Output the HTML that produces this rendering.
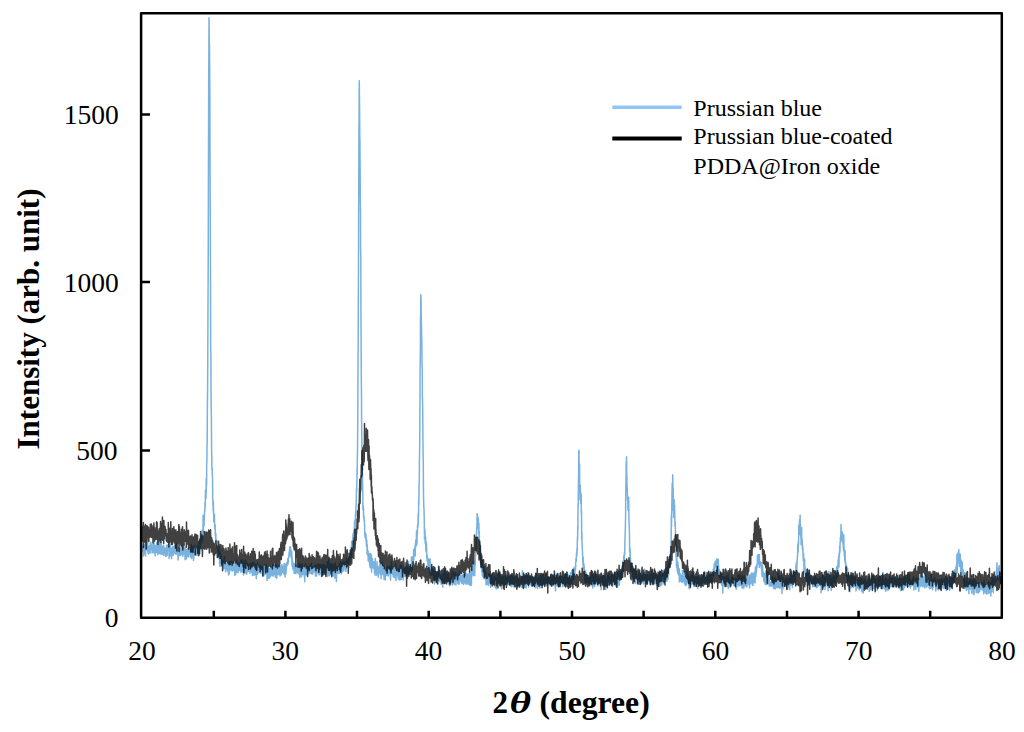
<!DOCTYPE html>
<html><head><meta charset="utf-8">
<style>
html,body{margin:0;padding:0;background:#fff;}
body{width:1024px;height:732px;overflow:hidden;}
svg{display:block;}
text{font-family:"Liberation Serif",serif;fill:#000;}
</style></head>
<body>
<svg width="1024" height="732" viewBox="0 0 1024 732">
<rect x="0" y="0" width="1024" height="732" fill="#fff"/>
<g fill="none" stroke-linejoin="round">
<path d="M142.1 550.8L142.2 546.4 142.4 545.4 142.5 551.2 142.7 546.6 142.8 548.9 143.0 550.8 143.1 546.7 143.2 547.4 143.4 550.4 143.5 555.9 143.7 550.4 143.8 550.9 144.0 548.6 144.1 548.3 144.2 553.4 144.4 546.0 144.5 546.2 144.7 553.4 144.8 545.9 145.0 544.4 145.1 550.1 145.3 551.8 145.4 554.3 145.5 555.9 145.7 541.0 145.8 547.9 146.0 547.5 146.1 549.8 146.3 545.7 146.4 548.7 146.5 549.5 146.7 549.2 146.8 545.8 147.0 549.4 147.1 545.7 147.3 545.8 147.4 547.7 147.5 551.3 147.7 541.9 147.8 548.4 148.0 553.2 148.1 549.1 148.3 546.8 148.4 549.5 148.5 553.9 148.7 548.1 148.8 546.3 149.0 551.2 149.1 547.8 149.3 546.3 149.4 551.4 149.6 545.8 149.7 547.6 149.8 553.1 150.0 549.2 150.1 552.9 150.3 542.7 150.4 543.6 150.6 546.0 150.7 548.2 150.8 542.3 151.0 549.4 151.1 546.8 151.3 546.9 151.4 548.7 151.6 547.8 151.7 544.6 151.8 547.9 152.0 544.7 152.1 553.1 152.3 547.1 152.4 547.8 152.6 546.5 152.7 548.8 152.8 549.4 153.0 548.2 153.1 545.2 153.3 552.4 153.4 548.6 153.6 542.4 153.7 541.2 153.9 544.9 154.0 544.8 154.1 543.1 154.3 545.4 154.4 549.8 154.6 552.9 154.7 549.4 154.9 549.8 155.0 552.5 155.1 556.0 155.3 552.5 155.4 550.7 155.6 548.3 155.7 545.4 155.9 550.2 156.0 552.7 156.1 549.8 156.3 546.9 156.4 550.7 156.6 548.5 156.7 546.8 156.9 542.1 157.0 550.6 157.1 546.6 157.3 552.6 157.4 546.7 157.6 549.1 157.7 546.9 157.9 554.7 158.0 553.3 158.1 548.8 158.3 553.6 158.4 544.7 158.6 551.0 158.7 547.0 158.9 548.4 159.0 547.3 159.2 550.8 159.3 542.9 159.4 547.3 159.6 553.5 159.7 541.3 159.9 548.2 160.0 544.4 160.2 540.0 160.3 550.2 160.4 547.3 160.6 553.2 160.7 542.7 160.9 550.2 161.0 554.3 161.2 542.7 161.3 551.1 161.4 551.3 161.6 549.7 161.7 553.7 161.9 551.3 162.0 546.6 162.2 546.4 162.3 548.6 162.4 554.6 162.6 548.6 162.7 552.1 162.9 548.6 163.0 551.2 163.2 550.9 163.3 553.2 163.5 555.3 163.6 547.4 163.7 545.3 163.9 548.9 164.0 549.1 164.2 550.1 164.3 552.6 164.5 547.9 164.6 549.4 164.7 549.4 164.9 553.1 165.0 548.0 165.2 553.5 165.3 556.0 165.5 548.8 165.6 554.4 165.7 551.5 165.9 549.4 166.0 556.5 166.2 553.9 166.3 548.7 166.5 551.7 166.6 547.6 166.7 545.2 166.9 553.5 167.0 550.0 167.2 555.5 167.3 550.6 167.5 551.0 167.6 549.7 167.8 550.7 167.9 547.5 168.0 549.4 168.2 544.3 168.3 544.1 168.5 545.6 168.6 548.1 168.8 549.9 168.9 549.6 169.0 554.2 169.2 558.6 169.3 542.1 169.5 555.2 169.6 553.5 169.8 548.4 169.9 550.9 170.0 543.8 170.2 549.6 170.3 555.7 170.5 546.4 170.6 548.4 170.8 550.8 170.9 552.8 171.0 550.7 171.2 548.8 171.3 552.7 171.5 548.6 171.6 558.7 171.8 554.8 171.9 551.0 172.0 547.9 172.2 548.8 172.3 548.2 172.5 549.6 172.6 552.2 172.8 546.4 172.9 551.3 173.1 550.8 173.2 547.6 173.3 555.2 173.5 552.5 173.6 551.9 173.8 549.0 173.9 548.4 174.1 551.0 174.2 546.0 174.3 552.2 174.5 547.1 174.6 550.9 174.8 553.2 174.9 550.1 175.1 548.8 175.2 548.5 175.3 551.5 175.5 547.3 175.6 550.9 175.8 554.3 175.9 544.7 176.1 548.4 176.2 552.0 176.3 547.4 176.5 547.6 176.6 547.0 176.8 554.0 176.9 544.0 177.1 550.7 177.2 550.5 177.4 551.2 177.5 548.5 177.6 551.4 177.8 549.4 177.9 548.3 178.1 559.9 178.2 554.6 178.4 547.6 178.5 548.9 178.6 552.7 178.8 556.1 178.9 550.6 179.1 553.7 179.2 552.0 179.4 555.3 179.5 549.6 179.6 548.8 179.8 552.3 179.9 552.4 180.1 551.6 180.2 555.6 180.4 553.8 180.5 551.9 180.6 547.6 180.8 553.9 180.9 554.5 181.1 549.4 181.2 551.3 181.4 547.9 181.5 552.1 181.7 550.9 181.8 545.7 181.9 551.7 182.1 550.6 182.2 550.6 182.4 555.2 182.5 553.4 182.7 554.7 182.8 550.7 182.9 556.3 183.1 549.2 183.2 554.3 183.4 546.8 183.5 552.6 183.7 548.4 183.8 547.0 183.9 554.1 184.1 552.5 184.2 553.6 184.4 552.1 184.5 552.8 184.7 551.8 184.8 551.4 184.9 552.4 185.1 559.7 185.2 548.6 185.4 547.0 185.5 549.0 185.7 549.9 185.8 554.0 185.9 556.0 186.1 556.2 186.2 551.7 186.4 554.9 186.5 558.8 186.7 554.7 186.8 557.0 187.0 549.4 187.1 555.7 187.2 555.5 187.4 548.7 187.5 553.0 187.7 555.0 187.8 549.9 188.0 556.0 188.1 556.3 188.2 554.0 188.4 552.7 188.5 552.4 188.7 554.4 188.8 556.9 189.0 548.5 189.1 553.8 189.2 554.0 189.4 550.2 189.5 548.8 189.7 552.5 189.8 547.5 190.0 554.0 190.1 552.3 190.2 549.5 190.4 553.3 190.5 550.4 190.7 550.8 190.8 557.3 191.0 550.6 191.1 544.5 191.3 554.3 191.4 549.7 191.5 550.2 191.7 558.6 191.8 553.0 192.0 556.1 192.1 548.5 192.3 549.7 192.4 550.4 192.5 555.7 192.7 550.9 192.8 546.6 193.0 555.8 193.1 551.4 193.3 553.4 193.4 555.8 193.5 560.6 193.7 552.9 193.8 558.5 194.0 548.2 194.1 553.5 194.3 554.0 194.4 545.2 194.5 549.4 194.7 550.3 194.8 554.5 195.0 551.0 195.1 551.1 195.3 550.2 195.4 554.1 195.6 552.2 195.7 552.0 195.8 551.4 196.0 554.5 196.1 549.5 196.3 551.8 196.4 551.9 196.6 553.0 196.7 555.1 196.8 552.6 197.0 546.5 197.1 554.7 197.3 555.3 197.4 555.4 197.6 553.7 197.7 544.9 197.8 549.8 198.0 552.9 198.1 552.8 198.3 549.2 198.4 549.8 198.6 545.1 198.7 550.2 198.8 540.9 199.0 547.3 199.1 551.3 199.3 543.0 199.4 551.7 199.6 553.9 199.7 548.2 199.8 543.9 200.0 543.5 200.1 540.3 200.3 547.1 200.4 539.7 200.6 544.0 200.7 538.6 200.9 544.2 201.0 536.2 201.1 540.4 201.3 537.4 201.4 543.5 201.6 537.2 201.7 537.4 201.9 541.8 202.0 532.0 202.1 530.6 202.3 534.4 202.4 529.6 202.6 539.7 202.7 532.4 202.9 531.8 203.0 528.3 203.1 515.3 203.3 532.8 203.4 525.7 203.6 516.2 203.7 518.9 203.9 522.1 204.0 526.2 204.1 520.8 204.3 519.4 204.4 517.6 204.6 510.3 204.7 509.5 204.9 510.7 205.0 502.3 205.2 506.6 205.3 507.3 205.4 490.2 205.6 497.9 205.7 494.8 205.9 493.5 206.0 498.6 206.2 478.8 206.3 492.0 206.4 480.7 206.6 485.2 206.7 463.3 206.9 460.1 207.0 448.5 207.2 441.6 207.3 420.0 207.4 404.8 207.6 389.6 207.7 372.2 207.9 330.0 208.0 304.6 208.2 264.2 208.3 229.6 208.4 188.8 208.6 118.8 208.7 78.8 208.9 49.2 209.0 17.7 209.2 35.4 209.3 42.3 209.5 45.6 209.6 63.3 209.7 71.5 209.9 103.6 210.0 152.7 210.2 201.1 210.3 223.5 210.5 267.9 210.6 314.6 210.7 346.9 210.9 353.9 211.0 387.0 211.2 410.1 211.3 411.1 211.5 432.7 211.6 448.4 211.7 453.9 211.9 468.1 212.0 469.8 212.2 468.4 212.3 476.2 212.5 476.1 212.6 484.5 212.7 498.1 212.9 499.9 213.0 504.0 213.2 510.7 213.3 501.3 213.5 507.0 213.6 512.3 213.8 521.9 213.9 517.4 214.0 517.4 214.2 521.3 214.3 517.5 214.5 514.4 214.6 527.2 214.8 524.7 214.9 530.1 215.0 524.3 215.2 527.0 215.3 535.6 215.5 534.5 215.6 538.9 215.8 533.2 215.9 537.5 216.0 541.3 216.2 543.2 216.3 540.3 216.5 542.7 216.6 542.2 216.8 542.9 216.9 544.2 217.0 547.1 217.2 540.8 217.3 546.8 217.5 543.7 217.6 548.6 217.8 548.2 217.9 550.6 218.0 549.6 218.2 550.7 218.3 546.6 218.5 557.9 218.6 547.9 218.8 546.5 218.9 555.6 219.1 557.1 219.2 555.0 219.3 554.6 219.5 552.1 219.6 563.8 219.8 551.0 219.9 566.4 220.1 552.4 220.2 554.9 220.3 558.1 220.5 557.8 220.6 561.6 220.8 557.1 220.9 559.3 221.1 555.0 221.2 565.4 221.3 560.2 221.5 558.8 221.6 561.9 221.8 565.3 221.9 563.6 222.1 560.0 222.2 563.3 222.3 564.1 222.5 564.6 222.6 562.2 222.8 565.9 222.9 559.7 223.1 564.3 223.2 561.1 223.4 564.3 223.5 562.2 223.6 566.8 223.8 563.1 223.9 568.8 224.1 561.5 224.2 568.5 224.4 562.0 224.5 556.5 224.6 561.7 224.8 568.3 224.9 566.1 225.1 567.2 225.2 564.2 225.4 566.8 225.5 562.3 225.6 571.8 225.8 571.4 225.9 567.6 226.1 564.1 226.2 563.9 226.4 568.4 226.5 567.5 226.6 563.3 226.8 569.0 226.9 569.5 227.1 568.5 227.2 568.0 227.4 567.6 227.5 566.8 227.7 565.8 227.8 564.8 227.9 571.2 228.1 561.7 228.2 567.5 228.4 570.1 228.5 575.0 228.7 566.0 228.8 572.0 228.9 571.7 229.1 570.6 229.2 573.7 229.4 561.9 229.5 570.9 229.7 567.3 229.8 569.2 229.9 567.3 230.1 564.9 230.2 561.4 230.4 569.2 230.5 567.0 230.7 563.3 230.8 567.4 230.9 564.1 231.1 564.9 231.2 568.5 231.4 570.5 231.5 561.3 231.7 567.6 231.8 569.9 231.9 563.6 232.1 566.9 232.2 569.0 232.4 571.1 232.5 564.1 232.7 562.4 232.8 565.9 233.0 566.2 233.1 567.9 233.2 568.1 233.4 561.4 233.5 570.4 233.7 562.4 233.8 569.2 234.0 569.7 234.1 569.5 234.2 569.1 234.4 569.3 234.5 565.4 234.7 565.3 234.8 575.3 235.0 573.5 235.1 572.7 235.2 570.9 235.4 562.8 235.5 574.5 235.7 567.5 235.8 568.1 236.0 570.8 236.1 566.0 236.2 572.7 236.4 560.1 236.5 572.4 236.7 570.0 236.8 565.4 237.0 571.1 237.1 572.2 237.3 571.0 237.4 571.5 237.5 567.4 237.7 571.9 237.8 571.9 238.0 572.6 238.1 570.5 238.3 562.7 238.4 570.1 238.5 563.9 238.7 565.7 238.8 567.8 239.0 568.8 239.1 567.2 239.3 569.3 239.4 569.9 239.5 568.8 239.7 568.4 239.8 569.4 240.0 570.5 240.1 565.0 240.3 563.1 240.4 571.7 240.5 568.5 240.7 560.3 240.8 571.9 241.0 571.9 241.1 561.9 241.3 564.1 241.4 566.3 241.6 563.9 241.7 565.9 241.8 567.9 242.0 571.4 242.1 559.7 242.3 568.4 242.4 571.8 242.6 559.9 242.7 569.2 242.8 567.9 243.0 566.2 243.1 570.7 243.3 572.7 243.4 571.9 243.6 575.1 243.7 565.8 243.8 561.2 244.0 566.4 244.1 568.8 244.3 572.2 244.4 570.1 244.6 566.2 244.7 572.9 244.8 569.8 245.0 569.1 245.1 567.6 245.3 569.7 245.4 570.3 245.6 568.4 245.7 560.2 245.8 565.3 246.0 569.8 246.1 573.7 246.3 572.3 246.4 572.1 246.6 574.3 246.7 570.7 246.9 572.9 247.0 571.9 247.1 569.3 247.3 565.4 247.4 562.9 247.6 570.0 247.7 564.3 247.9 568.1 248.0 571.0 248.1 566.1 248.3 571.6 248.4 568.7 248.6 565.5 248.7 570.5 248.9 571.0 249.0 566.9 249.1 570.2 249.3 564.7 249.4 569.0 249.6 569.6 249.7 565.1 249.9 569.0 250.0 573.6 250.1 566.5 250.3 564.8 250.4 563.8 250.6 566.1 250.7 565.0 250.9 563.1 251.0 569.1 251.2 569.9 251.3 565.5 251.4 569.1 251.6 572.1 251.7 570.1 251.9 569.6 252.0 571.3 252.2 566.8 252.3 572.1 252.4 575.4 252.6 566.8 252.7 562.7 252.9 566.6 253.0 565.7 253.2 569.9 253.3 573.3 253.4 571.1 253.6 575.1 253.7 570.8 253.9 569.6 254.0 562.7 254.2 570.7 254.3 567.2 254.4 567.6 254.6 568.5 254.7 574.9 254.9 572.4 255.0 569.5 255.2 564.6 255.3 568.0 255.5 568.6 255.6 572.5 255.7 571.4 255.9 571.3 256.0 566.4 256.2 572.8 256.3 578.7 256.5 564.8 256.6 566.1 256.7 569.8 256.9 572.9 257.0 570.5 257.2 570.0 257.3 574.6 257.5 566.0 257.6 562.7 257.7 564.5 257.9 572.3 258.0 572.8 258.2 568.3 258.3 564.7 258.5 566.7 258.6 570.9 258.7 572.9 258.9 567.5 259.0 566.8 259.2 566.5 259.3 567.5 259.5 571.9 259.6 570.2 259.7 570.8 259.9 570.0 260.0 570.3 260.2 565.2 260.3 566.0 260.5 570.8 260.6 571.0 260.8 573.3 260.9 569.4 261.0 566.8 261.2 569.1 261.3 568.9 261.5 571.6 261.6 569.2 261.8 571.6 261.9 571.7 262.0 571.7 262.2 571.9 262.3 566.6 262.5 573.9 262.6 575.7 262.8 573.0 262.9 575.7 263.0 571.7 263.2 568.5 263.3 572.2 263.5 570.3 263.6 570.0 263.8 575.9 263.9 567.5 264.0 574.4 264.2 568.7 264.3 564.8 264.5 573.1 264.6 571.0 264.8 571.5 264.9 571.6 265.1 574.5 265.2 572.1 265.3 570.0 265.5 570.6 265.6 572.5 265.8 569.2 265.9 572.3 266.1 564.2 266.2 570.7 266.3 571.0 266.5 573.5 266.6 567.5 266.8 570.4 266.9 572.6 267.1 580.6 267.2 571.8 267.3 573.2 267.5 569.4 267.6 578.4 267.8 570.5 267.9 570.4 268.1 571.7 268.2 566.9 268.3 567.9 268.5 570.0 268.6 568.5 268.8 574.4 268.9 569.5 269.1 578.6 269.2 572.1 269.4 568.7 269.5 571.7 269.6 573.5 269.8 571.2 269.9 572.6 270.1 570.4 270.2 568.6 270.4 570.8 270.5 576.9 270.6 569.8 270.8 570.9 270.9 566.1 271.1 569.0 271.2 572.2 271.4 570.0 271.5 574.9 271.6 574.3 271.8 569.6 271.9 570.8 272.1 573.3 272.2 572.3 272.4 570.1 272.5 565.1 272.6 575.7 272.8 571.2 272.9 571.7 273.1 568.8 273.2 576.1 273.4 570.8 273.5 571.8 273.6 564.5 273.8 569.6 273.9 571.0 274.1 572.4 274.2 573.4 274.4 570.5 274.5 574.5 274.7 570.7 274.8 570.6 274.9 571.1 275.1 565.6 275.2 563.8 275.4 577.2 275.5 565.4 275.7 569.1 275.8 573.0 275.9 568.9 276.1 574.8 276.2 564.6 276.4 571.5 276.5 573.1 276.7 578.3 276.8 575.9 276.9 568.7 277.1 573.9 277.2 572.0 277.4 567.1 277.5 569.4 277.7 574.5 277.8 570.1 277.9 567.9 278.1 569.0 278.2 566.8 278.4 565.8 278.5 572.2 278.7 572.5 278.8 574.4 279.0 565.8 279.1 567.2 279.2 572.3 279.4 571.4 279.5 570.3 279.7 566.9 279.8 569.8 280.0 566.1 280.1 575.9 280.2 573.1 280.4 567.5 280.5 574.8 280.7 567.3 280.8 572.6 281.0 571.2 281.1 569.3 281.2 575.1 281.4 565.1 281.5 569.5 281.7 569.4 281.8 564.6 282.0 565.4 282.1 570.8 282.2 571.2 282.4 567.0 282.5 572.1 282.7 571.8 282.8 572.8 283.0 569.4 283.1 569.8 283.3 572.1 283.4 568.2 283.5 567.2 283.7 565.9 283.8 571.6 284.0 574.1 284.1 563.6 284.3 568.8 284.4 572.1 284.5 574.6 284.7 570.5 284.8 566.8 285.0 571.8 285.1 577.1 285.3 570.6 285.4 571.6 285.5 574.9 285.7 563.9 285.8 571.5 286.0 573.6 286.1 571.7 286.3 568.7 286.4 566.6 286.5 565.7 286.7 562.8 286.8 565.1 287.0 562.3 287.1 565.6 287.3 564.7 287.4 562.8 287.5 562.8 287.7 563.8 287.8 558.5 288.0 564.3 288.1 561.9 288.3 562.5 288.4 558.3 288.6 557.8 288.7 558.0 288.8 556.9 289.0 554.0 289.1 553.2 289.3 551.5 289.4 551.2 289.6 549.0 289.7 548.1 289.8 546.9 290.0 555.8 290.1 547.7 290.3 549.9 290.4 546.8 290.6 551.5 290.7 556.2 290.8 549.3 291.0 553.4 291.1 553.3 291.3 557.7 291.4 555.1 291.6 556.0 291.7 556.5 291.8 551.2 292.0 562.8 292.1 566.0 292.3 558.0 292.4 564.8 292.6 562.5 292.7 568.2 292.9 562.0 293.0 566.0 293.1 569.5 293.3 567.4 293.4 566.7 293.6 566.2 293.7 564.7 293.9 567.5 294.0 564.2 294.1 573.2 294.3 569.8 294.4 567.7 294.6 563.4 294.7 572.1 294.9 573.2 295.0 570.4 295.1 572.0 295.3 572.1 295.4 569.3 295.6 568.6 295.7 570.0 295.9 573.7 296.0 568.0 296.1 564.8 296.3 570.3 296.4 570.4 296.6 569.8 296.7 570.7 296.9 566.4 297.0 567.5 297.2 569.0 297.3 570.1 297.4 572.0 297.6 572.7 297.7 571.1 297.9 570.0 298.0 567.4 298.2 569.0 298.3 565.6 298.4 568.3 298.6 571.9 298.7 572.4 298.9 567.4 299.0 574.3 299.2 563.2 299.3 572.3 299.4 570.7 299.6 570.2 299.7 572.0 299.9 569.4 300.0 577.8 300.2 569.3 300.3 569.7 300.4 571.7 300.6 564.6 300.7 570.3 300.9 566.3 301.0 575.0 301.2 569.2 301.3 570.3 301.4 565.2 301.6 576.5 301.7 565.3 301.9 566.1 302.0 568.4 302.2 563.6 302.3 566.5 302.5 569.4 302.6 574.0 302.7 574.2 302.9 567.0 303.0 568.8 303.2 572.7 303.3 574.3 303.5 568.0 303.6 569.8 303.7 570.6 303.9 571.0 304.0 569.8 304.2 576.2 304.3 569.9 304.5 574.4 304.6 572.3 304.7 581.8 304.9 575.3 305.0 564.6 305.2 572.7 305.3 564.1 305.5 574.9 305.6 569.7 305.7 563.9 305.9 567.4 306.0 569.5 306.2 575.1 306.3 570.8 306.5 572.0 306.6 568.4 306.8 568.9 306.9 565.7 307.0 569.1 307.2 569.5 307.3 570.1 307.5 567.6 307.6 569.5 307.8 568.7 307.9 570.9 308.0 568.0 308.2 568.1 308.3 567.2 308.5 567.8 308.6 569.0 308.8 566.7 308.9 573.9 309.0 573.2 309.2 571.0 309.3 572.3 309.5 565.9 309.6 567.8 309.8 568.3 309.9 570.6 310.0 572.4 310.2 572.5 310.3 565.1 310.5 569.6 310.6 573.3 310.8 568.9 310.9 571.2 311.1 564.4 311.2 569.8 311.3 568.9 311.5 563.3 311.6 572.2 311.8 574.1 311.9 572.3 312.1 568.6 312.2 569.2 312.3 567.5 312.5 571.6 312.6 571.1 312.8 574.2 312.9 569.6 313.1 572.6 313.2 568.9 313.3 567.3 313.5 569.5 313.6 566.8 313.8 566.8 313.9 571.9 314.1 571.8 314.2 567.0 314.3 566.6 314.5 568.9 314.6 567.1 314.8 571.8 314.9 568.4 315.1 565.3 315.2 566.8 315.3 570.8 315.5 576.1 315.6 571.1 315.8 565.1 315.9 566.6 316.1 570.0 316.2 568.9 316.4 569.9 316.5 575.9 316.6 566.1 316.8 566.3 316.9 569.3 317.1 569.6 317.2 570.2 317.4 572.1 317.5 569.4 317.6 572.9 317.8 570.1 317.9 570.8 318.1 564.0 318.2 566.8 318.4 568.3 318.5 571.6 318.6 567.5 318.8 566.5 318.9 567.2 319.1 575.1 319.2 564.8 319.4 570.3 319.5 569.8 319.6 574.2 319.8 571.8 319.9 568.6 320.1 572.4 320.2 573.8 320.4 568.5 320.5 564.3 320.7 565.9 320.8 569.9 320.9 566.4 321.1 570.1 321.2 573.3 321.4 570.4 321.5 576.7 321.7 569.3 321.8 565.8 321.9 570.3 322.1 572.9 322.2 565.3 322.4 571.2 322.5 575.0 322.7 570.4 322.8 575.6 322.9 565.0 323.1 571.6 323.2 564.4 323.4 564.2 323.5 565.0 323.7 573.1 323.8 570.7 323.9 574.2 324.1 567.0 324.2 564.3 324.4 572.5 324.5 567.5 324.7 564.8 324.8 572.2 325.0 573.1 325.1 567.2 325.2 570.2 325.4 571.5 325.5 566.7 325.7 567.1 325.8 570.6 326.0 575.0 326.1 566.6 326.2 572.4 326.4 571.6 326.5 570.4 326.7 569.1 326.8 567.1 327.0 572.0 327.1 569.4 327.2 561.7 327.4 570.9 327.5 567.2 327.7 569.3 327.8 576.4 328.0 570.9 328.1 563.0 328.2 568.4 328.4 566.0 328.5 573.0 328.7 558.9 328.8 571.6 329.0 569.9 329.1 568.6 329.2 571.1 329.4 575.7 329.5 563.6 329.7 568.0 329.8 569.7 330.0 569.8 330.1 568.9 330.3 571.3 330.4 570.2 330.5 568.4 330.7 563.6 330.8 572.0 331.0 574.7 331.1 573.7 331.3 571.2 331.4 573.8 331.5 564.9 331.7 572.5 331.8 571.0 332.0 569.7 332.1 573.7 332.3 569.3 332.4 568.6 332.5 566.5 332.7 563.8 332.8 568.3 333.0 575.7 333.1 576.0 333.3 567.8 333.4 570.4 333.5 574.9 333.7 566.4 333.8 568.3 334.0 565.1 334.1 575.1 334.3 567.6 334.4 568.5 334.6 569.6 334.7 566.8 334.8 578.3 335.0 573.6 335.1 576.8 335.3 562.8 335.4 572.3 335.6 569.1 335.7 565.9 335.8 569.9 336.0 575.1 336.1 573.6 336.3 567.9 336.4 581.4 336.6 573.5 336.7 566.9 336.8 566.8 337.0 567.5 337.1 569.4 337.3 567.8 337.4 567.4 337.6 572.9 337.7 567.4 337.8 570.1 338.0 567.5 338.1 568.7 338.3 573.6 338.4 569.7 338.6 572.2 338.7 569.3 338.9 573.4 339.0 569.4 339.1 573.4 339.3 565.0 339.4 573.2 339.6 570.9 339.7 566.2 339.9 567.0 340.0 562.4 340.1 568.3 340.3 569.8 340.4 567.2 340.6 572.6 340.7 561.5 340.9 568.1 341.0 564.5 341.1 567.0 341.3 571.6 341.4 568.6 341.6 573.7 341.7 567.3 341.9 566.2 342.0 567.4 342.1 563.2 342.3 565.2 342.4 567.9 342.6 571.3 342.7 564.5 342.9 564.8 343.0 562.3 343.1 562.8 343.3 567.4 343.4 567.6 343.6 568.5 343.7 566.3 343.9 570.9 344.0 561.0 344.2 566.9 344.3 569.1 344.4 565.7 344.6 568.2 344.7 565.8 344.9 565.2 345.0 567.0 345.2 564.0 345.3 566.1 345.4 568.2 345.6 562.1 345.7 568.3 345.9 569.9 346.0 571.4 346.2 564.3 346.3 569.3 346.4 558.6 346.6 560.1 346.7 565.0 346.9 560.6 347.0 561.0 347.2 560.5 347.3 562.8 347.4 561.3 347.6 560.0 347.7 563.1 347.9 561.0 348.0 562.7 348.2 563.5 348.3 564.1 348.5 561.1 348.6 560.0 348.7 559.7 348.9 556.9 349.0 562.2 349.2 559.9 349.3 563.6 349.5 560.5 349.6 557.1 349.7 561.7 349.9 557.0 350.0 557.3 350.2 558.9 350.3 557.5 350.5 553.2 350.6 558.2 350.7 556.5 350.9 554.3 351.0 553.0 351.2 554.1 351.3 546.6 351.5 556.9 351.6 541.3 351.7 546.4 351.9 545.7 352.0 550.3 352.2 548.1 352.3 548.5 352.5 541.2 352.6 550.2 352.8 548.0 352.9 534.7 353.0 543.1 353.2 533.1 353.3 537.7 353.5 541.3 353.6 537.8 353.8 530.8 353.9 532.5 354.0 538.6 354.2 533.2 354.3 534.2 354.5 521.8 354.6 530.2 354.8 527.1 354.9 520.0 355.0 529.2 355.2 520.5 355.3 522.8 355.5 513.9 355.6 516.0 355.8 514.2 355.9 508.3 356.0 506.4 356.2 504.3 356.3 498.7 356.5 488.6 356.6 492.6 356.8 485.1 356.9 481.3 357.1 468.3 357.2 473.7 357.3 460.4 357.5 451.6 357.6 440.6 357.8 417.4 357.9 387.2 358.1 354.3 358.2 343.3 358.3 302.3 358.5 269.3 358.6 233.3 358.8 177.6 358.9 131.6 359.1 115.6 359.2 88.8 359.3 80.8 359.5 102.3 359.6 111.3 359.8 138.0 359.9 139.9 360.1 166.5 360.2 180.7 360.3 199.3 360.5 213.2 360.6 248.5 360.8 256.7 360.9 302.2 361.1 336.1 361.2 354.2 361.3 379.4 361.5 395.0 361.6 420.7 361.8 437.6 361.9 449.3 362.1 461.6 362.2 472.0 362.4 478.1 362.5 473.5 362.6 483.2 362.8 493.6 362.9 509.6 363.1 507.7 363.2 505.6 363.4 507.8 363.5 509.5 363.6 517.0 363.8 515.2 363.9 519.1 364.1 516.9 364.2 521.0 364.4 520.4 364.5 523.1 364.6 526.8 364.8 535.2 364.9 533.1 365.1 537.6 365.2 532.5 365.4 537.0 365.5 534.6 365.6 537.6 365.8 538.9 365.9 534.0 366.1 542.0 366.2 538.0 366.4 545.9 366.5 542.4 366.7 539.7 366.8 542.1 366.9 544.2 367.1 554.2 367.2 544.5 367.4 548.7 367.5 551.6 367.7 551.0 367.8 552.2 367.9 555.7 368.1 551.1 368.2 560.9 368.4 560.1 368.5 556.4 368.7 561.2 368.8 557.2 368.9 555.8 369.1 553.5 369.2 555.9 369.4 560.9 369.5 560.4 369.7 565.4 369.8 565.7 369.9 563.7 370.1 561.4 370.2 567.6 370.4 561.5 370.5 553.6 370.7 561.4 370.8 564.3 371.0 564.9 371.1 565.3 371.2 566.2 371.4 554.9 371.5 571.9 371.7 566.2 371.8 564.8 372.0 558.2 372.1 567.8 372.2 561.7 372.4 558.6 372.5 567.6 372.7 567.6 372.8 565.5 373.0 563.0 373.1 567.7 373.2 566.6 373.4 567.7 373.5 568.1 373.7 561.8 373.8 568.5 374.0 562.9 374.1 568.8 374.2 566.1 374.4 565.7 374.5 573.0 374.7 568.4 374.8 568.4 375.0 570.5 375.1 575.2 375.2 558.6 375.4 569.9 375.5 568.5 375.7 572.2 375.8 568.6 376.0 568.4 376.1 570.7 376.3 568.7 376.4 565.9 376.5 569.0 376.7 575.2 376.8 571.1 377.0 561.5 377.1 568.8 377.3 566.1 377.4 572.5 377.5 565.6 377.7 569.2 377.8 571.2 378.0 572.4 378.1 567.6 378.3 570.6 378.4 577.3 378.5 567.6 378.7 570.0 378.8 567.0 379.0 569.4 379.1 571.7 379.3 570.3 379.4 572.3 379.5 565.9 379.7 570.7 379.8 569.2 380.0 560.8 380.1 574.0 380.3 570.8 380.4 568.5 380.6 574.0 380.7 572.3 380.8 562.7 381.0 572.2 381.1 578.7 381.3 571.7 381.4 573.5 381.6 565.2 381.7 565.6 381.8 566.1 382.0 574.5 382.1 574.0 382.3 562.5 382.4 573.9 382.6 564.0 382.7 566.3 382.8 570.7 383.0 568.7 383.1 570.9 383.3 571.8 383.4 575.0 383.6 569.5 383.7 568.9 383.8 568.8 384.0 579.3 384.1 575.2 384.3 575.4 384.4 573.3 384.6 572.2 384.7 576.2 384.9 571.2 385.0 566.4 385.1 566.1 385.3 580.0 385.4 568.0 385.6 569.2 385.7 571.0 385.9 575.2 386.0 567.8 386.1 570.9 386.3 572.9 386.4 567.3 386.6 571.9 386.7 575.4 386.9 572.6 387.0 572.1 387.1 573.5 387.3 571.6 387.4 570.3 387.6 570.1 387.7 574.7 387.9 566.3 388.0 567.8 388.1 574.6 388.3 576.0 388.4 572.3 388.6 569.1 388.7 566.5 388.9 574.0 389.0 572.6 389.1 573.2 389.3 573.4 389.4 568.5 389.6 569.4 389.7 571.7 389.9 571.4 390.0 566.5 390.2 567.8 390.3 571.4 390.4 576.8 390.6 580.1 390.7 572.9 390.9 571.0 391.0 573.1 391.2 572.4 391.3 569.2 391.4 561.2 391.6 572.8 391.7 570.1 391.9 572.0 392.0 568.9 392.2 571.1 392.3 572.8 392.4 567.8 392.6 569.9 392.7 574.5 392.9 575.0 393.0 566.4 393.2 575.2 393.3 576.9 393.4 574.0 393.6 574.1 393.7 573.1 393.9 574.0 394.0 571.0 394.2 577.0 394.3 572.6 394.5 567.8 394.6 574.5 394.7 575.8 394.9 574.1 395.0 569.4 395.2 574.9 395.3 563.0 395.5 578.5 395.6 574.7 395.7 566.7 395.9 565.7 396.0 580.8 396.2 573.6 396.3 570.3 396.5 573.9 396.6 572.1 396.7 572.1 396.9 573.9 397.0 573.8 397.2 569.2 397.3 573.9 397.5 573.6 397.6 569.5 397.7 576.1 397.9 574.7 398.0 569.4 398.2 579.0 398.3 574.8 398.5 577.6 398.6 570.4 398.8 571.3 398.9 573.4 399.0 571.0 399.2 572.2 399.3 568.1 399.5 579.9 399.6 574.7 399.8 577.4 399.9 578.9 400.0 572.8 400.2 579.8 400.3 565.0 400.5 571.6 400.6 571.0 400.8 572.7 400.9 568.9 401.0 575.9 401.2 579.6 401.3 573.6 401.5 574.9 401.6 565.4 401.8 570.3 401.9 574.2 402.0 570.5 402.2 573.8 402.3 571.4 402.5 574.0 402.6 568.0 402.8 574.5 402.9 577.6 403.0 575.1 403.2 580.0 403.3 572.4 403.5 575.7 403.6 568.2 403.8 576.0 403.9 574.4 404.1 571.8 404.2 576.5 404.3 568.6 404.5 571.7 404.6 573.6 404.8 569.0 404.9 569.1 405.1 575.8 405.2 571.1 405.3 568.7 405.5 570.6 405.6 570.2 405.8 569.5 405.9 573.3 406.1 568.4 406.2 566.8 406.3 572.1 406.5 571.5 406.6 576.0 406.8 567.1 406.9 569.6 407.1 575.0 407.2 572.6 407.3 569.3 407.5 568.3 407.6 573.5 407.8 570.8 407.9 567.9 408.1 569.2 408.2 569.2 408.4 573.8 408.5 561.4 408.6 568.1 408.8 574.3 408.9 563.9 409.1 568.7 409.2 572.5 409.4 564.6 409.5 567.1 409.6 565.8 409.8 569.3 409.9 566.1 410.1 564.4 410.2 568.3 410.4 568.4 410.5 571.5 410.6 565.7 410.8 566.2 410.9 564.4 411.1 570.5 411.2 570.2 411.4 562.4 411.5 557.1 411.6 571.8 411.8 557.2 411.9 557.1 412.1 561.1 412.2 569.9 412.4 566.4 412.5 560.6 412.7 563.7 412.8 559.7 412.9 564.1 413.1 557.4 413.2 564.7 413.4 560.0 413.5 554.7 413.7 549.3 413.8 560.1 413.9 556.8 414.1 549.9 414.2 549.3 414.4 550.1 414.5 549.9 414.7 549.7 414.8 549.6 414.9 548.8 415.1 545.6 415.2 556.0 415.4 545.1 415.5 542.7 415.7 547.1 415.8 540.0 415.9 545.0 416.1 542.9 416.2 546.0 416.4 536.1 416.5 530.9 416.7 543.9 416.8 536.7 416.9 544.5 417.1 538.6 417.2 531.8 417.4 534.2 417.5 525.3 417.7 524.5 417.8 527.4 418.0 525.7 418.1 514.1 418.2 523.6 418.4 518.9 418.5 517.7 418.7 499.5 418.8 504.9 419.0 491.3 419.1 484.0 419.2 483.6 419.4 466.4 419.5 456.8 419.7 444.3 419.8 429.5 420.0 395.8 420.1 375.4 420.2 365.2 420.4 347.0 420.5 318.3 420.7 314.5 420.8 294.8 421.0 297.8 421.1 302.3 421.2 312.2 421.4 325.0 421.5 325.6 421.7 338.9 421.8 338.8 422.0 360.2 422.1 367.3 422.3 368.2 422.4 399.2 422.5 396.9 422.7 409.8 422.8 423.6 423.0 443.6 423.1 455.5 423.3 462.8 423.4 480.8 423.5 493.8 423.7 504.5 423.8 506.8 424.0 508.6 424.1 511.9 424.3 523.4 424.4 531.0 424.5 539.1 424.7 529.9 424.8 529.0 425.0 532.0 425.1 540.3 425.3 543.6 425.4 539.1 425.5 538.8 425.7 537.0 425.8 550.0 426.0 541.4 426.1 551.7 426.3 549.6 426.4 543.1 426.6 547.6 426.7 557.4 426.8 554.3 427.0 554.2 427.1 561.0 427.3 556.7 427.4 558.1 427.6 558.9 427.7 559.5 427.8 564.2 428.0 558.5 428.1 565.5 428.3 567.8 428.4 560.5 428.6 564.9 428.7 559.2 428.8 564.5 429.0 569.3 429.1 568.7 429.3 564.2 429.4 568.3 429.6 568.5 429.7 567.5 429.8 568.1 430.0 575.1 430.1 558.7 430.3 566.5 430.4 572.2 430.6 568.9 430.7 570.9 430.8 571.1 431.0 569.5 431.1 570.7 431.3 568.2 431.4 571.2 431.6 574.1 431.7 575.3 431.9 573.8 432.0 571.3 432.1 571.1 432.3 566.7 432.4 572.2 432.6 569.7 432.7 570.8 432.9 572.2 433.0 573.8 433.1 574.3 433.3 574.0 433.4 570.3 433.6 572.7 433.7 576.7 433.9 574.2 434.0 576.1 434.1 575.0 434.3 580.1 434.4 580.8 434.6 584.0 434.7 574.2 434.9 578.3 435.0 571.3 435.1 578.2 435.3 577.5 435.4 574.8 435.6 581.0 435.7 576.8 435.9 571.2 436.0 581.4 436.2 576.9 436.3 579.3 436.4 574.5 436.6 574.2 436.7 572.8 436.9 573.3 437.0 579.3 437.2 578.8 437.3 571.6 437.4 577.1 437.6 577.2 437.7 574.6 437.9 578.1 438.0 574.6 438.2 580.4 438.3 576.3 438.4 577.8 438.6 565.8 438.7 575.6 438.9 577.2 439.0 575.1 439.2 576.5 439.3 574.1 439.4 580.0 439.6 573.8 439.7 576.2 439.9 581.9 440.0 581.1 440.2 577.2 440.3 573.1 440.5 571.0 440.6 578.7 440.7 578.1 440.9 576.4 441.0 576.4 441.2 584.4 441.3 580.4 441.5 577.6 441.6 576.9 441.7 576.5 441.9 578.7 442.0 576.8 442.2 578.0 442.3 576.3 442.5 580.2 442.6 578.6 442.7 574.1 442.9 587.3 443.0 578.8 443.2 576.4 443.3 574.0 443.5 578.3 443.6 576.0 443.7 583.6 443.9 579.8 444.0 576.1 444.2 572.3 444.3 580.8 444.5 572.7 444.6 579.8 444.7 578.6 444.9 569.2 445.0 577.4 445.2 583.6 445.3 575.3 445.5 570.9 445.6 572.7 445.8 578.0 445.9 579.2 446.0 581.0 446.2 579.2 446.3 575.2 446.5 576.9 446.6 577.6 446.8 577.8 446.9 574.2 447.0 580.5 447.2 582.0 447.3 578.0 447.5 578.9 447.6 574.3 447.8 579.1 447.9 575.8 448.0 575.6 448.2 581.1 448.3 579.0 448.5 577.0 448.6 573.1 448.8 578.6 448.9 584.0 449.0 579.7 449.2 579.4 449.3 582.7 449.5 585.7 449.6 580.6 449.8 582.2 449.9 579.5 450.1 580.5 450.2 580.4 450.3 582.6 450.5 577.4 450.6 580.0 450.8 580.0 450.9 578.7 451.1 577.0 451.2 581.7 451.3 577.8 451.5 573.9 451.6 581.4 451.8 574.3 451.9 581.7 452.1 570.8 452.2 579.1 452.3 585.1 452.5 578.5 452.6 583.0 452.8 577.9 452.9 576.7 453.1 578.3 453.2 582.4 453.3 583.5 453.5 583.9 453.6 582.2 453.8 579.2 453.9 572.6 454.1 576.7 454.2 584.2 454.4 573.9 454.5 580.8 454.6 580.6 454.8 573.6 454.9 580.3 455.1 577.9 455.2 579.8 455.4 578.8 455.5 578.5 455.6 576.1 455.8 572.5 455.9 585.0 456.1 576.3 456.2 578.3 456.4 577.9 456.5 578.2 456.6 576.7 456.8 581.0 456.9 579.1 457.1 577.5 457.2 577.2 457.4 580.9 457.5 576.1 457.6 581.0 457.8 583.6 457.9 582.8 458.1 581.1 458.2 573.7 458.4 581.7 458.5 580.2 458.6 583.9 458.8 577.5 458.9 577.8 459.1 584.2 459.2 576.7 459.4 583.2 459.5 580.5 459.7 571.2 459.8 577.9 459.9 577.8 460.1 574.9 460.2 573.0 460.4 579.5 460.5 575.8 460.7 577.0 460.8 576.1 460.9 578.4 461.1 580.9 461.2 581.9 461.4 580.9 461.5 578.0 461.7 578.6 461.8 581.1 461.9 583.4 462.1 578.9 462.2 574.8 462.4 580.1 462.5 581.3 462.7 577.6 462.8 583.1 462.9 577.5 463.1 579.1 463.2 580.3 463.4 584.5 463.5 575.1 463.7 580.8 463.8 581.6 464.0 578.6 464.1 582.4 464.2 576.8 464.4 575.0 464.5 574.7 464.7 576.6 464.8 575.2 465.0 580.5 465.1 578.8 465.2 573.9 465.4 584.1 465.5 579.6 465.7 573.1 465.8 572.4 466.0 578.8 466.1 583.2 466.2 577.5 466.4 581.8 466.5 584.0 466.7 580.9 466.8 577.3 467.0 573.9 467.1 576.0 467.2 582.8 467.4 578.3 467.5 574.7 467.7 576.7 467.8 577.3 468.0 581.8 468.1 575.9 468.3 584.3 468.4 578.5 468.5 578.9 468.7 573.7 468.8 578.9 469.0 578.3 469.1 579.8 469.3 574.8 469.4 577.9 469.5 571.6 469.7 573.4 469.8 584.9 470.0 575.0 470.1 573.8 470.3 579.5 470.4 575.6 470.5 585.4 470.7 576.2 470.8 578.3 471.0 574.7 471.1 579.5 471.3 575.4 471.4 584.9 471.5 572.3 471.7 576.3 471.8 577.1 472.0 570.2 472.1 572.1 472.3 570.9 472.4 567.4 472.5 574.4 472.7 562.3 472.8 567.8 473.0 568.0 473.1 572.9 473.3 571.0 473.4 575.0 473.6 575.2 473.7 570.8 473.8 566.0 474.0 571.8 474.1 565.6 474.3 566.5 474.4 567.1 474.6 571.9 474.7 575.7 474.8 568.9 475.0 560.8 475.1 565.1 475.3 565.0 475.4 554.2 475.6 556.4 475.7 550.5 475.8 548.2 476.0 548.6 476.1 545.8 476.3 538.2 476.4 538.5 476.6 528.7 476.7 530.4 476.8 528.5 477.0 522.0 477.1 513.5 477.3 515.3 477.4 520.1 477.6 522.5 477.7 522.3 477.9 523.2 478.0 528.1 478.1 517.5 478.3 527.5 478.4 518.6 478.6 533.8 478.7 531.5 478.9 523.2 479.0 534.0 479.1 537.9 479.3 531.4 479.4 539.8 479.6 545.1 479.7 552.5 479.9 543.9 480.0 556.2 480.1 547.2 480.3 550.4 480.4 561.9 480.6 561.2 480.7 556.7 480.9 567.7 481.0 564.9 481.1 564.9 481.3 564.2 481.4 556.2 481.6 567.3 481.7 571.7 481.9 568.6 482.0 572.2 482.2 569.7 482.3 575.8 482.4 560.3 482.6 573.4 482.7 568.5 482.9 573.1 483.0 575.1 483.2 577.3 483.3 576.3 483.4 578.0 483.6 570.3 483.7 574.7 483.9 566.6 484.0 575.9 484.2 569.0 484.3 578.9 484.4 576.0 484.6 574.5 484.7 573.4 484.9 576.5 485.0 573.9 485.2 571.1 485.3 577.7 485.4 573.4 485.6 578.3 485.7 573.4 485.9 572.6 486.0 584.8 486.2 579.2 486.3 581.5 486.4 576.4 486.6 577.3 486.7 577.5 486.9 584.5 487.0 580.1 487.2 578.2 487.3 577.8 487.5 578.3 487.6 581.8 487.7 578.4 487.9 578.5 488.0 583.1 488.2 581.9 488.3 581.3 488.5 585.4 488.6 578.4 488.7 574.9 488.9 573.3 489.0 578.7 489.2 579.8 489.3 582.3 489.5 574.2 489.6 574.5 489.7 578.4 489.9 578.2 490.0 574.4 490.2 578.6 490.3 581.6 490.5 578.5 490.6 587.2 490.7 581.8 490.9 576.6 491.0 578.6 491.2 574.6 491.3 586.7 491.5 578.5 491.6 578.4 491.8 582.0 491.9 578.4 492.0 577.2 492.2 579.3 492.3 583.0 492.5 583.0 492.6 574.9 492.8 574.1 492.9 581.1 493.0 578.6 493.2 578.1 493.3 583.3 493.5 581.2 493.6 578.0 493.8 581.8 493.9 577.2 494.0 578.0 494.2 586.1 494.3 579.0 494.5 581.7 494.6 579.0 494.8 578.8 494.9 576.1 495.0 576.1 495.2 584.2 495.3 587.4 495.5 582.3 495.6 582.0 495.8 578.2 495.9 579.9 496.1 585.2 496.2 588.9 496.3 582.5 496.5 581.6 496.6 584.0 496.8 580.7 496.9 577.7 497.1 577.3 497.2 579.4 497.3 578.9 497.5 572.3 497.6 574.2 497.8 583.0 497.9 583.6 498.1 583.1 498.2 579.6 498.3 578.1 498.5 580.2 498.6 581.5 498.8 578.7 498.9 584.1 499.1 578.1 499.2 572.5 499.3 582.7 499.5 583.5 499.6 579.8 499.8 584.0 499.9 584.5 500.1 571.8 500.2 581.9 500.4 576.4 500.5 582.8 500.6 581.4 500.8 583.4 500.9 579.6 501.1 578.5 501.2 581.5 501.4 588.8 501.5 582.1 501.6 577.1 501.8 580.5 501.9 579.8 502.1 584.9 502.2 581.1 502.4 579.6 502.5 581.3 502.6 578.3 502.8 582.3 502.9 577.0 503.1 579.1 503.2 581.4 503.4 576.1 503.5 576.2 503.6 578.1 503.8 585.7 503.9 583.6 504.1 581.0 504.2 584.2 504.4 583.7 504.5 578.8 504.6 577.1 504.8 584.9 504.9 578.6 505.1 583.0 505.2 575.6 505.4 580.6 505.5 576.7 505.7 583.1 505.8 583.5 505.9 582.2 506.1 583.6 506.2 579.1 506.4 582.3 506.5 582.9 506.7 578.0 506.8 583.0 506.9 581.9 507.1 582.5 507.2 580.1 507.4 580.8 507.5 582.6 507.7 581.4 507.8 582.9 507.9 576.4 508.1 584.2 508.2 578.3 508.4 584.5 508.5 576.1 508.7 578.9 508.8 581.8 508.9 582.3 509.1 579.4 509.2 577.9 509.4 583.1 509.5 584.5 509.7 578.0 509.8 576.9 510.0 579.0 510.1 580.6 510.2 575.1 510.4 577.6 510.5 583.2 510.7 578.3 510.8 578.2 511.0 586.1 511.1 584.7 511.2 586.7 511.4 581.0 511.5 580.6 511.7 579.7 511.8 576.1 512.0 574.0 512.1 580.8 512.2 578.5 512.4 583.2 512.5 584.4 512.7 576.0 512.8 576.5 513.0 581.9 513.1 585.9 513.2 586.4 513.4 578.9 513.5 581.4 513.7 586.0 513.8 578.7 514.0 577.9 514.1 585.8 514.3 578.8 514.4 577.2 514.5 586.6 514.7 579.8 514.8 579.9 515.0 583.3 515.1 586.4 515.3 584.0 515.4 582.2 515.5 582.8 515.7 582.8 515.8 582.4 516.0 575.6 516.1 582.4 516.3 576.8 516.4 578.9 516.5 581.8 516.7 581.0 516.8 582.6 517.0 581.3 517.1 583.0 517.3 587.5 517.4 577.7 517.5 585.1 517.7 587.6 517.8 580.0 518.0 580.2 518.1 581.0 518.3 583.0 518.4 579.0 518.5 580.2 518.7 581.3 518.8 581.6 519.0 586.2 519.1 579.8 519.3 584.2 519.4 584.1 519.6 582.1 519.7 581.9 519.8 578.7 520.0 579.1 520.1 582.7 520.3 582.3 520.4 580.6 520.6 585.4 520.7 582.0 520.8 581.7 521.0 581.0 521.1 585.1 521.3 583.4 521.4 582.6 521.6 577.3 521.7 587.2 521.8 576.8 522.0 582.8 522.1 577.5 522.3 576.3 522.4 570.7 522.6 581.8 522.7 582.3 522.8 580.0 523.0 579.6 523.1 576.6 523.3 581.0 523.4 580.2 523.6 576.1 523.7 579.5 523.9 580.0 524.0 577.3 524.1 584.8 524.3 576.7 524.4 587.6 524.6 584.9 524.7 579.5 524.9 586.5 525.0 584.9 525.1 585.3 525.3 581.7 525.4 577.8 525.6 574.0 525.7 582.1 525.9 580.7 526.0 579.1 526.1 588.0 526.3 582.8 526.4 576.1 526.6 580.7 526.7 582.9 526.9 577.0 527.0 581.9 527.1 580.0 527.3 576.2 527.4 582.5 527.6 583.4 527.7 572.5 527.9 582.7 528.0 579.2 528.2 580.0 528.3 575.6 528.4 577.9 528.6 587.1 528.7 583.5 528.9 580.6 529.0 581.5 529.2 578.4 529.3 580.8 529.4 578.3 529.6 582.0 529.7 577.4 529.9 581.8 530.0 583.8 530.2 580.1 530.3 581.8 530.4 582.1 530.6 579.4 530.7 576.5 530.9 584.8 531.0 581.5 531.2 580.2 531.3 585.4 531.4 578.5 531.6 579.5 531.7 578.9 531.9 577.8 532.0 580.8 532.2 579.1 532.3 585.9 532.4 579.0 532.6 585.4 532.7 578.3 532.9 580.2 533.0 581.4 533.2 578.3 533.3 583.5 533.5 579.3 533.6 579.1 533.7 583.5 533.9 578.8 534.0 583.3 534.2 584.8 534.3 583.9 534.5 585.9 534.6 579.9 534.7 585.4 534.9 579.5 535.0 575.8 535.2 580.7 535.3 587.7 535.5 578.0 535.6 587.1 535.7 576.5 535.9 584.3 536.0 582.9 536.2 579.8 536.3 573.8 536.5 583.5 536.6 583.4 536.7 582.9 536.9 584.5 537.0 578.6 537.2 587.9 537.3 584.3 537.5 578.7 537.6 588.5 537.8 581.3 537.9 582.8 538.0 584.1 538.2 578.4 538.3 578.3 538.5 580.7 538.6 577.5 538.8 580.6 538.9 585.8 539.0 577.5 539.2 581.5 539.3 579.4 539.5 584.0 539.6 577.4 539.8 577.6 539.9 580.6 540.0 587.9 540.2 578.0 540.3 575.4 540.5 577.8 540.6 583.4 540.8 584.1 540.9 580.9 541.0 581.9 541.2 576.4 541.3 582.4 541.5 580.5 541.6 579.0 541.8 584.4 541.9 584.5 542.1 579.5 542.2 581.8 542.3 574.6 542.5 577.5 542.6 585.3 542.8 577.3 542.9 577.9 543.1 584.7 543.2 573.3 543.3 578.7 543.5 583.4 543.6 579.5 543.8 578.1 543.9 577.5 544.1 581.6 544.2 577.8 544.3 582.0 544.5 580.4 544.6 581.0 544.8 584.7 544.9 579.4 545.1 577.8 545.2 581.0 545.3 581.9 545.5 580.4 545.6 575.4 545.8 583.2 545.9 575.2 546.1 574.4 546.2 584.1 546.3 586.0 546.5 580.1 546.6 578.3 546.8 585.6 546.9 576.7 547.1 581.0 547.2 579.2 547.4 583.1 547.5 582.1 547.6 578.5 547.8 584.8 547.9 583.6 548.1 581.1 548.2 580.1 548.4 580.9 548.5 577.0 548.6 580.4 548.8 580.3 548.9 583.0 549.1 580.5 549.2 579.8 549.4 582.0 549.5 584.3 549.6 583.0 549.8 580.7 549.9 579.7 550.1 585.7 550.2 581.2 550.4 577.2 550.5 581.9 550.6 575.3 550.8 579.4 550.9 583.3 551.1 580.6 551.2 580.1 551.4 583.6 551.5 585.0 551.7 578.0 551.8 577.4 551.9 578.8 552.1 577.4 552.2 582.7 552.4 583.6 552.5 580.8 552.7 577.6 552.8 575.9 552.9 580.6 553.1 578.5 553.2 582.6 553.4 576.9 553.5 579.2 553.7 579.7 553.8 584.5 553.9 583.6 554.1 582.7 554.2 581.7 554.4 583.3 554.5 575.1 554.7 584.0 554.8 580.2 554.9 586.0 555.1 584.1 555.2 585.1 555.4 578.8 555.5 590.7 555.7 583.1 555.8 582.1 556.0 579.3 556.1 582.3 556.2 574.2 556.4 585.6 556.5 582.8 556.7 581.0 556.8 585.7 557.0 582.9 557.1 582.7 557.2 579.5 557.4 582.3 557.5 577.3 557.7 577.5 557.8 581.7 558.0 579.2 558.1 576.7 558.2 580.6 558.4 575.1 558.5 586.4 558.7 578.2 558.8 578.2 559.0 586.3 559.1 576.2 559.2 573.7 559.4 581.1 559.5 580.2 559.7 584.5 559.8 580.9 560.0 575.7 560.1 581.4 560.2 580.2 560.4 585.2 560.5 582.0 560.7 577.9 560.8 578.8 561.0 581.1 561.1 579.6 561.3 581.7 561.4 581.9 561.5 577.1 561.7 581.8 561.8 583.7 562.0 577.0 562.1 576.2 562.3 583.5 562.4 582.8 562.5 584.1 562.7 586.8 562.8 580.6 563.0 577.5 563.1 581.7 563.3 578.7 563.4 582.2 563.5 583.4 563.7 581.3 563.8 582.8 564.0 580.9 564.1 581.8 564.3 577.0 564.4 586.5 564.5 578.6 564.7 579.4 564.8 578.4 565.0 579.9 565.1 579.3 565.3 574.1 565.4 585.9 565.6 582.0 565.7 579.7 565.8 580.6 566.0 584.1 566.1 583.4 566.3 581.6 566.4 583.6 566.6 571.9 566.7 583.4 566.8 579.7 567.0 577.8 567.1 576.9 567.3 580.6 567.4 574.4 567.6 581.3 567.7 577.6 567.8 582.6 568.0 574.2 568.1 581.4 568.3 578.5 568.4 576.0 568.6 584.1 568.7 583.6 568.8 576.6 569.0 578.7 569.1 584.6 569.3 580.0 569.4 577.4 569.6 576.3 569.7 576.8 569.9 581.3 570.0 582.4 570.1 577.9 570.3 575.6 570.4 576.3 570.6 572.7 570.7 580.4 570.9 578.6 571.0 582.3 571.1 586.2 571.3 583.0 571.4 576.8 571.6 576.9 571.7 573.4 571.9 570.6 572.0 584.2 572.1 578.3 572.3 571.9 572.4 579.5 572.6 569.4 572.7 575.8 572.9 576.7 573.0 573.7 573.1 573.9 573.3 578.2 573.4 573.2 573.6 578.9 573.7 567.9 573.9 572.5 574.0 579.8 574.1 569.3 574.3 568.8 574.4 572.1 574.6 569.7 574.7 571.7 574.9 574.0 575.0 571.6 575.2 569.5 575.3 566.3 575.4 567.8 575.6 569.7 575.7 561.5 575.9 562.3 576.0 558.2 576.2 561.5 576.3 560.9 576.4 556.4 576.6 552.3 576.7 551.9 576.9 556.1 577.0 548.3 577.2 551.9 577.3 542.0 577.4 537.3 577.6 540.2 577.7 526.7 577.9 530.2 578.0 504.0 578.2 507.3 578.3 493.8 578.4 483.5 578.6 476.6 578.7 451.0 578.9 472.0 579.0 450.2 579.2 471.9 579.3 465.1 579.5 468.0 579.6 464.1 579.7 493.1 579.9 492.2 580.0 499.9 580.2 485.5 580.3 485.4 580.5 493.8 580.6 498.8 580.7 500.1 580.9 503.6 581.0 493.4 581.2 495.4 581.3 513.9 581.5 510.6 581.6 522.6 581.7 540.1 581.9 532.7 582.0 541.7 582.2 545.5 582.3 547.9 582.5 552.8 582.6 556.0 582.7 556.3 582.9 564.7 583.0 563.9 583.2 557.2 583.3 568.9 583.5 564.7 583.6 564.6 583.8 563.2 583.9 570.4 584.0 568.1 584.2 566.0 584.3 566.6 584.5 575.0 584.6 570.0 584.8 570.4 584.9 582.0 585.0 574.3 585.2 576.0 585.3 574.5 585.5 574.4 585.6 571.3 585.8 577.9 585.9 576.7 586.0 573.0 586.2 575.9 586.3 582.9 586.5 577.9 586.6 577.3 586.8 575.1 586.9 575.5 587.0 579.6 587.2 580.9 587.3 578.8 587.5 581.4 587.6 575.5 587.8 577.1 587.9 579.9 588.0 582.8 588.2 577.2 588.3 582.3 588.5 575.4 588.6 583.0 588.8 583.7 588.9 578.3 589.1 580.7 589.2 582.1 589.3 577.3 589.5 578.3 589.6 578.3 589.8 581.7 589.9 583.0 590.1 576.8 590.2 577.5 590.3 582.3 590.5 578.0 590.6 579.5 590.8 583.0 590.9 580.5 591.1 583.9 591.2 580.7 591.3 580.0 591.5 578.0 591.6 573.0 591.8 579.2 591.9 574.4 592.1 583.3 592.2 583.2 592.3 582.2 592.5 584.5 592.6 587.9 592.8 574.9 592.9 580.3 593.1 583.6 593.2 580.1 593.4 580.5 593.5 584.6 593.6 582.7 593.8 576.3 593.9 585.9 594.1 578.2 594.2 581.7 594.4 582.9 594.5 575.3 594.6 586.7 594.8 583.3 594.9 582.3 595.1 583.7 595.2 580.3 595.4 583.4 595.5 583.2 595.6 573.7 595.8 577.0 595.9 584.2 596.1 577.5 596.2 582.9 596.4 580.5 596.5 583.5 596.6 575.1 596.8 581.5 596.9 581.1 597.1 582.0 597.2 581.9 597.4 581.3 597.5 582.3 597.7 582.7 597.8 579.2 597.9 585.9 598.1 581.1 598.2 579.0 598.4 583.3 598.5 576.2 598.7 584.6 598.8 579.9 598.9 581.2 599.1 581.1 599.2 582.6 599.4 578.8 599.5 579.4 599.7 582.1 599.8 578.8 599.9 580.7 600.1 580.4 600.2 579.6 600.4 578.5 600.5 578.0 600.7 579.3 600.8 576.7 600.9 576.9 601.1 589.7 601.2 580.8 601.4 583.8 601.5 581.7 601.7 583.2 601.8 581.2 601.9 584.1 602.1 581.5 602.2 581.7 602.4 576.8 602.5 584.0 602.7 580.1 602.8 580.7 603.0 582.1 603.1 581.6 603.2 580.7 603.4 584.9 603.5 577.9 603.7 574.1 603.8 579.7 604.0 573.4 604.1 580.2 604.2 584.9 604.4 585.8 604.5 577.2 604.7 582.0 604.8 576.8 605.0 581.8 605.1 585.2 605.2 578.7 605.4 585.8 605.5 581.6 605.7 589.4 605.8 578.8 606.0 577.9 606.1 585.1 606.2 583.8 606.4 582.8 606.5 578.3 606.7 581.3 606.8 579.1 607.0 585.9 607.1 582.9 607.3 578.7 607.4 578.1 607.5 576.0 607.7 578.9 607.8 580.8 608.0 582.2 608.1 584.4 608.3 579.2 608.4 585.0 608.5 574.1 608.7 580.5 608.8 582.9 609.0 579.1 609.1 581.6 609.3 583.5 609.4 578.9 609.5 581.4 609.7 584.4 609.8 576.8 610.0 584.4 610.1 580.3 610.3 575.9 610.4 581.9 610.5 582.9 610.7 580.1 610.8 581.8 611.0 582.3 611.1 580.9 611.3 581.1 611.4 583.4 611.6 583.2 611.7 580.6 611.8 574.5 612.0 576.3 612.1 579.3 612.3 584.3 612.4 582.2 612.6 586.4 612.7 582.0 612.8 581.8 613.0 579.3 613.1 584.5 613.3 575.9 613.4 581.5 613.6 579.8 613.7 578.5 613.8 583.4 614.0 582.5 614.1 581.5 614.3 579.1 614.4 575.3 614.6 575.6 614.7 571.6 614.8 575.5 615.0 581.0 615.1 584.6 615.3 576.1 615.4 584.0 615.6 586.1 615.7 583.4 615.8 585.4 616.0 579.6 616.1 578.0 616.3 580.5 616.4 582.8 616.6 581.1 616.7 580.1 616.9 582.1 617.0 576.4 617.1 582.0 617.3 572.5 617.4 584.1 617.6 583.9 617.7 587.0 617.9 575.9 618.0 577.0 618.1 575.3 618.3 573.7 618.4 570.7 618.6 581.2 618.7 577.6 618.9 577.8 619.0 572.0 619.1 578.5 619.3 584.9 619.4 578.3 619.6 580.5 619.7 573.3 619.9 581.0 620.0 576.9 620.1 577.2 620.3 577.9 620.4 575.5 620.6 578.5 620.7 575.4 620.9 574.0 621.0 571.3 621.2 570.7 621.3 577.6 621.4 578.0 621.6 573.3 621.7 572.5 621.9 570.6 622.0 572.8 622.2 576.8 622.3 572.0 622.4 568.3 622.6 573.6 622.7 571.8 622.9 561.2 623.0 565.4 623.2 571.2 623.3 566.8 623.4 564.0 623.6 564.7 623.7 557.0 623.9 555.5 624.0 558.4 624.2 557.7 624.3 562.2 624.4 552.5 624.6 551.8 624.7 554.5 624.9 541.0 625.0 538.2 625.2 534.5 625.3 529.5 625.5 521.7 625.6 516.3 625.7 495.8 625.9 484.4 626.0 481.5 626.2 461.8 626.3 476.1 626.5 456.8 626.6 459.3 626.7 471.9 626.9 477.1 627.0 486.4 627.2 489.9 627.3 488.4 627.5 500.0 627.6 500.2 627.7 495.8 627.9 503.8 628.0 510.2 628.2 497.9 628.3 498.1 628.5 498.3 628.6 509.3 628.7 497.4 628.9 517.1 629.0 521.2 629.2 526.2 629.3 527.8 629.5 536.5 629.6 551.4 629.7 547.3 629.9 547.9 630.0 556.3 630.2 549.7 630.3 561.9 630.5 558.6 630.6 571.0 630.8 571.1 630.9 565.7 631.0 566.2 631.2 564.0 631.3 568.8 631.5 570.2 631.6 563.0 631.8 563.2 631.9 571.7 632.0 568.1 632.2 571.4 632.3 571.8 632.5 572.5 632.6 571.5 632.8 575.1 632.9 578.4 633.0 579.5 633.2 572.7 633.3 574.7 633.5 574.9 633.6 569.5 633.8 569.6 633.9 574.9 634.0 577.2 634.2 578.5 634.3 573.6 634.5 578.4 634.6 575.8 634.8 574.9 634.9 580.0 635.1 570.8 635.2 568.8 635.3 583.6 635.5 576.9 635.6 579.8 635.8 576.8 635.9 574.9 636.1 573.4 636.2 571.2 636.3 578.2 636.5 574.0 636.6 577.2 636.8 578.6 636.9 577.5 637.1 578.1 637.2 582.9 637.3 578.9 637.5 578.7 637.6 577.4 637.8 582.9 637.9 582.4 638.1 576.1 638.2 579.4 638.3 577.7 638.5 576.7 638.6 575.2 638.8 584.3 638.9 580.1 639.1 571.1 639.2 581.9 639.4 584.3 639.5 578.8 639.6 578.2 639.8 579.0 639.9 581.6 640.1 576.6 640.2 579.8 640.4 573.4 640.5 582.5 640.6 574.7 640.8 577.3 640.9 579.9 641.1 581.9 641.2 576.1 641.4 576.3 641.5 583.6 641.6 576.4 641.8 575.8 641.9 576.9 642.1 580.9 642.2 580.9 642.4 582.0 642.5 580.0 642.6 577.2 642.8 580.1 642.9 581.2 643.1 574.8 643.2 576.6 643.4 578.5 643.5 584.1 643.7 577.6 643.8 578.9 643.9 578.8 644.1 579.9 644.2 580.8 644.4 575.2 644.5 569.1 644.7 581.3 644.8 571.6 644.9 579.7 645.1 580.1 645.2 581.1 645.4 575.2 645.5 579.8 645.7 580.9 645.8 581.0 645.9 582.9 646.1 575.3 646.2 576.9 646.4 577.8 646.5 578.5 646.7 582.1 646.8 581.5 646.9 579.0 647.1 584.5 647.2 580.7 647.4 574.8 647.5 583.0 647.7 574.3 647.8 574.4 647.9 577.2 648.1 577.1 648.2 578.3 648.4 578.7 648.5 576.0 648.7 576.2 648.8 580.9 649.0 579.6 649.1 577.9 649.2 575.9 649.4 578.7 649.5 575.3 649.7 574.3 649.8 582.1 650.0 581.0 650.1 577.5 650.2 584.1 650.4 578.4 650.5 580.9 650.7 580.4 650.8 579.2 651.0 579.2 651.1 583.9 651.2 581.9 651.4 572.6 651.5 580.8 651.7 571.4 651.8 575.4 652.0 580.3 652.1 575.2 652.2 583.0 652.4 577.6 652.5 580.9 652.7 579.9 652.8 581.6 653.0 583.3 653.1 574.0 653.3 578.7 653.4 579.6 653.5 582.4 653.7 580.7 653.8 578.0 654.0 574.3 654.1 573.5 654.3 575.8 654.4 579.5 654.5 579.4 654.7 583.7 654.8 579.9 655.0 581.5 655.1 574.2 655.3 579.7 655.4 577.2 655.5 576.9 655.7 583.0 655.8 578.8 656.0 578.6 656.1 578.8 656.3 574.3 656.4 573.4 656.5 585.2 656.7 579.0 656.8 578.8 657.0 579.5 657.1 577.3 657.3 577.8 657.4 575.9 657.6 579.9 657.7 578.2 657.8 582.2 658.0 584.0 658.1 575.1 658.3 581.0 658.4 577.3 658.6 586.0 658.7 579.4 658.8 582.0 659.0 577.0 659.1 582.9 659.3 576.1 659.4 574.4 659.6 570.4 659.7 578.4 659.8 577.2 660.0 579.1 660.1 575.4 660.3 578.4 660.4 578.3 660.6 574.7 660.7 584.9 660.8 585.9 661.0 579.3 661.1 580.2 661.3 580.6 661.4 580.8 661.6 575.6 661.7 579.3 661.8 584.4 662.0 577.7 662.1 577.4 662.3 575.1 662.4 576.7 662.6 570.7 662.7 578.0 662.9 581.7 663.0 579.1 663.1 578.6 663.3 578.2 663.4 578.1 663.6 574.3 663.7 571.4 663.9 584.1 664.0 579.4 664.1 570.1 664.3 583.1 664.4 576.0 664.6 580.7 664.7 576.9 664.9 575.0 665.0 580.0 665.1 575.8 665.3 568.3 665.4 578.7 665.6 576.3 665.7 576.2 665.9 575.2 666.0 577.7 666.1 581.3 666.3 579.3 666.4 576.7 666.6 575.7 666.7 572.5 666.9 581.2 667.0 567.7 667.2 570.8 667.3 573.4 667.4 574.2 667.6 574.3 667.7 571.4 667.9 579.4 668.0 576.6 668.2 564.5 668.3 567.4 668.4 565.3 668.6 575.1 668.7 567.4 668.9 562.4 669.0 566.5 669.2 561.7 669.3 566.1 669.4 567.7 669.6 559.3 669.7 563.6 669.9 562.7 670.0 557.0 670.2 560.4 670.3 553.8 670.4 557.3 670.6 551.4 670.7 547.1 670.9 552.3 671.0 546.4 671.2 535.5 671.3 515.4 671.5 526.4 671.6 515.0 671.7 512.1 671.9 501.5 672.0 491.4 672.2 483.6 672.3 489.4 672.5 487.6 672.6 486.9 672.7 474.8 672.9 484.9 673.0 494.4 673.2 487.8 673.3 510.7 673.5 502.6 673.6 517.5 673.7 510.8 673.9 517.0 674.0 505.0 674.2 499.8 674.3 508.7 674.5 504.7 674.6 505.4 674.7 512.0 674.9 519.4 675.0 526.4 675.2 522.1 675.3 524.4 675.5 536.2 675.6 535.9 675.7 539.4 675.9 546.5 676.0 556.6 676.2 555.6 676.3 547.7 676.5 566.9 676.6 554.8 676.8 562.5 676.9 560.0 677.0 568.2 677.2 567.1 677.3 571.1 677.5 568.2 677.6 567.6 677.8 573.5 677.9 562.3 678.0 565.3 678.2 565.3 678.3 570.6 678.5 570.0 678.6 569.1 678.8 575.3 678.9 575.0 679.0 571.7 679.2 568.7 679.3 581.9 679.5 575.7 679.6 572.7 679.8 575.7 679.9 576.6 680.0 573.3 680.2 578.5 680.3 576.5 680.5 574.5 680.6 580.4 680.8 575.1 680.9 581.3 681.1 577.4 681.2 576.2 681.3 581.3 681.5 576.0 681.6 579.3 681.8 582.2 681.9 576.3 682.1 575.6 682.2 580.5 682.3 581.3 682.5 570.4 682.6 579.8 682.8 582.1 682.9 576.3 683.1 581.7 683.2 577.2 683.3 576.2 683.5 577.4 683.6 581.1 683.8 577.3 683.9 576.7 684.1 578.8 684.2 581.5 684.3 571.7 684.5 582.5 684.6 583.7 684.8 575.2 684.9 578.6 685.1 580.4 685.2 579.3 685.4 585.4 685.5 579.4 685.6 577.1 685.8 577.6 685.9 580.2 686.1 576.5 686.2 577.0 686.4 577.3 686.5 584.9 686.6 581.4 686.8 575.2 686.9 581.0 687.1 570.2 687.2 579.3 687.4 581.5 687.5 580.6 687.6 581.3 687.8 580.2 687.9 577.2 688.1 578.8 688.2 578.7 688.4 574.6 688.5 579.8 688.6 576.3 688.8 581.9 688.9 587.4 689.1 587.0 689.2 588.8 689.4 578.5 689.5 578.4 689.6 582.1 689.8 576.8 689.9 582.1 690.1 578.0 690.2 581.1 690.4 578.6 690.5 585.4 690.7 584.0 690.8 582.8 690.9 575.9 691.1 584.2 691.2 578.7 691.4 575.5 691.5 581.2 691.7 583.7 691.8 575.1 691.9 582.8 692.1 579.4 692.2 579.6 692.4 581.9 692.5 579.1 692.7 578.0 692.8 584.0 692.9 571.9 693.1 583.7 693.2 575.9 693.4 584.4 693.5 576.3 693.7 585.0 693.8 574.5 693.9 586.5 694.1 580.9 694.2 579.7 694.4 579.4 694.5 583.9 694.7 579.9 694.8 582.5 695.0 581.0 695.1 576.8 695.2 586.2 695.4 579.9 695.5 581.5 695.7 581.4 695.8 580.6 696.0 586.3 696.1 581.8 696.2 579.6 696.4 580.8 696.5 579.5 696.7 576.8 696.8 584.3 697.0 577.3 697.1 584.7 697.2 580.9 697.4 583.4 697.5 580.5 697.7 579.6 697.8 588.4 698.0 579.3 698.1 577.4 698.2 582.1 698.4 585.3 698.5 576.3 698.7 578.8 698.8 583.5 699.0 583.8 699.1 582.5 699.3 579.2 699.4 581.4 699.5 578.3 699.7 582.2 699.8 580.7 700.0 581.6 700.1 579.9 700.3 583.0 700.4 580.8 700.5 578.1 700.7 585.4 700.8 581.4 701.0 579.7 701.1 580.0 701.3 585.6 701.4 580.9 701.5 581.6 701.7 577.9 701.8 579.4 702.0 578.6 702.1 577.7 702.3 577.0 702.4 579.4 702.5 576.2 702.7 582.6 702.8 583.0 703.0 577.4 703.1 581.8 703.3 578.0 703.4 581.4 703.5 581.8 703.7 574.7 703.8 572.0 704.0 581.8 704.1 581.8 704.3 580.1 704.4 578.3 704.6 577.7 704.7 571.5 704.8 584.8 705.0 572.5 705.1 580.7 705.3 579.2 705.4 581.0 705.6 575.8 705.7 577.1 705.8 581.3 706.0 576.1 706.1 580.1 706.3 575.4 706.4 580.3 706.6 581.3 706.7 579.8 706.8 581.5 707.0 575.8 707.1 577.8 707.3 578.4 707.4 584.3 707.6 577.6 707.7 579.5 707.8 583.4 708.0 580.0 708.1 582.3 708.3 575.7 708.4 582.5 708.6 579.2 708.7 580.8 708.9 581.4 709.0 572.6 709.1 582.7 709.3 577.5 709.4 582.7 709.6 577.8 709.7 579.4 709.9 573.3 710.0 574.6 710.1 582.0 710.3 575.5 710.4 579.1 710.6 578.0 710.7 574.2 710.9 577.2 711.0 577.3 711.1 579.8 711.3 576.2 711.4 575.4 711.6 582.1 711.7 582.1 711.9 577.3 712.0 573.3 712.1 578.0 712.3 574.6 712.4 581.0 712.6 575.7 712.7 573.2 712.9 574.0 713.0 571.3 713.2 574.0 713.3 569.1 713.4 573.9 713.6 575.6 713.7 573.7 713.9 567.8 714.0 572.0 714.2 568.2 714.3 563.4 714.4 567.6 714.6 570.4 714.7 567.0 714.9 564.0 715.0 561.9 715.2 563.4 715.3 564.7 715.4 563.0 715.6 566.5 715.7 564.8 715.9 565.4 716.0 560.2 716.2 563.3 716.3 561.9 716.4 563.7 716.6 563.7 716.7 572.7 716.9 558.8 717.0 565.2 717.2 562.2 717.3 566.1 717.4 565.9 717.6 571.3 717.7 565.2 717.9 563.6 718.0 567.9 718.2 568.3 718.3 559.6 718.5 575.5 718.6 565.6 718.7 575.5 718.9 575.0 719.0 576.1 719.2 572.5 719.3 569.4 719.5 570.3 719.6 578.1 719.7 572.5 719.9 576.1 720.0 573.8 720.2 573.6 720.3 579.3 720.5 573.1 720.6 576.0 720.7 576.1 720.9 577.8 721.0 577.2 721.2 574.4 721.3 576.7 721.5 577.2 721.6 585.2 721.7 581.3 721.9 578.5 722.0 579.6 722.2 578.2 722.3 584.9 722.5 578.8 722.6 576.3 722.8 593.1 722.9 577.1 723.0 577.9 723.2 576.7 723.3 581.4 723.5 577.8 723.6 577.6 723.8 583.5 723.9 585.1 724.0 581.5 724.2 577.0 724.3 582.2 724.5 578.6 724.6 581.7 724.8 581.7 724.9 576.9 725.0 583.8 725.2 580.9 725.3 580.8 725.5 577.5 725.6 584.2 725.8 578.8 725.9 581.5 726.0 577.9 726.2 577.1 726.3 577.2 726.5 575.9 726.6 580.0 726.8 585.7 726.9 584.9 727.1 578.6 727.2 578.8 727.3 586.5 727.5 584.1 727.6 581.6 727.8 580.3 727.9 580.3 728.1 573.9 728.2 579.5 728.3 588.5 728.5 586.9 728.6 580.8 728.8 584.3 728.9 583.7 729.1 579.9 729.2 578.8 729.3 579.9 729.5 582.4 729.6 586.2 729.8 582.7 729.9 581.9 730.1 581.0 730.2 586.0 730.3 587.3 730.5 582.7 730.6 581.2 730.8 583.0 730.9 583.9 731.1 585.8 731.2 585.2 731.3 579.4 731.5 581.6 731.6 580.7 731.8 584.1 731.9 578.4 732.1 576.2 732.2 582.2 732.4 580.4 732.5 580.6 732.6 581.6 732.8 579.1 732.9 582.3 733.1 578.3 733.2 578.2 733.4 583.7 733.5 581.0 733.6 585.6 733.8 582.9 733.9 579.7 734.1 580.2 734.2 578.7 734.4 582.0 734.5 583.7 734.6 582.0 734.8 582.7 734.9 578.9 735.1 586.0 735.2 583.9 735.4 585.2 735.5 578.3 735.6 581.3 735.8 579.6 735.9 587.0 736.1 581.4 736.2 589.3 736.4 583.4 736.5 580.1 736.7 586.0 736.8 587.6 736.9 581.4 737.1 580.1 737.2 581.8 737.4 578.2 737.5 578.6 737.7 575.0 737.8 580.1 737.9 577.8 738.1 582.5 738.2 582.9 738.4 585.3 738.5 582.8 738.7 581.2 738.8 586.1 738.9 579.7 739.1 575.1 739.2 577.5 739.4 580.5 739.5 583.7 739.7 585.2 739.8 578.7 739.9 585.4 740.1 583.1 740.2 584.0 740.4 578.7 740.5 581.1 740.7 575.0 740.8 582.2 741.0 580.7 741.1 584.1 741.2 585.5 741.4 579.0 741.5 584.8 741.7 585.3 741.8 581.0 742.0 587.9 742.1 579.4 742.2 577.3 742.4 581.9 742.5 587.4 742.7 583.6 742.8 576.3 743.0 580.2 743.1 585.8 743.2 579.5 743.4 581.4 743.5 578.5 743.7 588.2 743.8 587.3 744.0 577.7 744.1 576.0 744.2 583.7 744.4 583.2 744.5 581.9 744.7 582.2 744.8 580.9 745.0 584.8 745.1 584.7 745.2 586.0 745.4 584.7 745.5 580.1 745.7 580.5 745.8 581.0 746.0 582.2 746.1 579.6 746.3 579.1 746.4 581.0 746.5 580.3 746.7 581.3 746.8 586.9 747.0 586.0 747.1 580.0 747.3 581.9 747.4 580.6 747.5 578.8 747.7 583.3 747.8 575.1 748.0 582.0 748.1 580.3 748.3 577.2 748.4 582.7 748.5 584.3 748.7 581.9 748.8 582.4 749.0 578.0 749.1 582.3 749.3 585.7 749.4 577.1 749.5 588.0 749.7 574.9 749.8 583.6 750.0 578.6 750.1 581.3 750.3 580.5 750.4 580.5 750.6 583.7 750.7 579.4 750.8 580.9 751.0 584.1 751.1 579.7 751.3 572.9 751.4 578.2 751.6 578.0 751.7 576.8 751.8 581.8 752.0 579.9 752.1 576.9 752.3 577.5 752.4 574.4 752.6 577.3 752.7 585.4 752.8 573.1 753.0 585.2 753.1 578.4 753.3 577.7 753.4 576.3 753.6 573.8 753.7 579.9 753.8 576.4 754.0 575.0 754.1 576.8 754.3 582.1 754.4 574.7 754.6 575.5 754.7 580.4 754.9 571.6 755.0 577.8 755.1 583.1 755.3 573.8 755.4 567.3 755.6 576.2 755.7 570.9 755.9 576.3 756.0 572.6 756.1 571.0 756.3 565.8 756.4 572.8 756.6 569.2 756.7 568.3 756.9 567.4 757.0 566.5 757.1 564.6 757.3 562.5 757.4 555.2 757.6 558.7 757.7 558.8 757.9 564.1 758.0 563.4 758.1 554.4 758.3 556.0 758.4 555.3 758.6 559.1 758.7 559.0 758.9 560.5 759.0 555.4 759.1 557.0 759.3 567.5 759.4 554.4 759.6 565.7 759.7 563.3 759.9 564.4 760.0 561.5 760.2 561.5 760.3 565.1 760.4 561.9 760.6 562.8 760.7 562.5 760.9 565.9 761.0 564.5 761.2 564.4 761.3 568.6 761.4 567.8 761.6 562.7 761.7 568.3 761.9 574.5 762.0 571.5 762.2 576.4 762.3 565.1 762.4 573.4 762.6 565.5 762.7 575.5 762.9 571.4 763.0 573.7 763.2 576.4 763.3 572.3 763.4 573.2 763.6 574.7 763.7 579.1 763.9 581.5 764.0 574.5 764.2 574.2 764.3 577.9 764.5 573.8 764.6 573.5 764.7 580.2 764.9 576.9 765.0 584.1 765.2 575.9 765.3 584.2 765.5 583.5 765.6 578.4 765.7 580.4 765.9 570.8 766.0 580.8 766.2 580.2 766.3 577.4 766.5 584.8 766.6 572.4 766.7 582.8 766.9 580.7 767.0 581.3 767.2 575.7 767.3 582.9 767.5 579.1 767.6 581.5 767.7 584.0 767.9 578.2 768.0 571.8 768.2 582.3 768.3 582.0 768.5 580.5 768.6 579.3 768.8 578.4 768.9 581.9 769.0 583.5 769.2 580.2 769.3 586.0 769.5 581.0 769.6 584.0 769.8 581.4 769.9 582.0 770.0 585.3 770.2 584.3 770.3 586.1 770.5 586.0 770.6 582.5 770.8 584.8 770.9 584.1 771.0 584.0 771.2 585.2 771.3 582.9 771.5 583.1 771.6 584.3 771.8 579.6 771.9 585.4 772.0 585.9 772.2 576.0 772.3 585.1 772.5 580.4 772.6 580.1 772.8 584.8 772.9 579.8 773.0 583.4 773.2 580.6 773.3 578.7 773.5 588.5 773.6 580.2 773.8 578.8 773.9 581.5 774.1 588.6 774.2 577.5 774.3 586.4 774.5 580.4 774.6 583.5 774.8 582.6 774.9 586.1 775.1 580.3 775.2 588.9 775.3 581.5 775.5 578.3 775.6 583.5 775.8 585.5 775.9 585.1 776.1 586.0 776.2 582.2 776.3 587.6 776.5 585.7 776.6 579.9 776.8 581.6 776.9 580.6 777.1 582.0 777.2 583.7 777.3 581.5 777.5 582.4 777.6 585.4 777.8 585.8 777.9 587.7 778.1 572.8 778.2 580.9 778.4 580.7 778.5 581.3 778.6 580.1 778.8 580.0 778.9 585.4 779.1 587.2 779.2 579.5 779.4 585.4 779.5 575.9 779.6 584.8 779.8 588.5 779.9 586.1 780.1 580.3 780.2 580.2 780.4 582.0 780.5 587.2 780.6 584.2 780.8 583.7 780.9 584.7 781.1 579.5 781.2 575.9 781.4 581.0 781.5 581.3 781.6 583.9 781.8 583.1 781.9 593.4 782.1 581.4 782.2 581.0 782.4 587.5 782.5 583.0 782.7 589.3 782.8 589.2 782.9 585.7 783.1 585.4 783.2 577.8 783.4 587.3 783.5 583.6 783.7 585.0 783.8 586.2 783.9 583.4 784.1 579.8 784.2 581.2 784.4 579.6 784.5 586.0 784.7 582.8 784.8 583.1 784.9 581.3 785.1 582.4 785.2 579.0 785.4 583.1 785.5 579.1 785.7 583.6 785.8 581.8 785.9 584.1 786.1 586.2 786.2 584.1 786.4 583.1 786.5 585.4 786.7 580.7 786.8 582.4 787.0 583.9 787.1 577.8 787.2 580.2 787.4 589.3 787.5 583.1 787.7 583.0 787.8 584.2 788.0 581.7 788.1 580.8 788.2 581.2 788.4 585.6 788.5 587.5 788.7 580.2 788.8 581.6 789.0 583.4 789.1 578.1 789.2 582.0 789.4 585.3 789.5 585.5 789.7 589.8 789.8 580.5 790.0 581.5 790.1 584.4 790.2 582.4 790.4 585.2 790.5 581.3 790.7 575.3 790.8 578.2 791.0 575.2 791.1 581.3 791.2 585.0 791.4 582.4 791.5 578.7 791.7 573.4 791.8 580.0 792.0 577.6 792.1 577.5 792.3 579.6 792.4 587.5 792.5 577.7 792.7 576.4 792.8 573.7 793.0 581.8 793.1 575.0 793.3 571.5 793.4 576.1 793.5 578.6 793.7 572.9 793.8 576.8 794.0 570.7 794.1 580.8 794.3 571.7 794.4 575.4 794.5 571.8 794.7 572.9 794.8 575.6 795.0 571.8 795.1 573.1 795.3 577.4 795.4 582.0 795.5 574.9 795.7 571.2 795.8 571.2 796.0 564.6 796.1 564.2 796.3 563.1 796.4 568.1 796.6 564.7 796.7 562.5 796.8 572.3 797.0 560.9 797.1 562.9 797.3 559.6 797.4 555.9 797.6 555.9 797.7 544.7 797.8 549.8 798.0 551.8 798.1 552.6 798.3 541.2 798.4 546.8 798.6 541.6 798.7 533.3 798.8 524.9 799.0 532.8 799.1 526.3 799.3 534.6 799.4 529.7 799.6 519.3 799.7 524.6 799.8 529.3 800.0 534.7 800.1 515.2 800.3 532.2 800.4 523.8 800.6 530.4 800.7 528.1 800.9 538.5 801.0 536.5 801.1 544.7 801.3 543.1 801.4 533.9 801.6 527.5 801.7 538.3 801.9 537.9 802.0 542.3 802.1 539.5 802.3 541.4 802.4 549.6 802.6 548.8 802.7 546.1 802.9 552.9 803.0 548.8 803.1 554.6 803.3 560.4 803.4 555.7 803.6 553.6 803.7 561.5 803.9 560.6 804.0 570.9 804.1 564.3 804.3 563.4 804.4 562.2 804.6 559.1 804.7 565.6 804.9 570.0 805.0 567.0 805.1 573.2 805.3 575.4 805.4 575.2 805.6 570.7 805.7 570.8 805.9 577.3 806.0 572.3 806.2 572.8 806.3 573.5 806.4 580.7 806.6 569.4 806.7 580.6 806.9 580.0 807.0 582.8 807.2 579.0 807.3 585.7 807.4 580.6 807.6 575.0 807.7 573.2 807.9 578.6 808.0 580.3 808.2 579.9 808.3 582.6 808.4 583.2 808.6 570.8 808.7 579.4 808.9 579.6 809.0 581.8 809.2 577.1 809.3 584.0 809.4 580.3 809.6 584.8 809.7 578.2 809.9 580.0 810.0 576.0 810.2 577.4 810.3 579.7 810.5 578.9 810.6 582.0 810.7 582.5 810.9 581.0 811.0 581.2 811.2 577.4 811.3 579.8 811.5 580.5 811.6 578.9 811.7 584.0 811.9 583.4 812.0 578.7 812.2 580.0 812.3 581.4 812.5 581.9 812.6 586.7 812.7 581.0 812.9 579.7 813.0 582.9 813.2 583.9 813.3 585.9 813.5 578.5 813.6 581.0 813.7 582.6 813.9 582.5 814.0 576.7 814.2 583.3 814.3 586.8 814.5 584.0 814.6 581.5 814.8 578.6 814.9 578.7 815.0 581.9 815.2 579.5 815.3 579.6 815.5 576.6 815.6 583.6 815.8 584.9 815.9 581.9 816.0 584.2 816.2 582.6 816.3 587.6 816.5 581.9 816.6 582.1 816.8 578.2 816.9 582.0 817.0 580.9 817.2 580.6 817.3 587.3 817.5 584.8 817.6 585.7 817.8 583.3 817.9 579.3 818.0 582.5 818.2 585.8 818.3 579.6 818.5 581.8 818.6 582.3 818.8 585.8 818.9 582.5 819.0 584.9 819.2 584.6 819.3 581.6 819.5 583.2 819.6 578.3 819.8 580.9 819.9 584.4 820.1 583.9 820.2 583.8 820.3 582.8 820.5 585.4 820.6 584.8 820.8 582.9 820.9 577.4 821.1 592.8 821.2 590.4 821.3 580.0 821.5 587.8 821.6 582.0 821.8 586.8 821.9 580.0 822.1 582.7 822.2 581.3 822.3 585.3 822.5 585.8 822.6 583.2 822.8 575.2 822.9 583.1 823.1 579.3 823.2 588.0 823.3 581.1 823.5 575.7 823.6 582.3 823.8 578.3 823.9 584.3 824.1 578.6 824.2 584.1 824.4 577.2 824.5 586.6 824.6 582.5 824.8 585.1 824.9 581.9 825.1 589.5 825.2 581.9 825.4 584.8 825.5 582.2 825.6 586.6 825.8 577.7 825.9 577.2 826.1 584.2 826.2 579.9 826.4 579.1 826.5 583.9 826.6 582.3 826.8 573.9 826.9 582.6 827.1 580.4 827.2 578.6 827.4 584.7 827.5 584.1 827.6 586.8 827.8 580.3 827.9 578.9 828.1 590.7 828.2 584.9 828.4 584.4 828.5 578.9 828.7 580.4 828.8 584.5 828.9 571.6 829.1 577.3 829.2 582.7 829.4 575.2 829.5 584.0 829.7 580.7 829.8 575.6 829.9 581.3 830.1 581.4 830.2 580.9 830.4 583.2 830.5 575.7 830.7 579.2 830.8 582.7 830.9 581.8 831.1 581.6 831.2 590.5 831.4 579.3 831.5 578.6 831.7 582.8 831.8 579.8 831.9 583.6 832.1 579.7 832.2 586.4 832.4 577.9 832.5 579.2 832.7 583.1 832.8 580.2 832.9 583.0 833.1 582.5 833.2 582.8 833.4 575.2 833.5 582.6 833.7 579.6 833.8 580.4 834.0 576.1 834.1 580.8 834.2 581.8 834.4 580.0 834.5 580.4 834.7 579.0 834.8 577.5 835.0 579.8 835.1 577.1 835.2 577.1 835.4 579.0 835.5 580.6 835.7 583.1 835.8 580.6 836.0 576.5 836.1 572.9 836.2 576.7 836.4 571.3 836.5 570.8 836.7 566.9 836.8 578.3 837.0 577.3 837.1 568.3 837.2 572.2 837.4 572.4 837.5 576.3 837.7 575.0 837.8 564.9 838.0 568.7 838.1 559.9 838.3 564.6 838.4 564.0 838.5 561.2 838.7 556.0 838.8 557.8 839.0 567.0 839.1 552.9 839.3 553.9 839.4 556.3 839.5 553.8 839.7 546.0 839.8 552.7 840.0 550.6 840.1 542.6 840.3 541.1 840.4 537.3 840.5 539.1 840.7 536.4 840.8 539.8 841.0 524.4 841.1 537.7 841.3 532.1 841.4 540.5 841.5 539.6 841.7 533.3 841.8 534.8 842.0 533.3 842.1 531.5 842.3 536.6 842.4 542.5 842.6 538.2 842.7 533.7 842.8 540.9 843.0 536.5 843.1 542.8 843.3 546.7 843.4 548.8 843.6 550.7 843.7 542.2 843.8 535.0 844.0 548.2 844.1 548.6 844.3 554.5 844.4 555.6 844.6 552.7 844.7 555.8 844.8 560.8 845.0 555.5 845.1 550.5 845.3 562.7 845.4 563.2 845.6 561.7 845.7 570.3 845.8 565.6 846.0 564.2 846.1 569.1 846.3 576.0 846.4 565.7 846.6 574.0 846.7 566.6 846.8 574.9 847.0 571.0 847.1 571.8 847.3 576.5 847.4 583.8 847.6 568.4 847.7 574.5 847.9 572.7 848.0 580.4 848.1 576.7 848.3 573.6 848.4 580.2 848.6 579.7 848.7 577.2 848.9 580.8 849.0 579.3 849.1 581.7 849.3 574.7 849.4 581.0 849.6 582.2 849.7 576.0 849.9 591.7 850.0 584.9 850.1 580.5 850.3 577.8 850.4 579.1 850.6 580.0 850.7 581.8 850.9 575.7 851.0 576.5 851.1 585.1 851.3 576.0 851.4 587.7 851.6 580.4 851.7 576.0 851.9 578.0 852.0 586.9 852.2 582.0 852.3 577.7 852.4 585.7 852.6 583.2 852.7 579.3 852.9 577.7 853.0 576.4 853.2 581.8 853.3 583.5 853.4 587.0 853.6 587.2 853.7 585.4 853.9 577.1 854.0 580.1 854.2 584.0 854.3 581.3 854.4 582.7 854.6 580.8 854.7 582.4 854.9 585.8 855.0 584.2 855.2 577.6 855.3 581.0 855.4 578.6 855.6 577.0 855.7 585.9 855.9 582.6 856.0 590.9 856.2 585.0 856.3 584.5 856.5 581.1 856.6 580.4 856.7 585.5 856.9 581.2 857.0 588.2 857.2 586.3 857.3 586.3 857.5 583.7 857.6 580.0 857.7 587.2 857.9 581.2 858.0 583.2 858.2 585.9 858.3 582.0 858.5 581.8 858.6 578.8 858.7 586.9 858.9 589.1 859.0 580.5 859.2 587.3 859.3 589.9 859.5 589.4 859.6 587.0 859.7 581.3 859.9 578.7 860.0 581.3 860.2 585.3 860.3 588.4 860.5 588.1 860.6 583.3 860.7 585.2 860.9 582.4 861.0 577.7 861.2 581.6 861.3 587.4 861.5 586.5 861.6 584.2 861.8 584.0 861.9 591.7 862.0 585.5 862.2 582.9 862.3 579.2 862.5 581.8 862.6 585.2 862.8 582.1 862.9 585.5 863.0 582.2 863.2 593.0 863.3 582.5 863.5 587.0 863.6 581.4 863.8 584.9 863.9 586.9 864.0 584.6 864.2 578.2 864.3 588.8 864.5 586.2 864.6 580.7 864.8 582.2 864.9 585.9 865.0 581.0 865.2 585.8 865.3 579.4 865.5 584.0 865.6 586.3 865.8 582.1 865.9 584.0 866.1 584.8 866.2 588.4 866.3 587.6 866.5 584.3 866.6 584.5 866.8 582.3 866.9 582.2 867.1 581.9 867.2 581.6 867.3 586.3 867.5 582.5 867.6 580.5 867.8 580.5 867.9 582.9 868.1 584.8 868.2 581.3 868.3 579.8 868.5 583.9 868.6 586.5 868.8 579.8 868.9 581.8 869.1 576.8 869.2 591.4 869.3 579.7 869.5 579.1 869.6 584.0 869.8 582.0 869.9 585.8 870.1 580.3 870.2 583.5 870.4 583.9 870.5 585.0 870.6 589.4 870.8 583.1 870.9 580.4 871.1 584.7 871.2 580.8 871.4 586.3 871.5 584.1 871.6 583.6 871.8 578.0 871.9 578.1 872.1 581.2 872.2 583.0 872.4 576.2 872.5 581.5 872.6 583.9 872.8 581.1 872.9 586.3 873.1 584.0 873.2 588.4 873.4 580.8 873.5 584.7 873.6 574.0 873.8 580.4 873.9 586.3 874.1 581.8 874.2 581.4 874.4 579.1 874.5 588.8 874.6 587.4 874.8 583.0 874.9 584.3 875.1 583.1 875.2 578.5 875.4 584.2 875.5 581.3 875.7 580.5 875.8 586.8 875.9 583.2 876.1 579.7 876.2 584.9 876.4 583.0 876.5 584.2 876.7 582.7 876.8 584.2 876.9 584.1 877.1 580.1 877.2 590.2 877.4 584.0 877.5 574.8 877.7 586.5 877.8 578.2 877.9 584.4 878.1 588.3 878.2 582.1 878.4 582.7 878.5 587.0 878.7 585.2 878.8 584.9 878.9 582.5 879.1 583.3 879.2 576.7 879.4 581.7 879.5 582.6 879.7 585.2 879.8 584.7 880.0 578.7 880.1 580.5 880.2 575.6 880.4 582.4 880.5 588.0 880.7 583.5 880.8 580.3 881.0 583.3 881.1 582.3 881.2 578.7 881.4 579.8 881.5 582.1 881.7 585.5 881.8 580.8 882.0 580.5 882.1 578.1 882.2 582.6 882.4 579.1 882.5 588.7 882.7 583.0 882.8 572.4 883.0 587.3 883.1 583.6 883.2 582.5 883.4 583.2 883.5 580.6 883.7 579.6 883.8 580.1 884.0 582.1 884.1 583.9 884.3 589.1 884.4 583.9 884.5 585.4 884.7 585.9 884.8 580.0 885.0 579.4 885.1 579.8 885.3 587.8 885.4 578.1 885.5 584.6 885.7 579.9 885.8 591.3 886.0 578.2 886.1 578.6 886.3 581.0 886.4 579.0 886.5 585.2 886.7 585.8 886.8 586.0 887.0 589.7 887.1 579.7 887.3 583.3 887.4 581.5 887.5 580.4 887.7 584.0 887.8 590.1 888.0 579.8 888.1 590.2 888.3 583.9 888.4 581.3 888.5 579.0 888.7 585.8 888.8 583.4 889.0 582.4 889.1 580.9 889.3 582.4 889.4 581.7 889.6 583.3 889.7 576.7 889.8 583.7 890.0 586.2 890.1 585.6 890.3 578.4 890.4 583.2 890.6 583.8 890.7 586.7 890.8 585.8 891.0 586.3 891.1 582.4 891.3 585.2 891.4 582.5 891.6 581.9 891.7 577.7 891.8 584.0 892.0 582.2 892.1 577.6 892.3 587.3 892.4 581.6 892.6 584.2 892.7 584.0 892.8 582.2 893.0 583.5 893.1 585.9 893.3 580.2 893.4 578.4 893.6 586.3 893.7 584.6 893.9 580.4 894.0 586.4 894.1 578.9 894.3 583.2 894.4 584.0 894.6 583.0 894.7 584.4 894.9 581.3 895.0 577.5 895.1 580.9 895.3 584.8 895.4 583.1 895.6 582.8 895.7 581.8 895.9 586.6 896.0 581.2 896.1 583.8 896.3 583.9 896.4 579.8 896.6 585.6 896.7 584.4 896.9 584.9 897.0 578.4 897.1 586.8 897.3 581.6 897.4 582.8 897.6 584.2 897.7 585.8 897.9 581.0 898.0 583.9 898.2 582.9 898.3 582.7 898.4 582.7 898.6 579.6 898.7 582.6 898.9 586.7 899.0 579.5 899.2 577.4 899.3 587.4 899.4 578.2 899.6 581.6 899.7 580.6 899.9 583.5 900.0 581.5 900.2 584.2 900.3 581.1 900.4 579.0 900.6 590.6 900.7 583.0 900.9 584.3 901.0 578.5 901.2 580.3 901.3 581.1 901.4 585.9 901.6 580.0 901.7 584.3 901.9 581.7 902.0 580.5 902.2 585.1 902.3 583.7 902.4 579.3 902.6 584.9 902.7 578.5 902.9 584.4 903.0 582.4 903.2 590.1 903.3 584.4 903.5 589.8 903.6 584.7 903.7 581.5 903.9 585.1 904.0 577.9 904.2 578.7 904.3 582.4 904.5 587.8 904.6 585.8 904.7 578.2 904.9 575.9 905.0 583.6 905.2 577.5 905.3 578.9 905.5 580.5 905.6 579.3 905.7 579.8 905.9 581.8 906.0 585.7 906.2 580.4 906.3 582.7 906.5 584.0 906.6 584.2 906.7 582.2 906.9 580.0 907.0 582.3 907.2 577.7 907.3 582.2 907.5 586.6 907.6 584.4 907.8 572.6 907.9 584.3 908.0 584.3 908.2 581.4 908.3 584.8 908.5 584.7 908.6 582.0 908.8 581.6 908.9 578.6 909.0 585.9 909.2 575.1 909.3 583.7 909.5 581.2 909.6 582.7 909.8 581.1 909.9 582.2 910.0 579.5 910.2 579.4 910.3 587.9 910.5 581.3 910.6 586.9 910.8 585.0 910.9 583.1 911.0 583.4 911.2 582.3 911.3 585.6 911.5 582.1 911.6 581.2 911.8 584.6 911.9 582.4 912.1 584.1 912.2 580.3 912.3 582.2 912.5 585.5 912.6 585.5 912.8 578.8 912.9 582.0 913.1 578.9 913.2 584.9 913.3 579.3 913.5 576.5 913.6 578.5 913.8 578.4 913.9 590.1 914.1 580.4 914.2 584.7 914.3 579.9 914.5 583.6 914.6 586.3 914.8 585.3 914.9 586.7 915.1 585.4 915.2 581.6 915.3 583.9 915.5 582.8 915.6 580.7 915.8 589.3 915.9 579.1 916.1 578.1 916.2 580.6 916.3 585.9 916.5 581.0 916.6 583.1 916.8 579.9 916.9 586.2 917.1 583.4 917.2 582.6 917.4 586.9 917.5 579.6 917.6 587.1 917.8 585.1 917.9 578.4 918.1 581.7 918.2 583.9 918.4 578.8 918.5 579.6 918.6 586.9 918.8 591.2 918.9 587.6 919.1 584.3 919.2 582.7 919.4 579.1 919.5 584.9 919.6 580.7 919.8 582.5 919.9 582.8 920.1 585.1 920.2 584.2 920.4 575.2 920.5 580.4 920.6 585.5 920.8 586.5 920.9 584.9 921.1 585.6 921.2 578.8 921.4 582.2 921.5 582.7 921.7 585.4 921.8 582.7 921.9 580.7 922.1 585.5 922.2 582.5 922.4 584.3 922.5 577.0 922.7 582.7 922.8 584.1 922.9 587.0 923.1 582.6 923.2 577.1 923.4 578.1 923.5 585.9 923.7 585.6 923.8 581.6 923.9 579.5 924.1 585.8 924.2 580.6 924.4 582.1 924.5 577.4 924.7 573.7 924.8 582.9 924.9 588.1 925.1 581.2 925.2 578.1 925.4 586.5 925.5 578.9 925.7 575.2 925.8 580.4 926.0 583.1 926.1 579.4 926.2 582.1 926.4 582.1 926.5 582.2 926.7 587.0 926.8 582.7 927.0 583.9 927.1 586.4 927.2 581.0 927.4 584.9 927.5 580.1 927.7 582.2 927.8 581.8 928.0 585.3 928.1 585.0 928.2 579.8 928.4 578.8 928.5 578.3 928.7 578.9 928.8 579.9 929.0 581.8 929.1 579.2 929.2 588.0 929.4 586.0 929.5 588.8 929.7 583.6 929.8 584.3 930.0 581.4 930.1 585.9 930.3 583.9 930.4 581.8 930.5 583.4 930.7 588.3 930.8 587.5 931.0 582.3 931.1 575.9 931.3 572.8 931.4 582.0 931.5 582.0 931.7 582.1 931.8 583.5 932.0 584.0 932.1 579.7 932.3 580.4 932.4 587.6 932.5 589.7 932.7 583.0 932.8 583.0 933.0 585.4 933.1 583.8 933.3 582.9 933.4 582.6 933.5 587.5 933.7 580.4 933.8 584.5 934.0 579.0 934.1 584.6 934.3 583.8 934.4 582.5 934.5 584.0 934.7 577.2 934.8 580.3 935.0 581.4 935.1 583.2 935.3 582.8 935.4 580.6 935.6 583.1 935.7 584.1 935.8 591.1 936.0 583.6 936.1 584.1 936.3 584.0 936.4 582.0 936.6 581.7 936.7 585.6 936.8 582.2 937.0 581.5 937.1 583.1 937.3 588.3 937.4 579.4 937.6 581.9 937.7 584.1 937.8 585.1 938.0 588.7 938.1 589.8 938.3 581.3 938.4 585.8 938.6 589.6 938.7 587.1 938.8 580.6 939.0 581.5 939.1 583.7 939.3 586.2 939.4 580.1 939.6 586.2 939.7 581.4 939.9 585.5 940.0 585.9 940.1 585.0 940.3 586.8 940.4 583.5 940.6 584.2 940.7 587.8 940.9 581.7 941.0 581.5 941.1 579.0 941.3 589.1 941.4 581.1 941.6 586.6 941.7 583.8 941.9 585.0 942.0 582.3 942.1 583.1 942.3 586.7 942.4 583.9 942.6 580.2 942.7 583.0 942.9 579.0 943.0 585.2 943.1 586.3 943.3 584.2 943.4 588.4 943.6 588.5 943.7 582.9 943.9 586.9 944.0 582.5 944.2 583.9 944.3 582.6 944.4 583.7 944.6 579.5 944.7 582.8 944.9 579.2 945.0 588.5 945.2 581.7 945.3 583.2 945.4 578.3 945.6 581.1 945.7 585.1 945.9 576.6 946.0 584.4 946.2 581.8 946.3 590.4 946.4 585.7 946.6 586.4 946.7 584.5 946.9 586.9 947.0 579.7 947.2 589.1 947.3 586.1 947.4 578.2 947.6 584.7 947.7 583.6 947.9 588.4 948.0 582.6 948.2 583.6 948.3 584.9 948.4 582.8 948.6 589.1 948.7 584.9 948.9 581.2 949.0 584.0 949.2 582.6 949.3 588.8 949.5 579.6 949.6 577.1 949.7 590.2 949.9 583.1 950.0 587.0 950.2 583.1 950.3 581.4 950.5 584.8 950.6 583.2 950.7 580.7 950.9 576.3 951.0 583.7 951.2 587.2 951.3 586.4 951.5 577.7 951.6 587.0 951.7 577.4 951.9 580.3 952.0 582.2 952.2 582.0 952.3 578.8 952.5 580.4 952.6 581.8 952.7 581.6 952.9 583.4 953.0 584.0 953.2 581.0 953.3 577.8 953.5 582.7 953.6 579.7 953.8 576.6 953.9 570.5 954.0 579.4 954.2 580.7 954.3 581.7 954.5 573.8 954.6 576.6 954.8 569.8 954.9 576.3 955.0 575.9 955.2 571.0 955.3 575.5 955.5 576.5 955.6 575.9 955.8 567.4 955.9 570.2 956.0 573.3 956.2 567.3 956.3 565.4 956.5 564.8 956.6 568.5 956.8 562.7 956.9 554.5 957.0 564.4 957.2 573.0 957.3 561.7 957.5 565.0 957.6 559.7 957.8 556.8 957.9 552.9 958.1 559.6 958.2 557.3 958.3 561.5 958.5 558.4 958.6 561.1 958.8 549.4 958.9 560.6 959.1 562.4 959.2 561.6 959.3 566.6 959.5 560.9 959.6 564.6 959.8 553.7 959.9 565.9 960.1 566.2 960.2 559.5 960.3 554.3 960.5 559.8 960.6 564.1 960.8 571.5 960.9 560.1 961.1 567.4 961.2 568.6 961.3 568.9 961.5 564.5 961.6 570.7 961.8 563.1 961.9 561.6 962.1 569.8 962.2 567.5 962.3 562.8 962.5 577.7 962.6 576.3 962.8 576.3 962.9 571.1 963.1 572.7 963.2 570.0 963.4 576.6 963.5 576.2 963.6 577.6 963.8 583.7 963.9 576.9 964.1 578.6 964.2 574.2 964.4 585.7 964.5 584.9 964.6 572.5 964.8 573.2 964.9 587.4 965.1 588.6 965.2 584.5 965.4 587.3 965.5 577.9 965.6 583.0 965.8 585.9 965.9 582.5 966.1 579.9 966.2 582.9 966.4 580.6 966.5 590.4 966.6 582.6 966.8 581.6 966.9 577.6 967.1 589.4 967.2 583.8 967.4 586.5 967.5 584.2 967.7 585.7 967.8 584.9 967.9 582.8 968.1 586.6 968.2 582.3 968.4 586.1 968.5 586.5 968.7 588.1 968.8 582.3 968.9 593.5 969.1 586.2 969.2 581.5 969.4 579.9 969.5 585.9 969.7 585.4 969.8 587.9 969.9 580.4 970.1 585.6 970.2 587.3 970.4 589.2 970.5 579.9 970.7 583.8 970.8 583.3 970.9 585.6 971.1 585.0 971.2 586.4 971.4 583.0 971.5 587.6 971.7 580.9 971.8 586.0 972.0 593.5 972.1 582.8 972.2 592.4 972.4 590.8 972.5 584.8 972.7 588.1 972.8 588.5 973.0 583.1 973.1 579.3 973.2 585.6 973.4 582.0 973.5 588.5 973.7 580.8 973.8 593.8 974.0 594.8 974.1 584.1 974.2 579.8 974.4 587.9 974.5 585.0 974.7 586.4 974.8 581.4 975.0 581.8 975.1 588.6 975.2 582.3 975.4 580.0 975.5 588.6 975.7 588.9 975.8 585.8 976.0 583.3 976.1 592.6 976.2 585.7 976.4 589.3 976.5 582.4 976.7 582.3 976.8 587.8 977.0 592.4 977.1 583.6 977.3 585.2 977.4 585.8 977.5 592.0 977.7 587.1 977.8 588.6 978.0 590.4 978.1 589.8 978.3 593.0 978.4 582.9 978.5 588.4 978.7 588.7 978.8 583.2 979.0 587.9 979.1 588.3 979.3 586.2 979.4 585.2 979.5 591.8 979.7 588.5 979.8 587.3 980.0 588.5 980.1 585.9 980.3 588.4 980.4 589.3 980.5 584.7 980.7 587.4 980.8 587.4 981.0 588.3 981.1 586.3 981.3 587.7 981.4 586.1 981.6 584.7 981.7 585.9 981.8 582.3 982.0 589.8 982.1 589.0 982.3 584.7 982.4 584.5 982.6 584.8 982.7 583.7 982.8 583.9 983.0 589.6 983.1 586.7 983.3 590.9 983.4 589.5 983.6 589.3 983.7 583.3 983.8 593.9 984.0 587.2 984.1 579.9 984.3 587.0 984.4 586.6 984.6 589.8 984.7 584.3 984.8 588.3 985.0 586.5 985.1 592.0 985.3 586.8 985.4 589.5 985.6 591.3 985.7 585.0 985.9 588.9 986.0 587.9 986.1 593.4 986.3 589.9 986.4 585.3 986.6 594.2 986.7 585.9 986.9 587.6 987.0 588.2 987.1 589.8 987.3 585.4 987.4 586.9 987.6 586.4 987.7 588.4 987.9 584.9 988.0 586.2 988.1 582.7 988.3 593.6 988.4 589.4 988.6 591.9 988.7 585.0 988.9 581.3 989.0 581.7 989.1 582.9 989.3 589.1 989.4 585.9 989.6 585.3 989.7 582.7 989.9 593.0 990.0 582.2 990.1 586.1 990.3 585.8 990.4 586.2 990.6 586.1 990.7 587.9 990.9 596.0 991.0 590.4 991.2 587.4 991.3 582.3 991.4 591.5 991.6 591.6 991.7 583.6 991.9 587.6 992.0 576.8 992.2 581.4 992.3 589.1 992.4 578.4 992.6 587.0 992.7 588.5 992.9 578.6 993.0 583.3 993.2 589.2 993.3 592.4 993.4 583.2 993.6 588.4 993.7 579.0 993.9 579.2 994.0 583.2 994.2 584.0 994.3 581.4 994.4 584.8 994.6 583.2 994.7 584.8 994.9 582.2 995.0 578.8 995.2 578.7 995.3 577.3 995.5 577.8 995.6 581.4 995.7 580.6 995.9 581.6 996.0 579.4 996.2 578.9 996.3 571.1 996.5 572.8 996.6 572.0 996.7 570.5 996.9 562.7 997.0 576.4 997.2 568.5 997.3 569.8 997.5 569.9 997.6 580.1 997.7 575.2 997.9 580.0 998.0 573.5 998.2 577.2 998.3 577.5 998.5 573.6 998.6 575.1 998.7 567.3 998.9 570.3 999.0 575.5 999.2 565.4 999.3 576.6 999.5 576.5 999.6 573.2 999.8 579.6 999.9 578.7 1000.0 581.7 1000.2 578.1 1000.3 580.2 1000.5 579.3 1000.6 572.7 1000.8 578.6 1000.9 578.5 1001.0 579.9 1001.2 580.0 1001.3 583.6 1001.5 580.5 1001.6 578.2 1001.8 583.7 1001.9 573.7" stroke="#79B2DF" stroke-width="1.5"/>
<path d="M142.1 525.7L142.2 541.3 142.4 528.9 142.5 532.5 142.7 533.5 142.8 529.7 143.0 526.0 143.1 537.7 143.2 536.0 143.4 522.6 143.5 547.6 143.7 539.6 143.8 529.5 144.0 539.2 144.1 531.2 144.2 533.5 144.4 538.5 144.5 526.6 144.7 537.2 144.8 542.0 145.0 541.6 145.1 532.1 145.3 539.1 145.4 524.4 145.5 532.9 145.7 536.5 145.8 526.0 146.0 533.3 146.1 543.9 146.3 549.1 146.4 538.3 146.5 538.6 146.7 528.2 146.8 526.7 147.0 525.5 147.1 536.9 147.3 538.1 147.4 529.9 147.5 526.6 147.7 535.2 147.8 535.6 148.0 533.0 148.1 541.1 148.3 533.2 148.4 533.3 148.5 527.2 148.7 534.5 148.8 541.5 149.0 534.0 149.1 534.1 149.3 536.2 149.4 535.3 149.6 536.7 149.7 536.8 149.8 537.2 150.0 529.0 150.1 535.4 150.3 524.3 150.4 535.2 150.6 526.2 150.7 533.2 150.8 536.4 151.0 531.2 151.1 534.2 151.3 524.0 151.4 528.6 151.6 537.6 151.7 526.8 151.8 537.3 152.0 525.4 152.1 528.2 152.3 527.1 152.4 533.6 152.6 536.6 152.7 527.3 152.8 532.4 153.0 543.0 153.1 531.6 153.3 528.7 153.4 535.7 153.6 532.2 153.7 529.4 153.9 523.0 154.0 538.2 154.1 530.1 154.3 533.4 154.4 527.2 154.6 541.0 154.7 537.8 154.9 539.1 155.0 532.8 155.1 536.1 155.3 538.6 155.4 539.4 155.6 535.2 155.7 533.0 155.9 531.3 156.0 529.0 156.1 527.7 156.3 535.4 156.4 531.9 156.6 521.7 156.7 532.4 156.9 539.5 157.0 531.7 157.1 522.5 157.3 532.6 157.4 537.9 157.6 534.5 157.7 530.8 157.9 544.1 158.0 544.4 158.1 532.7 158.3 538.0 158.4 535.5 158.6 537.8 158.7 541.7 158.9 538.0 159.0 533.7 159.2 529.4 159.3 528.5 159.4 533.0 159.6 540.0 159.7 534.9 159.9 533.5 160.0 534.7 160.2 533.4 160.3 536.4 160.4 526.6 160.6 521.6 160.7 530.6 160.9 526.4 161.0 542.6 161.2 532.2 161.3 531.6 161.4 524.1 161.6 534.7 161.7 529.4 161.9 539.6 162.0 538.0 162.2 528.5 162.3 535.5 162.4 517.1 162.6 529.1 162.7 540.3 162.9 537.7 163.0 534.1 163.2 532.8 163.3 524.7 163.5 525.0 163.6 534.3 163.7 543.4 163.9 520.4 164.0 536.8 164.2 536.7 164.3 538.8 164.5 528.2 164.6 530.2 164.7 533.6 164.9 527.4 165.0 526.2 165.2 528.3 165.3 533.1 165.5 535.7 165.6 533.4 165.7 534.1 165.9 529.7 166.0 529.5 166.2 540.3 166.3 533.5 166.5 533.4 166.6 539.3 166.7 541.1 166.9 541.4 167.0 536.4 167.2 533.7 167.3 535.8 167.5 535.2 167.6 542.3 167.8 535.9 167.9 538.0 168.0 534.1 168.2 542.3 168.3 522.5 168.5 536.6 168.6 538.8 168.8 527.8 168.9 547.0 169.0 533.7 169.2 533.7 169.3 528.4 169.5 539.8 169.6 536.1 169.8 531.4 169.9 536.1 170.0 538.8 170.2 541.9 170.3 536.2 170.5 529.4 170.6 531.8 170.8 521.8 170.9 530.9 171.0 539.4 171.2 537.9 171.3 534.6 171.5 533.3 171.6 544.5 171.8 537.0 171.9 540.7 172.0 537.7 172.2 531.6 172.3 544.5 172.5 528.4 172.6 528.7 172.8 533.2 172.9 531.5 173.1 532.5 173.2 532.3 173.3 541.5 173.5 536.2 173.6 537.9 173.8 526.8 173.9 531.1 174.1 542.3 174.2 529.2 174.3 542.9 174.5 530.2 174.6 537.9 174.8 531.4 174.9 537.4 175.1 531.2 175.2 534.9 175.3 546.0 175.5 534.3 175.6 548.2 175.8 533.9 175.9 529.8 176.1 537.0 176.2 534.3 176.3 546.8 176.5 541.7 176.6 543.5 176.8 540.4 176.9 551.0 177.1 541.4 177.2 540.0 177.4 532.2 177.5 531.8 177.6 538.1 177.8 542.8 177.9 543.5 178.1 531.8 178.2 540.3 178.4 538.4 178.5 530.9 178.6 540.3 178.8 524.5 178.9 538.9 179.1 551.6 179.2 531.7 179.4 537.7 179.5 526.8 179.6 533.3 179.8 542.0 179.9 531.8 180.1 537.6 180.2 535.8 180.4 535.7 180.5 539.0 180.6 540.7 180.8 545.0 180.9 542.7 181.1 534.8 181.2 546.1 181.4 545.2 181.5 529.3 181.7 542.0 181.8 542.9 181.9 543.8 182.1 541.4 182.2 531.0 182.4 536.9 182.5 526.7 182.7 537.6 182.8 550.0 182.9 542.4 183.1 543.4 183.2 535.8 183.4 533.0 183.5 532.7 183.7 539.5 183.8 534.3 183.9 535.3 184.1 545.4 184.2 529.7 184.4 531.6 184.5 536.2 184.7 538.5 184.8 538.4 184.9 531.3 185.1 540.3 185.2 538.5 185.4 541.3 185.5 533.2 185.7 540.7 185.8 540.6 185.9 535.7 186.1 538.3 186.2 536.4 186.4 547.2 186.5 522.1 186.7 531.5 186.8 530.1 187.0 537.6 187.1 535.9 187.2 537.5 187.4 543.9 187.5 530.7 187.7 535.2 187.8 538.7 188.0 533.3 188.1 542.1 188.2 542.0 188.4 536.2 188.5 530.3 188.7 549.3 188.8 543.0 189.0 542.8 189.1 540.9 189.2 540.5 189.4 545.2 189.5 540.6 189.7 537.2 189.8 544.7 190.0 541.2 190.1 536.6 190.2 535.9 190.4 547.5 190.5 544.6 190.7 552.1 190.8 538.2 191.0 537.1 191.1 543.5 191.3 549.0 191.4 544.7 191.5 543.9 191.7 552.0 191.8 537.5 192.0 534.7 192.1 537.6 192.3 540.0 192.4 543.9 192.5 547.5 192.7 544.2 192.8 550.4 193.0 537.5 193.1 552.6 193.3 537.7 193.4 548.7 193.5 537.1 193.7 544.2 193.8 542.6 194.0 545.3 194.1 546.6 194.3 541.4 194.4 542.2 194.5 544.0 194.7 535.5 194.8 538.7 195.0 533.9 195.1 542.9 195.3 555.1 195.4 547.0 195.6 538.3 195.7 539.2 195.8 548.5 196.0 540.6 196.1 534.4 196.3 537.6 196.4 537.5 196.6 537.8 196.7 547.1 196.8 543.8 197.0 535.3 197.1 540.6 197.3 537.3 197.4 537.0 197.6 535.4 197.7 553.3 197.8 542.1 198.0 546.9 198.1 548.6 198.3 541.7 198.4 546.8 198.6 546.8 198.7 545.1 198.8 555.8 199.0 545.5 199.1 542.7 199.3 547.5 199.4 553.7 199.6 549.4 199.7 541.4 199.8 539.3 200.0 538.9 200.1 540.4 200.3 546.1 200.4 548.6 200.6 531.5 200.7 543.8 200.9 537.8 201.0 547.6 201.1 548.8 201.3 539.5 201.4 541.3 201.6 538.4 201.7 545.7 201.9 534.7 202.0 537.3 202.1 539.6 202.3 550.0 202.4 556.4 202.6 543.2 202.7 536.2 202.9 543.3 203.0 538.0 203.1 545.2 203.3 536.4 203.4 540.3 203.6 542.2 203.7 545.0 203.9 541.5 204.0 548.8 204.1 542.4 204.3 531.4 204.4 546.5 204.6 539.6 204.7 537.3 204.9 549.3 205.0 535.2 205.2 540.9 205.3 536.4 205.4 547.8 205.6 538.0 205.7 541.2 205.9 531.9 206.0 547.7 206.2 533.5 206.3 544.5 206.4 545.5 206.6 546.1 206.7 549.3 206.9 532.3 207.0 541.1 207.2 539.6 207.3 541.1 207.4 544.9 207.6 539.3 207.7 534.1 207.9 538.2 208.0 547.5 208.2 532.2 208.3 539.3 208.4 533.4 208.6 545.3 208.7 529.9 208.9 537.4 209.0 538.8 209.2 540.3 209.3 553.1 209.5 548.8 209.6 534.5 209.7 552.5 209.9 534.1 210.0 530.5 210.2 532.9 210.3 542.6 210.5 544.7 210.6 529.8 210.7 544.7 210.9 541.1 211.0 546.7 211.2 541.0 211.3 548.3 211.5 546.8 211.6 537.5 211.7 552.1 211.9 545.7 212.0 548.8 212.2 551.9 212.3 540.1 212.5 545.2 212.6 541.5 212.7 541.1 212.9 547.8 213.0 548.5 213.2 554.0 213.3 554.6 213.5 547.3 213.6 543.2 213.8 564.9 213.9 559.5 214.0 547.7 214.2 543.6 214.3 546.5 214.5 550.4 214.6 555.0 214.8 554.4 214.9 551.7 215.0 548.3 215.2 550.7 215.3 548.3 215.5 550.5 215.6 549.7 215.8 553.2 215.9 540.7 216.0 548.9 216.2 549.3 216.3 545.1 216.5 550.2 216.6 545.7 216.8 547.9 216.9 549.9 217.0 550.2 217.2 548.7 217.3 557.5 217.5 552.9 217.6 553.6 217.8 553.3 217.9 548.7 218.0 547.7 218.2 556.7 218.3 550.6 218.5 543.4 218.6 541.3 218.8 553.8 218.9 549.0 219.1 552.5 219.2 550.1 219.3 550.9 219.5 552.2 219.6 546.8 219.8 553.1 219.9 558.4 220.1 556.9 220.2 544.6 220.3 546.7 220.5 546.8 220.6 552.4 220.8 558.1 220.9 555.5 221.1 545.0 221.2 554.2 221.3 558.1 221.5 551.8 221.6 563.8 221.8 550.9 221.9 560.2 222.1 566.3 222.2 548.0 222.3 552.9 222.5 557.4 222.6 570.8 222.8 545.6 222.9 557.5 223.1 556.1 223.2 552.6 223.4 550.5 223.5 552.1 223.6 553.2 223.8 548.4 223.9 562.8 224.1 549.3 224.2 552.7 224.4 551.6 224.5 552.9 224.6 555.5 224.8 551.2 224.9 553.9 225.1 563.8 225.2 560.4 225.4 553.7 225.5 559.7 225.6 551.3 225.8 556.4 225.9 548.1 226.1 549.5 226.2 550.9 226.4 561.5 226.5 556.5 226.6 558.1 226.8 556.2 226.9 557.3 227.1 557.6 227.2 559.3 227.4 556.3 227.5 551.0 227.7 551.6 227.8 561.7 227.9 562.7 228.1 558.5 228.2 547.4 228.4 563.6 228.5 557.4 228.7 555.4 228.8 555.9 228.9 554.0 229.1 564.7 229.2 564.3 229.4 550.6 229.5 555.0 229.7 557.5 229.8 562.4 229.9 543.9 230.1 560.7 230.2 564.4 230.4 554.4 230.5 555.9 230.7 562.4 230.8 558.0 230.9 549.5 231.1 550.3 231.2 551.0 231.4 549.1 231.5 556.2 231.7 553.7 231.8 556.5 231.9 559.8 232.1 565.3 232.2 557.5 232.4 547.1 232.5 563.4 232.7 555.9 232.8 562.3 233.0 554.3 233.1 558.0 233.2 555.9 233.4 556.5 233.5 563.0 233.7 553.4 233.8 557.5 234.0 557.8 234.1 554.8 234.2 545.8 234.4 558.5 234.5 542.7 234.7 549.3 234.8 554.6 235.0 559.0 235.1 561.2 235.2 561.0 235.4 559.9 235.5 555.2 235.7 563.1 235.8 555.7 236.0 562.7 236.1 546.1 236.2 552.4 236.4 554.4 236.5 557.2 236.7 545.4 236.8 561.3 237.0 562.3 237.1 561.3 237.3 554.9 237.4 564.7 237.5 554.8 237.7 562.0 237.8 557.3 238.0 557.5 238.1 556.9 238.3 557.6 238.4 563.2 238.5 564.8 238.7 564.8 238.8 562.3 239.0 561.1 239.1 560.1 239.3 566.6 239.4 555.8 239.5 554.9 239.7 558.3 239.8 549.9 240.0 556.9 240.1 557.8 240.3 553.1 240.4 555.4 240.5 561.7 240.7 557.1 240.8 558.7 241.0 563.4 241.1 555.4 241.3 552.8 241.4 558.3 241.6 560.6 241.7 549.6 241.8 561.8 242.0 557.1 242.1 556.6 242.3 554.5 242.4 557.8 242.6 563.5 242.7 561.4 242.8 562.8 243.0 557.1 243.1 566.7 243.3 565.2 243.4 558.9 243.6 546.2 243.7 559.3 243.8 572.5 244.0 558.8 244.1 554.2 244.3 567.5 244.4 556.2 244.6 561.7 244.7 563.0 244.8 552.2 245.0 560.0 245.1 565.2 245.3 557.9 245.4 562.7 245.6 559.4 245.7 564.5 245.8 568.6 246.0 554.3 246.1 558.3 246.3 561.6 246.4 556.7 246.6 555.8 246.7 558.1 246.9 558.5 247.0 556.7 247.1 561.5 247.3 563.9 247.4 563.6 247.6 563.3 247.7 565.8 247.9 553.5 248.0 559.6 248.1 561.1 248.3 562.7 248.4 552.4 248.6 569.3 248.7 556.0 248.9 561.6 249.0 563.9 249.1 565.6 249.3 557.1 249.4 557.9 249.6 562.3 249.7 563.3 249.9 564.9 250.0 560.3 250.1 557.2 250.3 554.1 250.4 569.0 250.6 554.0 250.7 564.0 250.9 562.0 251.0 564.3 251.2 565.2 251.3 567.1 251.4 560.4 251.6 562.6 251.7 551.3 251.9 560.9 252.0 556.4 252.2 560.0 252.3 566.7 252.4 561.3 252.6 566.0 252.7 559.8 252.9 562.7 253.0 558.8 253.2 548.6 253.3 557.4 253.4 559.6 253.6 561.6 253.7 560.9 253.9 560.3 254.0 565.4 254.2 563.9 254.3 559.0 254.4 565.1 254.6 551.4 254.7 559.6 254.9 560.2 255.0 567.2 255.2 558.4 255.3 553.9 255.5 561.9 255.6 569.1 255.7 560.0 255.9 560.6 256.0 560.1 256.2 561.3 256.3 567.3 256.5 570.5 256.6 563.4 256.7 560.6 256.9 570.0 257.0 561.6 257.2 561.5 257.3 559.4 257.5 559.7 257.6 562.3 257.7 559.8 257.9 563.2 258.0 561.7 258.2 563.9 258.3 559.4 258.5 560.3 258.6 562.4 258.7 561.6 258.9 561.8 259.0 566.9 259.2 556.2 259.3 552.0 259.5 564.8 259.6 560.2 259.7 567.8 259.9 560.9 260.0 555.8 260.2 571.8 260.3 563.3 260.5 559.2 260.6 557.8 260.8 564.1 260.9 558.2 261.0 563.3 261.2 567.0 261.3 554.8 261.5 559.7 261.6 563.7 261.8 569.4 261.9 565.9 262.0 559.3 262.2 568.4 262.3 559.7 262.5 560.7 262.6 563.3 262.8 556.2 262.9 576.1 263.0 567.2 263.2 562.5 263.3 558.8 263.5 556.0 263.6 563.3 263.8 564.8 263.9 559.6 264.0 560.6 264.2 564.2 264.3 561.2 264.5 552.7 264.6 564.7 264.8 562.7 264.9 565.0 265.1 557.9 265.2 551.4 265.3 555.6 265.5 562.9 265.6 571.4 265.8 572.7 265.9 562.9 266.1 554.5 266.2 559.9 266.3 563.6 266.5 563.5 266.6 561.9 266.8 567.8 266.9 557.1 267.1 551.1 267.2 557.2 267.3 555.8 267.5 572.1 267.6 560.5 267.8 554.5 267.9 564.3 268.1 566.1 268.2 561.6 268.3 562.2 268.5 566.2 268.6 563.7 268.8 557.9 268.9 564.1 269.1 565.7 269.2 562.9 269.4 565.4 269.5 564.0 269.6 560.1 269.8 560.5 269.9 564.1 270.1 558.5 270.2 566.6 270.4 566.9 270.5 551.3 270.6 560.7 270.8 557.4 270.9 558.0 271.1 561.7 271.2 560.2 271.4 563.7 271.5 562.5 271.6 562.7 271.8 557.1 271.9 559.2 272.1 567.8 272.2 548.9 272.4 569.0 272.5 558.1 272.6 566.4 272.8 548.2 272.9 558.7 273.1 564.7 273.2 561.3 273.4 565.5 273.5 556.3 273.6 557.8 273.8 557.3 273.9 562.9 274.1 562.6 274.2 559.8 274.4 559.0 274.5 558.9 274.7 560.6 274.8 555.6 274.9 559.9 275.1 559.4 275.2 557.4 275.4 557.2 275.5 567.1 275.7 556.9 275.8 561.8 275.9 566.3 276.1 563.2 276.2 559.7 276.4 564.4 276.5 552.5 276.7 553.4 276.8 557.3 276.9 558.1 277.1 558.6 277.2 568.1 277.4 567.1 277.5 558.5 277.7 559.9 277.8 554.1 277.9 559.9 278.1 551.6 278.2 565.0 278.4 555.4 278.5 560.5 278.7 551.2 278.8 564.3 279.0 560.3 279.1 566.8 279.2 557.2 279.4 548.6 279.5 552.6 279.7 550.0 279.8 563.9 280.0 552.6 280.1 551.7 280.2 558.2 280.4 556.3 280.5 557.2 280.7 551.8 280.8 543.9 281.0 546.8 281.1 542.2 281.2 559.6 281.4 557.4 281.5 550.4 281.7 555.2 281.8 555.0 282.0 554.4 282.1 553.5 282.2 554.9 282.4 550.2 282.5 537.6 282.7 534.2 282.8 555.1 283.0 551.0 283.1 533.9 283.3 547.7 283.4 541.5 283.5 542.7 283.7 531.0 283.8 548.7 284.0 543.5 284.1 547.8 284.3 548.7 284.4 549.2 284.5 550.6 284.7 542.5 284.8 541.4 285.0 535.9 285.1 541.9 285.3 536.8 285.4 530.8 285.5 543.7 285.7 540.3 285.8 520.0 286.0 524.0 286.1 532.9 286.3 525.7 286.4 540.1 286.5 533.3 286.7 535.0 286.8 536.6 287.0 538.4 287.1 528.2 287.3 533.1 287.4 530.3 287.5 533.1 287.7 531.2 287.8 536.0 288.0 530.2 288.1 523.6 288.3 526.9 288.4 518.9 288.6 527.5 288.7 534.6 288.8 521.4 289.0 514.8 289.1 524.3 289.3 521.6 289.4 524.7 289.6 521.1 289.7 525.3 289.8 518.7 290.0 534.7 290.1 523.9 290.3 528.7 290.4 530.5 290.6 525.2 290.7 529.3 290.8 525.4 291.0 524.7 291.1 526.5 291.3 531.3 291.4 521.2 291.6 524.0 291.7 525.2 291.8 527.2 292.0 538.1 292.1 531.6 292.3 530.6 292.4 533.9 292.6 539.9 292.7 530.0 292.9 541.0 293.0 522.2 293.1 531.3 293.3 545.6 293.4 546.7 293.6 539.6 293.7 536.7 293.9 544.5 294.0 538.2 294.1 549.8 294.3 548.4 294.4 546.7 294.6 538.4 294.7 549.0 294.9 542.9 295.0 543.6 295.1 543.2 295.3 545.4 295.4 549.3 295.6 551.7 295.7 552.3 295.9 566.4 296.0 547.0 296.1 555.4 296.3 546.3 296.4 549.3 296.6 544.6 296.7 557.5 296.9 553.0 297.0 552.7 297.2 551.9 297.3 557.6 297.4 550.7 297.6 555.7 297.7 566.9 297.9 553.6 298.0 551.5 298.2 549.8 298.3 559.4 298.4 555.9 298.6 552.1 298.7 551.9 298.9 556.5 299.0 551.6 299.2 567.4 299.3 556.1 299.4 556.4 299.6 557.1 299.7 548.7 299.9 550.7 300.0 556.3 300.2 558.2 300.3 552.3 300.4 567.0 300.6 561.0 300.7 565.3 300.9 564.8 301.0 558.1 301.2 571.2 301.3 560.0 301.4 550.3 301.6 548.2 301.7 559.8 301.9 564.1 302.0 560.3 302.2 568.5 302.3 558.7 302.5 563.0 302.6 563.9 302.7 555.4 302.9 561.9 303.0 562.3 303.2 565.9 303.3 566.5 303.5 565.5 303.6 557.1 303.7 564.4 303.9 566.0 304.0 561.1 304.2 564.6 304.3 564.7 304.5 566.8 304.6 561.5 304.7 563.4 304.9 562.1 305.0 561.5 305.2 558.3 305.3 559.7 305.5 555.9 305.6 560.4 305.7 564.7 305.9 564.4 306.0 565.0 306.2 560.9 306.3 568.2 306.5 559.3 306.6 565.2 306.8 563.6 306.9 558.0 307.0 558.3 307.2 565.2 307.3 561.9 307.5 563.0 307.6 576.4 307.8 564.5 307.9 562.4 308.0 565.3 308.2 559.0 308.3 561.0 308.5 564.0 308.6 558.0 308.8 561.8 308.9 561.1 309.0 562.5 309.2 553.6 309.3 570.4 309.5 561.6 309.6 564.7 309.8 557.1 309.9 555.9 310.0 562.2 310.2 560.6 310.3 565.2 310.5 557.8 310.6 557.5 310.8 563.8 310.9 565.5 311.1 566.6 311.2 562.1 311.3 563.5 311.5 558.5 311.6 568.5 311.8 567.7 311.9 567.5 312.1 554.7 312.2 566.5 312.3 558.8 312.5 564.7 312.6 564.4 312.8 568.1 312.9 561.4 313.1 560.7 313.2 557.6 313.3 556.8 313.5 565.1 313.6 558.1 313.8 565.6 313.9 560.6 314.1 559.7 314.2 567.0 314.3 566.5 314.5 557.7 314.6 561.6 314.8 562.4 314.9 565.6 315.1 559.0 315.2 560.5 315.3 561.9 315.5 565.7 315.6 566.7 315.8 559.9 315.9 570.8 316.1 564.5 316.2 558.7 316.4 555.1 316.5 560.1 316.6 551.2 316.8 563.4 316.9 565.1 317.1 568.5 317.2 564.9 317.4 554.4 317.5 561.2 317.6 565.8 317.8 552.3 317.9 558.6 318.1 565.5 318.2 562.8 318.4 553.0 318.5 560.2 318.6 562.7 318.8 572.4 318.9 560.5 319.1 558.3 319.2 563.7 319.4 564.2 319.5 565.3 319.6 569.4 319.8 562.3 319.9 556.1 320.1 562.8 320.2 562.7 320.4 567.2 320.5 566.6 320.7 559.2 320.8 566.3 320.9 567.4 321.1 561.8 321.2 567.1 321.4 563.4 321.5 563.5 321.7 562.0 321.8 566.5 321.9 576.2 322.1 563.7 322.2 557.2 322.4 561.6 322.5 559.9 322.7 564.2 322.8 562.0 322.9 574.7 323.1 566.2 323.2 571.5 323.4 559.4 323.5 561.7 323.7 572.4 323.8 554.8 323.9 563.4 324.1 555.4 324.2 570.0 324.4 556.0 324.5 561.3 324.7 561.8 324.8 554.7 325.0 574.4 325.1 561.9 325.2 570.5 325.4 559.4 325.5 555.8 325.7 563.7 325.8 563.6 326.0 576.5 326.1 557.7 326.2 555.3 326.4 559.3 326.5 564.1 326.7 565.3 326.8 559.1 327.0 561.0 327.1 565.2 327.2 567.8 327.4 559.8 327.5 563.2 327.7 549.5 327.8 558.0 328.0 564.6 328.1 562.5 328.2 561.7 328.4 570.2 328.5 561.2 328.7 557.4 328.8 563.6 329.0 563.6 329.1 557.2 329.2 567.3 329.4 570.6 329.5 559.8 329.7 558.4 329.8 562.2 330.0 568.5 330.1 559.9 330.3 559.1 330.4 559.8 330.5 563.7 330.7 563.6 330.8 561.7 331.0 568.2 331.1 573.2 331.3 559.8 331.4 567.5 331.5 563.8 331.7 576.7 331.8 558.3 332.0 560.9 332.1 563.0 332.3 555.7 332.4 561.5 332.5 565.9 332.7 555.6 332.8 563.1 333.0 570.9 333.1 559.6 333.3 558.2 333.4 550.4 333.5 561.9 333.7 554.7 333.8 565.1 334.0 570.2 334.1 565.0 334.3 558.6 334.4 565.5 334.6 560.1 334.7 557.0 334.8 560.0 335.0 563.5 335.1 560.6 335.3 564.8 335.4 572.5 335.6 565.2 335.7 565.9 335.8 559.1 336.0 568.6 336.1 563.9 336.3 567.0 336.4 558.5 336.6 563.3 336.7 551.0 336.8 560.5 337.0 558.1 337.1 557.4 337.3 570.4 337.4 554.8 337.6 561.4 337.7 561.4 337.8 564.6 338.0 566.8 338.1 554.4 338.3 559.4 338.4 558.6 338.6 565.3 338.7 566.4 338.9 560.0 339.0 559.3 339.1 557.1 339.3 563.6 339.4 569.8 339.6 563.6 339.7 558.5 339.9 557.8 340.0 558.4 340.1 553.9 340.3 570.0 340.4 562.0 340.6 560.1 340.7 572.3 340.9 562.7 341.0 568.7 341.1 562.9 341.3 566.8 341.4 561.9 341.6 559.7 341.7 563.4 341.9 564.9 342.0 566.6 342.1 562.4 342.3 560.2 342.4 559.6 342.6 562.8 342.7 559.0 342.9 559.7 343.0 563.8 343.1 564.0 343.3 563.6 343.4 557.6 343.6 554.2 343.7 562.4 343.9 561.6 344.0 559.2 344.2 561.9 344.3 565.0 344.4 559.9 344.6 562.7 344.7 556.1 344.9 559.7 345.0 556.7 345.2 553.7 345.3 562.7 345.4 546.9 345.6 560.2 345.7 564.2 345.9 562.3 346.0 552.9 346.2 561.4 346.3 551.4 346.4 555.9 346.6 567.0 346.7 560.8 346.9 565.6 347.0 554.6 347.2 549.7 347.3 556.1 347.4 565.9 347.6 564.0 347.7 564.7 347.9 558.7 348.0 558.8 348.2 558.2 348.3 573.2 348.5 559.4 348.6 567.5 348.7 557.9 348.9 565.4 349.0 553.2 349.2 555.9 349.3 560.0 349.5 555.2 349.6 555.9 349.7 556.9 349.9 554.9 350.0 565.1 350.2 562.8 350.3 550.1 350.5 565.3 350.6 556.4 350.7 556.2 350.9 555.3 351.0 560.2 351.2 559.2 351.3 552.7 351.5 555.3 351.6 548.1 351.7 563.8 351.9 549.8 352.0 549.2 352.2 549.7 352.3 553.7 352.5 556.5 352.6 550.4 352.8 551.9 352.9 549.5 353.0 557.6 353.2 551.5 353.3 540.9 353.5 557.1 353.6 550.5 353.8 558.4 353.9 544.3 354.0 544.3 354.2 545.3 354.3 538.0 354.5 542.9 354.6 551.0 354.8 547.3 354.9 529.3 355.0 549.0 355.2 543.0 355.3 544.7 355.5 539.4 355.6 539.3 355.8 537.6 355.9 536.6 356.0 529.3 356.2 540.3 356.3 534.4 356.5 534.3 356.6 532.9 356.8 527.8 356.9 528.1 357.1 519.0 357.2 527.5 357.3 526.3 357.5 521.7 357.6 511.1 357.8 528.8 357.9 517.9 358.1 517.4 358.2 514.0 358.3 510.6 358.5 510.2 358.6 504.0 358.8 505.8 358.9 521.8 359.1 514.3 359.2 518.2 359.3 498.7 359.5 488.2 359.6 490.0 359.8 479.2 359.9 503.5 360.1 502.7 360.2 493.0 360.3 493.1 360.5 491.2 360.6 485.8 360.8 490.2 360.9 475.4 361.1 477.8 361.2 478.1 361.3 464.5 361.5 467.8 361.6 476.9 361.8 474.4 361.9 450.8 362.1 475.3 362.2 469.1 362.4 470.7 362.5 462.3 362.6 465.8 362.8 449.1 362.9 456.1 363.1 447.6 363.2 450.5 363.4 462.8 363.5 465.1 363.6 450.6 363.8 445.3 363.9 454.2 364.1 450.3 364.2 461.4 364.4 449.5 364.5 423.5 364.6 442.8 364.8 438.7 364.9 433.9 365.1 441.2 365.2 439.9 365.4 435.9 365.5 451.3 365.6 441.4 365.8 441.4 365.9 439.2 366.1 448.2 366.2 428.3 366.4 448.3 366.5 436.2 366.7 451.2 366.8 451.1 366.9 443.7 367.1 436.2 367.2 443.2 367.4 444.5 367.5 430.1 367.7 440.6 367.8 438.5 367.9 456.9 368.1 460.7 368.2 441.8 368.4 444.8 368.5 439.6 368.7 454.0 368.8 459.9 368.9 469.4 369.1 446.0 369.2 465.5 369.4 458.5 369.5 455.6 369.7 460.3 369.8 458.8 369.9 470.0 370.1 468.3 370.2 479.3 370.4 467.9 370.5 459.6 370.7 468.2 370.8 480.1 371.0 468.4 371.1 475.7 371.2 487.1 371.4 475.0 371.5 493.0 371.7 491.2 371.8 486.4 372.0 492.1 372.1 490.8 372.2 493.3 372.4 495.6 372.5 499.8 372.7 500.8 372.8 498.2 373.0 498.3 373.1 520.5 373.2 501.0 373.4 509.0 373.5 519.4 373.7 519.6 373.8 510.1 374.0 529.1 374.1 529.0 374.2 517.3 374.4 513.1 374.5 526.1 374.7 522.5 374.8 523.2 375.0 521.4 375.1 524.0 375.2 529.8 375.4 535.4 375.5 519.1 375.7 518.5 375.8 539.2 376.0 529.8 376.1 539.7 376.3 537.4 376.4 544.9 376.5 543.9 376.7 538.2 376.8 539.7 377.0 543.3 377.1 546.5 377.3 539.8 377.4 535.7 377.5 545.3 377.7 545.3 377.8 545.4 378.0 541.6 378.1 550.8 378.3 539.1 378.4 546.3 378.5 556.2 378.7 544.2 378.8 552.7 379.0 553.4 379.1 553.8 379.3 543.4 379.4 557.7 379.5 553.7 379.7 555.9 379.8 555.3 380.0 554.5 380.1 560.7 380.3 562.1 380.4 545.9 380.6 551.7 380.7 555.1 380.8 545.4 381.0 563.8 381.1 552.9 381.3 559.8 381.4 558.3 381.6 556.4 381.7 552.8 381.8 556.2 382.0 558.6 382.1 562.2 382.3 557.6 382.4 556.8 382.6 557.7 382.7 565.4 382.8 560.7 383.0 556.1 383.1 553.4 383.3 557.7 383.4 555.4 383.6 557.9 383.7 566.6 383.8 563.5 384.0 561.4 384.1 562.4 384.3 568.8 384.4 555.2 384.6 562.9 384.7 559.8 384.9 561.6 385.0 561.3 385.1 559.6 385.3 563.7 385.4 550.9 385.6 562.7 385.7 564.6 385.9 556.9 386.0 556.9 386.1 570.7 386.3 557.4 386.4 559.9 386.6 558.1 386.7 558.9 386.9 558.7 387.0 551.9 387.1 573.3 387.3 558.6 387.4 563.9 387.6 561.8 387.7 568.6 387.9 565.5 388.0 567.6 388.1 567.8 388.3 566.3 388.4 562.6 388.6 566.7 388.7 555.0 388.9 566.7 389.0 565.9 389.1 564.0 389.3 556.4 389.4 569.0 389.6 559.6 389.7 565.7 389.9 554.1 390.0 562.0 390.2 559.8 390.3 559.2 390.4 559.8 390.6 571.3 390.7 562.8 390.9 564.6 391.0 573.0 391.2 556.4 391.3 570.3 391.4 561.4 391.6 560.3 391.7 561.4 391.9 554.9 392.0 556.3 392.2 558.2 392.3 561.0 392.4 567.0 392.6 568.8 392.7 562.1 392.9 565.6 393.0 566.0 393.2 562.9 393.3 565.1 393.4 561.4 393.6 566.8 393.7 563.2 393.9 564.5 394.0 565.6 394.2 565.2 394.3 561.3 394.5 558.4 394.6 564.4 394.7 562.2 394.9 562.4 395.0 564.4 395.2 561.7 395.3 567.1 395.5 566.9 395.6 561.0 395.7 566.9 395.9 560.9 396.0 568.7 396.2 568.3 396.3 565.4 396.5 569.6 396.6 570.3 396.7 567.7 396.9 557.4 397.0 566.4 397.2 566.8 397.3 569.6 397.5 561.5 397.6 569.3 397.7 567.7 397.9 568.0 398.0 560.6 398.2 562.4 398.3 571.5 398.5 570.2 398.6 566.1 398.8 571.5 398.9 567.8 399.0 564.8 399.2 559.6 399.3 571.4 399.5 566.2 399.6 568.0 399.8 558.9 399.9 564.6 400.0 568.4 400.2 566.0 400.3 563.9 400.5 562.3 400.6 568.3 400.8 565.7 400.9 565.9 401.0 566.2 401.2 564.7 401.3 566.1 401.5 564.9 401.6 567.9 401.8 561.7 401.9 563.0 402.0 568.0 402.2 567.2 402.3 568.7 402.5 577.0 402.6 571.5 402.8 573.2 402.9 570.1 403.0 567.8 403.2 564.8 403.3 560.2 403.5 562.2 403.6 558.2 403.8 563.7 403.9 561.7 404.1 564.5 404.2 568.7 404.3 567.0 404.5 572.8 404.6 572.9 404.8 573.5 404.9 572.8 405.1 570.3 405.2 566.9 405.3 571.2 405.5 568.2 405.6 568.5 405.8 571.2 405.9 564.7 406.1 562.4 406.2 571.0 406.3 577.4 406.5 574.6 406.6 586.2 406.8 563.7 406.9 567.1 407.1 559.9 407.2 566.2 407.3 578.3 407.5 577.1 407.6 565.7 407.8 568.7 407.9 566.6 408.1 564.3 408.2 569.2 408.4 568.8 408.5 570.7 408.6 571.5 408.8 573.4 408.9 576.3 409.1 570.1 409.2 569.5 409.4 570.5 409.5 572.4 409.6 570.0 409.8 566.3 409.9 568.4 410.1 573.8 410.2 566.2 410.4 574.2 410.5 564.7 410.6 573.4 410.8 573.3 410.9 569.9 411.1 570.7 411.2 569.9 411.4 578.1 411.5 569.0 411.6 567.8 411.8 572.6 411.9 575.8 412.1 572.5 412.2 570.4 412.4 575.5 412.5 567.8 412.7 567.8 412.8 565.8 412.9 576.4 413.1 561.7 413.2 565.7 413.4 572.3 413.5 573.0 413.7 578.7 413.8 573.1 413.9 569.2 414.1 577.2 414.2 575.9 414.4 576.3 414.5 575.9 414.7 573.5 414.8 565.1 414.9 566.8 415.1 579.8 415.2 571.5 415.4 563.5 415.5 571.6 415.7 575.5 415.8 573.0 415.9 571.4 416.1 561.4 416.2 571.6 416.4 570.8 416.5 578.5 416.7 571.3 416.8 571.1 416.9 569.4 417.1 570.8 417.2 572.4 417.4 569.1 417.5 567.5 417.7 565.9 417.8 571.7 418.0 569.7 418.1 569.8 418.2 564.6 418.4 567.7 418.5 563.0 418.7 575.2 418.8 576.1 419.0 572.8 419.1 570.6 419.2 573.0 419.4 564.6 419.5 565.3 419.7 576.1 419.8 566.5 420.0 570.8 420.1 568.1 420.2 560.5 420.4 568.1 420.5 574.5 420.7 576.6 420.8 560.1 421.0 564.3 421.1 568.5 421.2 575.3 421.4 576.3 421.5 577.9 421.7 578.4 421.8 569.3 422.0 567.0 422.1 575.2 422.3 570.2 422.4 571.5 422.5 569.9 422.7 569.8 422.8 575.4 423.0 567.3 423.1 564.2 423.3 568.7 423.4 572.2 423.5 570.5 423.7 571.3 423.8 563.5 424.0 568.3 424.1 576.7 424.3 571.4 424.4 569.3 424.5 577.1 424.7 570.0 424.8 575.6 425.0 573.4 425.1 574.3 425.3 577.0 425.4 582.2 425.5 578.2 425.7 569.3 425.8 568.3 426.0 571.6 426.1 572.3 426.3 576.1 426.4 573.3 426.6 574.1 426.7 566.2 426.8 573.2 427.0 575.7 427.1 580.7 427.3 576.9 427.4 574.0 427.6 568.7 427.7 573.7 427.8 573.8 428.0 573.3 428.1 574.6 428.3 576.1 428.4 575.9 428.6 583.4 428.7 570.0 428.8 567.6 429.0 575.8 429.1 569.1 429.3 573.4 429.4 574.0 429.6 571.0 429.7 577.7 429.8 577.1 430.0 575.1 430.1 577.0 430.3 578.2 430.4 573.3 430.6 577.1 430.7 575.2 430.8 574.7 431.0 572.8 431.1 582.0 431.3 576.2 431.4 569.0 431.6 576.9 431.7 564.4 431.9 576.0 432.0 578.1 432.1 580.8 432.3 575.9 432.4 572.2 432.6 583.1 432.7 579.4 432.9 580.5 433.0 574.1 433.1 577.8 433.3 568.0 433.4 577.2 433.6 566.6 433.7 571.1 433.9 569.3 434.0 580.1 434.1 579.2 434.3 573.0 434.4 580.5 434.6 575.8 434.7 567.4 434.9 573.9 435.0 568.5 435.1 575.9 435.3 577.1 435.4 572.6 435.6 579.0 435.7 580.0 435.9 572.1 436.0 578.1 436.2 575.3 436.3 574.6 436.4 582.6 436.6 572.9 436.7 574.3 436.9 575.5 437.0 578.1 437.2 578.9 437.3 571.9 437.4 581.4 437.6 583.3 437.7 584.0 437.9 576.5 438.0 573.7 438.2 571.4 438.3 577.2 438.4 575.5 438.6 575.6 438.7 573.3 438.9 566.7 439.0 574.6 439.2 575.1 439.3 574.3 439.4 570.0 439.6 574.7 439.7 575.2 439.9 571.2 440.0 578.5 440.2 575.7 440.3 576.4 440.5 577.5 440.6 574.8 440.7 575.5 440.9 578.0 441.0 579.0 441.2 579.5 441.3 575.1 441.5 579.0 441.6 580.5 441.7 570.1 441.9 574.2 442.0 575.8 442.2 575.9 442.3 583.2 442.5 580.7 442.6 575.3 442.7 575.4 442.9 570.1 443.0 571.8 443.2 581.4 443.3 568.8 443.5 578.4 443.6 572.9 443.7 574.6 443.9 575.4 444.0 583.3 444.2 577.2 444.3 577.9 444.5 580.0 444.6 566.7 444.7 583.5 444.9 568.9 445.0 572.8 445.2 578.6 445.3 570.7 445.5 568.6 445.6 580.6 445.8 574.5 445.9 579.6 446.0 577.8 446.2 574.9 446.3 582.7 446.5 574.7 446.6 584.0 446.8 572.0 446.9 571.6 447.0 572.8 447.2 576.6 447.3 570.9 447.5 572.7 447.6 581.5 447.8 576.3 447.9 580.3 448.0 577.1 448.2 573.1 448.3 572.3 448.5 576.3 448.6 575.8 448.8 573.3 448.9 573.1 449.0 581.4 449.2 579.7 449.3 576.6 449.5 573.9 449.6 573.5 449.8 583.5 449.9 572.7 450.1 584.7 450.2 572.4 450.3 568.9 450.5 583.4 450.6 574.5 450.8 581.3 450.9 576.8 451.1 573.9 451.2 578.8 451.3 573.6 451.5 576.6 451.6 574.1 451.8 567.3 451.9 576.3 452.1 572.3 452.2 573.9 452.3 576.2 452.5 568.5 452.6 576.6 452.8 576.7 452.9 582.3 453.1 577.6 453.2 575.5 453.3 571.3 453.5 573.9 453.6 568.0 453.8 575.5 453.9 572.9 454.1 572.1 454.2 573.7 454.4 575.4 454.5 574.6 454.6 568.4 454.8 578.9 454.9 573.3 455.1 574.5 455.2 573.1 455.4 569.0 455.5 574.0 455.6 571.1 455.8 569.1 455.9 573.2 456.1 575.7 456.2 575.0 456.4 573.2 456.5 569.7 456.6 570.8 456.8 571.5 456.9 565.9 457.1 575.3 457.2 572.2 457.4 566.2 457.5 578.0 457.6 579.8 457.8 565.9 457.9 570.5 458.1 567.6 458.2 574.4 458.4 565.1 458.5 573.0 458.6 572.4 458.8 575.4 458.9 562.3 459.1 567.1 459.2 569.4 459.4 574.3 459.5 570.4 459.7 573.2 459.8 571.8 459.9 565.8 460.1 569.1 460.2 567.7 460.4 567.9 460.5 565.2 460.7 572.4 460.8 570.3 460.9 560.4 461.1 571.9 461.2 566.1 461.4 561.9 461.5 573.6 461.7 568.1 461.8 569.6 461.9 567.3 462.1 567.6 462.2 559.6 462.4 570.9 462.5 564.1 462.7 567.3 462.8 566.7 462.9 562.6 463.1 561.2 463.2 566.0 463.4 572.3 463.5 563.5 463.7 563.6 463.8 566.6 464.0 563.4 464.1 571.8 464.2 567.9 464.4 577.0 464.5 566.5 464.7 575.5 464.8 562.6 465.0 566.2 465.1 560.2 465.2 563.1 465.4 563.3 465.5 567.5 465.7 570.8 465.8 563.2 466.0 557.6 466.1 564.2 466.2 563.3 466.4 561.7 466.5 567.8 466.7 568.9 466.8 560.3 467.0 560.1 467.1 551.2 467.2 560.3 467.4 567.0 467.5 558.7 467.7 567.1 467.8 565.9 468.0 565.5 468.1 565.5 468.3 562.0 468.4 567.0 468.5 567.1 468.7 563.6 468.8 561.6 469.0 567.8 469.1 568.6 469.3 558.4 469.4 565.2 469.5 561.3 469.7 572.1 469.8 559.2 470.0 557.5 470.1 555.9 470.3 564.5 470.4 554.8 470.5 562.8 470.7 557.0 470.8 565.7 471.0 566.6 471.1 564.2 471.3 548.9 471.4 550.9 471.5 544.5 471.7 570.4 471.8 554.2 472.0 554.7 472.1 556.6 472.3 559.0 472.4 553.9 472.5 555.5 472.7 554.7 472.8 547.7 473.0 563.0 473.1 562.2 473.3 553.0 473.4 551.6 473.6 561.5 473.7 563.9 473.8 551.0 474.0 553.3 474.1 547.5 474.3 550.8 474.4 535.0 474.6 536.0 474.7 549.7 474.8 545.8 475.0 548.4 475.1 546.1 475.3 548.4 475.4 546.1 475.6 543.2 475.7 546.0 475.8 539.7 476.0 550.7 476.1 537.2 476.3 540.1 476.4 547.1 476.6 539.9 476.7 547.2 476.8 549.9 477.0 546.2 477.1 539.5 477.3 552.6 477.4 544.8 477.6 537.3 477.7 554.1 477.9 544.4 478.0 547.2 478.1 549.3 478.3 542.1 478.4 550.4 478.6 539.5 478.7 541.6 478.9 545.5 479.0 560.0 479.1 552.3 479.3 556.0 479.4 548.4 479.6 554.2 479.7 541.3 479.9 551.7 480.0 556.1 480.1 551.7 480.3 545.4 480.4 547.9 480.6 560.1 480.7 564.3 480.9 556.5 481.0 566.8 481.1 553.3 481.3 563.3 481.4 562.4 481.6 566.6 481.7 555.0 481.9 567.5 482.0 563.8 482.2 559.8 482.3 562.2 482.4 563.8 482.6 566.6 482.7 561.8 482.9 562.2 483.0 567.0 483.2 566.8 483.3 569.6 483.4 571.8 483.6 559.7 483.7 568.0 483.9 569.8 484.0 569.2 484.2 564.5 484.3 572.7 484.4 577.4 484.6 569.3 484.7 566.8 484.9 573.9 485.0 570.8 485.2 571.5 485.3 572.2 485.4 569.4 485.6 571.5 485.7 568.6 485.9 563.4 486.0 576.6 486.2 573.5 486.3 572.1 486.4 578.4 486.6 572.1 486.7 577.7 486.9 576.6 487.0 571.9 487.2 568.0 487.3 575.5 487.5 574.5 487.6 578.0 487.7 567.2 487.9 573.4 488.0 575.0 488.2 575.6 488.3 574.8 488.5 575.7 488.6 564.7 488.7 573.3 488.9 571.9 489.0 568.3 489.2 575.4 489.3 573.4 489.5 570.2 489.6 569.3 489.7 576.6 489.9 564.8 490.0 575.0 490.2 570.9 490.3 576.2 490.5 583.7 490.6 580.0 490.7 575.6 490.9 582.2 491.0 583.8 491.2 580.2 491.3 583.8 491.5 577.1 491.6 578.9 491.8 576.0 491.9 574.9 492.0 576.6 492.2 573.4 492.3 576.3 492.5 585.8 492.6 579.7 492.8 576.1 492.9 584.0 493.0 582.9 493.2 572.6 493.3 574.2 493.5 584.2 493.6 577.6 493.8 578.0 493.9 575.1 494.0 572.8 494.2 582.1 494.3 574.1 494.5 579.7 494.6 585.1 494.8 579.8 494.9 576.7 495.0 580.2 495.2 580.0 495.3 575.9 495.5 578.9 495.6 572.9 495.8 570.7 495.9 575.6 496.1 570.8 496.2 575.4 496.3 577.5 496.5 578.7 496.6 585.6 496.8 574.3 496.9 576.2 497.1 576.2 497.2 574.0 497.3 586.4 497.5 575.0 497.6 577.2 497.8 577.5 497.9 588.1 498.1 577.0 498.2 575.2 498.3 583.3 498.5 575.7 498.6 569.8 498.8 583.0 498.9 582.2 499.1 572.6 499.2 573.4 499.3 578.3 499.5 574.5 499.6 572.3 499.8 573.6 499.9 585.7 500.1 582.9 500.2 574.2 500.4 577.9 500.5 579.0 500.6 577.2 500.8 578.4 500.9 585.7 501.1 576.0 501.2 575.5 501.4 578.4 501.5 575.9 501.6 576.8 501.8 576.9 501.9 574.6 502.1 583.6 502.2 576.0 502.4 584.1 502.5 575.2 502.6 575.0 502.8 579.7 502.9 577.7 503.1 582.2 503.2 581.5 503.4 588.2 503.5 566.8 503.6 574.6 503.8 578.6 503.9 578.0 504.1 578.6 504.2 589.4 504.4 569.7 504.5 581.7 504.6 578.0 504.8 579.0 504.9 583.3 505.1 578.7 505.2 582.2 505.4 584.2 505.5 583.8 505.7 571.4 505.8 576.4 505.9 573.7 506.1 575.8 506.2 578.2 506.4 587.5 506.5 576.4 506.7 577.8 506.8 578.4 506.9 585.2 507.1 576.8 507.2 580.9 507.4 582.4 507.5 581.4 507.7 570.9 507.8 573.8 507.9 581.8 508.1 571.9 508.2 578.1 508.4 572.9 508.5 580.7 508.7 578.9 508.8 572.7 508.9 578.0 509.1 574.7 509.2 576.8 509.4 584.1 509.5 580.2 509.7 580.4 509.8 585.3 510.0 579.5 510.1 584.3 510.2 580.6 510.4 580.1 510.5 577.6 510.7 575.7 510.8 574.9 511.0 575.3 511.1 581.2 511.2 580.7 511.4 575.7 511.5 584.0 511.7 576.5 511.8 577.5 512.0 573.5 512.1 575.7 512.2 582.6 512.4 580.9 512.5 576.6 512.7 584.1 512.8 578.8 513.0 579.4 513.1 583.4 513.2 581.0 513.4 577.8 513.5 574.9 513.7 584.3 513.8 569.7 514.0 576.6 514.1 572.1 514.3 576.8 514.4 582.5 514.5 577.8 514.7 577.4 514.8 578.9 515.0 587.0 515.1 584.7 515.3 580.1 515.4 576.6 515.5 577.6 515.7 580.5 515.8 578.2 516.0 578.7 516.1 575.0 516.3 573.7 516.4 574.8 516.5 580.1 516.7 575.5 516.8 589.3 517.0 581.5 517.1 581.9 517.3 583.3 517.4 575.1 517.5 574.6 517.7 578.4 517.8 581.7 518.0 581.6 518.1 585.9 518.3 585.0 518.4 583.6 518.5 584.0 518.7 580.6 518.8 583.0 519.0 578.5 519.1 578.0 519.3 583.4 519.4 573.1 519.6 585.3 519.7 587.1 519.8 577.8 520.0 582.8 520.1 580.5 520.3 576.0 520.4 581.3 520.6 582.0 520.7 583.9 520.8 578.6 521.0 580.5 521.1 577.5 521.3 583.9 521.4 579.5 521.6 583.4 521.7 577.3 521.8 580.4 522.0 576.4 522.1 577.0 522.3 584.4 522.4 579.2 522.6 579.6 522.7 582.9 522.8 576.7 523.0 587.7 523.1 576.9 523.3 578.4 523.4 588.6 523.6 573.1 523.7 586.9 523.9 581.5 524.0 582.0 524.1 575.8 524.3 580.6 524.4 574.9 524.6 583.9 524.7 578.9 524.9 577.3 525.0 578.0 525.1 579.3 525.3 583.7 525.4 581.3 525.6 576.8 525.7 576.4 525.9 575.8 526.0 583.0 526.1 581.7 526.3 575.4 526.4 573.4 526.6 579.6 526.7 577.5 526.9 581.9 527.0 579.3 527.1 581.3 527.3 583.0 527.4 583.9 527.6 578.9 527.7 582.6 527.9 577.5 528.0 575.0 528.2 580.6 528.3 584.5 528.4 585.3 528.6 579.5 528.7 572.9 528.9 581.0 529.0 578.8 529.2 582.1 529.3 583.9 529.4 578.0 529.6 576.9 529.7 578.1 529.9 577.0 530.0 575.7 530.2 580.5 530.3 576.7 530.4 578.5 530.6 578.3 530.7 577.2 530.9 582.0 531.0 577.8 531.2 579.3 531.3 582.7 531.4 579.0 531.6 573.9 531.7 577.7 531.9 577.7 532.0 582.0 532.2 586.1 532.3 580.3 532.4 579.0 532.6 585.3 532.7 576.8 532.9 580.7 533.0 581.4 533.2 579.3 533.3 578.8 533.5 580.2 533.6 585.5 533.7 581.8 533.9 577.2 534.0 580.7 534.2 583.3 534.3 586.5 534.5 582.7 534.6 580.3 534.7 584.9 534.9 583.0 535.0 580.1 535.2 576.9 535.3 579.9 535.5 583.2 535.6 575.3 535.7 573.3 535.9 581.5 536.0 573.5 536.2 574.4 536.3 578.7 536.5 578.6 536.6 579.7 536.7 580.1 536.9 581.5 537.0 579.1 537.2 576.2 537.3 568.4 537.5 584.3 537.6 582.5 537.8 581.8 537.9 579.3 538.0 575.9 538.2 581.3 538.3 579.1 538.5 574.1 538.6 583.4 538.8 573.8 538.9 577.7 539.0 586.2 539.2 576.2 539.3 580.0 539.5 583.5 539.6 579.3 539.8 573.8 539.9 577.4 540.0 579.1 540.2 573.4 540.3 584.9 540.5 580.5 540.6 582.1 540.8 580.3 540.9 580.7 541.0 577.9 541.2 573.5 541.3 581.9 541.5 579.4 541.6 585.4 541.8 574.7 541.9 579.9 542.1 587.7 542.2 574.0 542.3 574.6 542.5 580.1 542.6 585.8 542.8 574.5 542.9 579.4 543.1 578.5 543.2 577.0 543.3 578.2 543.5 584.0 543.6 579.7 543.8 574.0 543.9 576.7 544.1 579.5 544.2 573.6 544.3 576.4 544.5 577.5 544.6 570.9 544.8 586.4 544.9 572.8 545.1 579.3 545.2 578.4 545.3 576.7 545.5 583.8 545.6 579.3 545.8 575.8 545.9 583.7 546.1 581.3 546.2 575.0 546.3 573.1 546.5 582.6 546.6 578.5 546.8 573.3 546.9 581.2 547.1 573.4 547.2 576.4 547.4 575.9 547.5 571.3 547.6 581.8 547.8 592.9 547.9 581.6 548.1 580.7 548.2 578.1 548.4 578.8 548.5 580.2 548.6 581.6 548.8 577.1 548.9 579.3 549.1 578.3 549.2 581.3 549.4 582.9 549.5 583.5 549.6 577.4 549.8 577.3 549.9 581.9 550.1 578.2 550.2 578.4 550.4 581.1 550.5 580.8 550.6 584.5 550.8 574.5 550.9 583.8 551.1 577.5 551.2 582.0 551.4 574.3 551.5 578.9 551.7 576.9 551.8 586.3 551.9 575.6 552.1 583.9 552.2 576.2 552.4 575.0 552.5 580.6 552.7 583.6 552.8 579.2 552.9 581.8 553.1 580.4 553.2 579.2 553.4 584.9 553.5 579.5 553.7 582.9 553.8 574.9 553.9 578.7 554.1 583.2 554.2 577.7 554.4 571.0 554.5 582.4 554.7 581.8 554.8 578.4 554.9 579.9 555.1 578.2 555.2 581.0 555.4 583.9 555.5 580.7 555.7 579.2 555.8 577.6 556.0 578.9 556.1 577.5 556.2 583.3 556.4 575.4 556.5 577.2 556.7 580.9 556.8 580.9 557.0 580.5 557.1 577.9 557.2 580.3 557.4 573.9 557.5 573.5 557.7 574.5 557.8 581.1 558.0 584.9 558.1 577.9 558.2 577.4 558.4 578.4 558.5 586.7 558.7 580.5 558.8 580.0 559.0 577.4 559.1 581.6 559.2 584.8 559.4 580.4 559.5 576.5 559.7 584.8 559.8 579.6 560.0 586.7 560.1 575.5 560.2 579.1 560.4 580.7 560.5 572.8 560.7 580.1 560.8 582.1 561.0 579.2 561.1 581.4 561.3 580.4 561.4 576.3 561.5 582.5 561.7 576.7 561.8 578.5 562.0 576.7 562.1 582.1 562.3 577.8 562.4 577.8 562.5 571.2 562.7 578.5 562.8 583.5 563.0 571.4 563.1 581.0 563.3 579.4 563.4 572.8 563.5 577.9 563.7 583.3 563.8 579.5 564.0 581.0 564.1 583.9 564.3 578.3 564.4 583.0 564.5 574.7 564.7 576.2 564.8 585.3 565.0 584.9 565.1 583.3 565.3 573.7 565.4 578.7 565.6 576.1 565.7 587.1 565.8 574.4 566.0 574.7 566.1 577.3 566.3 580.9 566.4 577.4 566.6 578.5 566.7 580.8 566.8 579.8 567.0 572.3 567.1 574.8 567.3 586.1 567.4 579.9 567.6 586.8 567.7 585.4 567.8 584.0 568.0 580.0 568.1 585.7 568.3 578.0 568.4 588.5 568.6 582.1 568.7 582.1 568.8 578.3 569.0 577.6 569.1 578.9 569.3 577.8 569.4 576.5 569.6 575.7 569.7 580.7 569.9 584.6 570.0 587.6 570.1 582.9 570.3 579.6 570.4 582.4 570.6 586.6 570.7 580.5 570.9 583.9 571.0 581.5 571.1 580.6 571.3 577.8 571.4 582.8 571.6 576.8 571.7 576.2 571.9 581.4 572.0 583.8 572.1 583.7 572.3 583.3 572.4 578.9 572.6 579.5 572.7 584.4 572.9 588.1 573.0 569.6 573.1 584.8 573.3 580.9 573.4 579.8 573.6 577.2 573.7 577.6 573.9 575.3 574.0 581.0 574.1 576.2 574.3 579.3 574.4 574.1 574.6 584.6 574.7 582.6 574.9 575.4 575.0 581.7 575.2 578.4 575.3 576.6 575.4 580.2 575.6 583.2 575.7 585.8 575.9 581.0 576.0 584.5 576.2 582.6 576.3 582.6 576.4 583.7 576.6 574.6 576.7 578.4 576.9 585.7 577.0 574.7 577.2 576.6 577.3 587.3 577.4 575.9 577.6 580.4 577.7 580.9 577.9 578.7 578.0 583.5 578.2 583.2 578.3 577.1 578.4 586.6 578.6 576.6 578.7 578.1 578.9 579.2 579.0 580.6 579.2 575.4 579.3 580.7 579.5 571.1 579.6 577.7 579.7 576.1 579.9 576.9 580.0 579.3 580.2 580.5 580.3 576.6 580.5 579.6 580.6 573.6 580.7 578.0 580.9 583.1 581.0 576.8 581.2 578.2 581.3 579.3 581.5 582.6 581.6 580.9 581.7 578.8 581.9 575.5 582.0 580.3 582.2 568.2 582.3 581.0 582.5 576.5 582.6 581.9 582.7 579.1 582.9 584.6 583.0 576.9 583.2 571.7 583.3 579.4 583.5 577.5 583.6 579.0 583.8 583.9 583.9 575.8 584.0 581.9 584.2 582.8 584.3 583.5 584.5 571.6 584.6 579.9 584.8 576.7 584.9 578.4 585.0 576.2 585.2 578.1 585.3 583.0 585.5 586.0 585.6 582.0 585.8 574.6 585.9 584.2 586.0 574.6 586.2 577.9 586.3 583.7 586.5 577.1 586.6 582.1 586.8 578.3 586.9 574.9 587.0 580.2 587.2 577.3 587.3 586.1 587.5 586.5 587.6 585.4 587.8 575.4 587.9 586.7 588.0 580.6 588.2 581.3 588.3 580.1 588.5 577.3 588.6 579.9 588.8 582.8 588.9 585.4 589.1 581.6 589.2 579.4 589.3 577.5 589.5 578.2 589.6 585.7 589.8 582.0 589.9 580.3 590.1 573.0 590.2 572.5 590.3 582.0 590.5 581.8 590.6 583.7 590.8 580.1 590.9 576.8 591.1 572.7 591.2 575.8 591.3 570.4 591.5 580.5 591.6 581.2 591.8 584.7 591.9 572.3 592.1 573.9 592.2 581.7 592.3 580.6 592.5 571.5 592.6 576.6 592.8 579.7 592.9 577.8 593.1 580.8 593.2 579.4 593.4 577.1 593.5 580.8 593.6 579.0 593.8 583.8 593.9 573.6 594.1 578.4 594.2 576.6 594.4 578.3 594.5 580.8 594.6 581.8 594.8 570.9 594.9 583.8 595.1 581.3 595.2 581.3 595.4 579.5 595.5 582.9 595.6 580.8 595.8 572.1 595.9 576.6 596.1 578.2 596.2 577.7 596.4 577.4 596.5 581.5 596.6 574.7 596.8 576.2 596.9 575.2 597.1 579.0 597.2 580.8 597.4 575.5 597.5 580.6 597.7 576.9 597.8 584.6 597.9 570.2 598.1 579.0 598.2 583.5 598.4 577.6 598.5 574.7 598.7 575.6 598.8 581.2 598.9 576.8 599.1 583.2 599.2 579.2 599.4 576.8 599.5 577.2 599.7 580.8 599.8 583.0 599.9 575.8 600.1 574.3 600.2 574.3 600.4 580.8 600.5 586.1 600.7 576.9 600.8 581.6 600.9 577.4 601.1 582.6 601.2 573.1 601.4 581.3 601.5 573.8 601.7 575.6 601.8 580.2 601.9 578.0 602.1 578.6 602.2 581.0 602.4 579.7 602.5 584.8 602.7 581.9 602.8 575.5 603.0 578.6 603.1 576.7 603.2 577.2 603.4 585.9 603.5 575.7 603.7 583.9 603.8 584.8 604.0 589.6 604.1 578.8 604.2 579.8 604.4 580.0 604.5 577.3 604.7 585.8 604.8 586.6 605.0 569.6 605.1 577.5 605.2 583.5 605.4 574.6 605.5 575.9 605.7 578.8 605.8 578.6 606.0 577.9 606.1 578.1 606.2 585.9 606.4 569.4 606.5 576.6 606.7 574.0 606.8 579.5 607.0 576.8 607.1 580.5 607.3 578.6 607.4 587.8 607.5 573.3 607.7 576.6 607.8 582.0 608.0 577.0 608.1 579.1 608.3 572.3 608.4 581.3 608.5 577.9 608.7 580.7 608.8 574.7 609.0 576.2 609.1 574.9 609.3 585.0 609.4 571.2 609.5 580.0 609.7 579.3 609.8 583.4 610.0 579.4 610.1 574.1 610.3 580.3 610.4 571.2 610.5 582.4 610.7 577.7 610.8 575.1 611.0 576.1 611.1 580.4 611.3 571.3 611.4 584.9 611.6 575.2 611.7 584.2 611.8 578.7 612.0 585.7 612.1 573.0 612.3 581.5 612.4 577.6 612.6 575.3 612.7 581.3 612.8 576.9 613.0 574.8 613.1 576.9 613.3 574.6 613.4 576.8 613.6 577.5 613.7 582.0 613.8 577.2 614.0 574.4 614.1 580.6 614.3 576.0 614.4 573.5 614.6 572.4 614.7 584.5 614.8 576.8 615.0 583.9 615.1 573.2 615.3 572.8 615.4 584.1 615.6 576.0 615.7 576.2 615.8 576.0 616.0 572.6 616.1 581.0 616.3 571.7 616.4 579.8 616.6 572.1 616.7 587.3 616.9 579.4 617.0 580.9 617.1 569.2 617.3 577.6 617.4 573.4 617.6 572.3 617.7 572.3 617.9 579.2 618.0 575.8 618.1 573.4 618.3 572.9 618.4 572.6 618.6 572.9 618.7 573.9 618.9 570.1 619.0 570.9 619.1 565.2 619.3 574.4 619.4 576.8 619.6 572.1 619.7 580.0 619.9 570.6 620.0 573.9 620.1 578.5 620.3 574.5 620.4 569.8 620.6 574.6 620.7 571.2 620.9 577.5 621.0 575.8 621.2 571.4 621.3 574.4 621.4 579.5 621.6 576.7 621.7 575.3 621.9 570.6 622.0 568.6 622.2 567.6 622.3 575.3 622.4 565.8 622.6 572.1 622.7 577.2 622.9 562.8 623.0 571.3 623.2 565.0 623.3 568.7 623.4 571.4 623.6 564.4 623.7 562.7 623.9 566.6 624.0 569.2 624.2 566.3 624.3 563.5 624.4 570.8 624.6 562.4 624.7 560.7 624.9 567.6 625.0 576.8 625.2 564.5 625.3 566.2 625.5 561.8 625.6 563.6 625.7 561.0 625.9 567.4 626.0 562.9 626.2 562.3 626.3 570.2 626.5 559.0 626.6 570.0 626.7 564.8 626.9 561.4 627.0 565.5 627.2 564.3 627.3 567.1 627.5 564.6 627.6 574.4 627.7 570.6 627.9 570.9 628.0 560.2 628.2 564.3 628.3 571.4 628.5 568.8 628.6 566.2 628.7 565.9 628.9 571.2 629.0 557.8 629.2 562.7 629.3 560.5 629.5 572.2 629.6 560.8 629.7 566.1 629.9 573.6 630.0 566.3 630.2 569.1 630.3 568.1 630.5 571.3 630.6 578.3 630.8 563.3 630.9 568.5 631.0 576.4 631.2 579.8 631.3 568.4 631.5 575.8 631.6 572.8 631.8 572.8 631.9 563.9 632.0 563.2 632.2 571.2 632.3 570.2 632.5 570.5 632.6 566.0 632.8 577.7 632.9 570.7 633.0 583.6 633.2 570.9 633.3 573.7 633.5 575.5 633.6 570.9 633.8 568.2 633.9 570.3 634.0 573.0 634.2 570.9 634.3 581.8 634.5 571.1 634.6 576.8 634.8 577.1 634.9 574.6 635.1 569.4 635.2 576.2 635.3 578.2 635.5 575.0 635.6 574.5 635.8 565.4 635.9 570.0 636.1 574.0 636.2 575.6 636.3 578.1 636.5 573.8 636.6 575.9 636.8 570.9 636.9 577.9 637.1 578.4 637.2 575.0 637.3 579.6 637.5 574.3 637.6 573.6 637.8 574.5 637.9 584.1 638.1 569.1 638.2 576.7 638.3 574.5 638.5 576.4 638.6 569.9 638.8 579.1 638.9 578.8 639.1 575.0 639.2 574.4 639.4 576.5 639.5 580.2 639.6 570.0 639.8 582.1 639.9 575.1 640.1 579.8 640.2 573.0 640.4 584.5 640.5 577.6 640.6 583.8 640.8 574.0 640.9 573.9 641.1 581.3 641.2 579.5 641.4 578.1 641.5 581.8 641.6 578.4 641.8 575.3 641.9 568.9 642.1 567.3 642.2 579.4 642.4 579.1 642.5 573.0 642.6 579.0 642.8 575.9 642.9 576.9 643.1 580.8 643.2 570.3 643.4 578.3 643.5 579.0 643.7 576.0 643.8 577.5 643.9 572.1 644.1 577.4 644.2 579.4 644.4 580.0 644.5 573.9 644.7 580.1 644.8 578.1 644.9 579.6 645.1 576.6 645.2 579.4 645.4 577.6 645.5 586.8 645.7 575.5 645.8 581.4 645.9 576.7 646.1 570.6 646.2 578.7 646.4 581.8 646.5 579.8 646.7 580.0 646.8 573.4 646.9 578.0 647.1 571.0 647.2 584.0 647.4 583.1 647.5 572.4 647.7 575.1 647.8 571.6 647.9 573.6 648.1 574.9 648.2 571.8 648.4 574.8 648.5 579.3 648.7 575.5 648.8 579.7 649.0 576.0 649.1 577.1 649.2 571.5 649.4 580.6 649.5 572.1 649.7 575.3 649.8 571.5 650.0 578.8 650.1 572.5 650.2 579.1 650.4 584.8 650.5 578.2 650.7 567.5 650.8 580.9 651.0 577.6 651.1 579.4 651.2 578.6 651.4 581.7 651.5 581.1 651.7 576.7 651.8 571.8 652.0 576.6 652.1 580.1 652.2 569.3 652.4 577.6 652.5 569.5 652.7 581.6 652.8 584.6 653.0 580.6 653.1 575.3 653.3 580.3 653.4 582.5 653.5 584.0 653.7 582.9 653.8 581.6 654.0 573.0 654.1 576.7 654.3 579.0 654.4 577.3 654.5 569.0 654.7 576.4 654.8 574.2 655.0 578.0 655.1 578.5 655.3 571.2 655.4 574.0 655.5 577.7 655.7 572.8 655.8 576.9 656.0 573.6 656.1 574.2 656.3 580.7 656.4 576.5 656.5 574.8 656.7 583.4 656.8 575.7 657.0 576.9 657.1 577.1 657.3 589.5 657.4 579.6 657.6 580.6 657.7 575.5 657.8 580.5 658.0 581.7 658.1 572.2 658.3 578.8 658.4 583.8 658.6 584.5 658.7 578.0 658.8 586.5 659.0 574.2 659.1 581.3 659.3 579.2 659.4 572.7 659.6 581.2 659.7 571.7 659.8 574.3 660.0 576.6 660.1 572.0 660.3 581.8 660.4 575.0 660.6 571.7 660.7 577.9 660.8 576.8 661.0 572.3 661.1 574.5 661.3 580.4 661.4 580.1 661.6 570.1 661.7 580.6 661.8 580.6 662.0 581.3 662.1 574.4 662.3 573.2 662.4 575.9 662.6 573.5 662.7 575.1 662.9 573.6 663.0 574.8 663.1 573.9 663.3 576.0 663.4 576.4 663.6 574.5 663.7 573.2 663.9 582.1 664.0 579.2 664.1 577.2 664.3 571.3 664.4 577.5 664.6 574.0 664.7 577.1 664.9 575.4 665.0 584.9 665.1 574.1 665.3 569.5 665.4 578.2 665.6 578.3 665.7 578.9 665.9 561.6 666.0 568.6 666.1 568.8 666.3 564.9 666.4 572.4 666.6 574.4 666.7 575.9 666.9 574.9 667.0 570.6 667.2 577.1 667.3 571.0 667.4 556.9 667.6 567.6 667.7 565.3 667.9 569.8 668.0 565.9 668.2 565.9 668.3 573.3 668.4 563.0 668.6 559.7 668.7 566.7 668.9 568.1 669.0 564.0 669.2 564.0 669.3 560.7 669.4 556.7 669.6 558.8 669.7 556.8 669.9 567.3 670.0 559.6 670.2 567.1 670.3 559.0 670.4 554.6 670.6 559.4 670.7 558.9 670.9 564.0 671.0 546.5 671.2 554.0 671.3 557.6 671.5 551.0 671.6 554.9 671.7 552.2 671.9 560.5 672.0 559.1 672.2 541.1 672.3 543.2 672.5 546.5 672.6 549.7 672.7 548.7 672.9 546.2 673.0 551.7 673.2 552.6 673.3 547.9 673.5 545.2 673.6 546.5 673.7 541.3 673.9 549.9 674.0 549.5 674.2 539.3 674.3 552.1 674.5 543.4 674.6 547.9 674.7 542.9 674.9 541.6 675.0 546.3 675.2 536.5 675.3 540.4 675.5 534.8 675.6 544.1 675.7 539.9 675.9 539.2 676.0 538.0 676.2 544.5 676.3 542.4 676.5 539.6 676.6 538.2 676.8 551.0 676.9 549.5 677.0 534.8 677.2 548.1 677.3 544.5 677.5 543.4 677.6 544.3 677.8 534.5 677.9 556.3 678.0 554.3 678.2 543.4 678.3 543.6 678.5 544.8 678.6 540.7 678.8 547.8 678.9 545.1 679.0 539.9 679.2 543.5 679.3 543.2 679.5 543.9 679.6 545.9 679.8 551.7 679.9 546.6 680.0 540.8 680.2 557.6 680.3 547.5 680.5 558.8 680.6 553.1 680.8 555.3 680.9 548.7 681.1 554.2 681.2 552.3 681.3 554.6 681.5 557.9 681.6 554.2 681.8 561.0 681.9 550.3 682.1 552.7 682.2 560.8 682.3 561.8 682.5 565.1 682.6 568.3 682.8 563.2 682.9 565.3 683.1 563.5 683.2 563.5 683.3 562.9 683.5 564.5 683.6 561.9 683.8 564.3 683.9 569.2 684.1 568.3 684.2 571.8 684.3 564.9 684.5 565.9 684.6 569.9 684.8 564.5 684.9 564.8 685.1 572.0 685.2 568.3 685.4 573.8 685.5 570.8 685.6 568.8 685.8 566.5 685.9 576.7 686.1 571.4 686.2 568.2 686.4 565.9 686.5 567.3 686.6 571.2 686.8 578.5 686.9 569.6 687.1 575.0 687.2 574.9 687.4 560.2 687.5 569.1 687.6 578.0 687.8 566.2 687.9 579.7 688.1 575.2 688.2 568.4 688.4 583.3 688.5 575.2 688.6 582.4 688.8 576.9 688.9 573.1 689.1 580.9 689.2 583.8 689.4 581.8 689.5 571.8 689.6 579.4 689.8 572.1 689.9 574.6 690.1 582.6 690.2 571.4 690.4 587.5 690.5 571.1 690.7 572.2 690.8 580.6 690.9 576.8 691.1 577.1 691.2 574.0 691.4 580.8 691.5 578.8 691.7 577.6 691.8 574.7 691.9 572.0 692.1 578.1 692.2 569.4 692.4 575.6 692.5 580.8 692.7 581.1 692.8 576.7 692.9 568.0 693.1 580.7 693.2 582.0 693.4 578.7 693.5 583.7 693.7 582.7 693.8 571.9 693.9 577.7 694.1 576.7 694.2 585.0 694.4 583.1 694.5 579.2 694.7 581.1 694.8 582.4 695.0 576.0 695.1 578.2 695.2 578.5 695.4 577.3 695.5 577.7 695.7 579.9 695.8 573.8 696.0 574.4 696.1 582.2 696.2 585.2 696.4 586.6 696.5 572.0 696.7 580.6 696.8 575.8 697.0 577.0 697.1 578.3 697.2 580.8 697.4 581.4 697.5 569.5 697.7 576.8 697.8 583.6 698.0 579.7 698.1 572.8 698.2 575.3 698.4 576.1 698.5 583.3 698.7 586.3 698.8 574.9 699.0 581.3 699.1 578.2 699.3 581.6 699.4 578.4 699.5 574.9 699.7 576.8 699.8 576.8 700.0 585.2 700.1 576.4 700.3 581.6 700.4 576.0 700.5 576.7 700.7 580.3 700.8 577.2 701.0 587.3 701.1 584.7 701.3 574.9 701.4 581.5 701.5 585.4 701.7 574.6 701.8 577.8 702.0 585.3 702.1 576.1 702.3 581.9 702.4 579.0 702.5 580.0 702.7 575.2 702.8 579.0 703.0 577.6 703.1 586.3 703.3 581.8 703.4 579.7 703.5 579.2 703.7 582.0 703.8 572.8 704.0 575.2 704.1 575.5 704.3 576.0 704.4 572.6 704.6 581.2 704.7 577.2 704.8 584.1 705.0 578.6 705.1 577.6 705.3 580.8 705.4 580.8 705.6 577.9 705.7 581.3 705.8 584.0 706.0 577.2 706.1 584.2 706.3 578.2 706.4 582.4 706.6 578.8 706.7 577.4 706.8 580.1 707.0 574.4 707.1 572.5 707.3 578.7 707.4 577.9 707.6 574.4 707.7 587.3 707.8 580.5 708.0 575.9 708.1 580.9 708.3 581.0 708.4 577.2 708.6 577.8 708.7 571.3 708.9 579.6 709.0 586.3 709.1 583.3 709.3 582.9 709.4 576.3 709.6 574.4 709.7 582.2 709.9 579.8 710.0 577.8 710.1 577.4 710.3 582.4 710.4 581.1 710.6 576.7 710.7 578.1 710.9 571.9 711.0 573.8 711.1 580.8 711.3 576.7 711.4 575.0 711.6 579.6 711.7 583.5 711.9 575.1 712.0 577.1 712.1 577.4 712.3 588.2 712.4 582.5 712.6 579.5 712.7 572.7 712.9 581.4 713.0 580.6 713.2 577.5 713.3 575.3 713.4 576.5 713.6 571.7 713.7 576.7 713.9 576.4 714.0 574.6 714.2 576.9 714.3 571.9 714.4 582.7 714.6 577.5 714.7 573.4 714.9 581.2 715.0 580.4 715.2 576.1 715.3 572.8 715.4 577.8 715.6 579.9 715.7 580.6 715.9 581.7 716.0 581.4 716.2 572.0 716.3 578.4 716.4 570.4 716.6 581.8 716.7 579.5 716.9 581.7 717.0 578.0 717.2 577.8 717.3 575.7 717.4 566.6 717.6 577.0 717.7 588.2 717.9 583.0 718.0 576.9 718.2 579.1 718.3 579.6 718.5 575.4 718.6 577.7 718.7 579.1 718.9 575.7 719.0 579.5 719.2 582.6 719.3 581.0 719.5 578.8 719.6 577.0 719.7 580.6 719.9 575.5 720.0 575.1 720.2 582.7 720.3 576.1 720.5 572.1 720.6 581.0 720.7 580.5 720.9 582.1 721.0 577.1 721.2 582.1 721.3 577.0 721.5 573.4 721.6 576.8 721.7 578.5 721.9 573.1 722.0 576.7 722.2 578.5 722.3 575.7 722.5 577.8 722.6 577.3 722.8 574.2 722.9 578.7 723.0 579.7 723.2 569.3 723.3 574.6 723.5 580.7 723.6 579.2 723.8 569.7 723.9 578.3 724.0 583.0 724.2 580.9 724.3 580.4 724.5 576.9 724.6 577.6 724.8 572.7 724.9 577.4 725.0 586.6 725.2 577.2 725.3 573.5 725.5 579.4 725.6 569.0 725.8 586.4 725.9 579.7 726.0 576.1 726.2 575.7 726.3 573.5 726.5 577.6 726.6 577.3 726.8 570.9 726.9 581.2 727.1 575.7 727.2 572.7 727.3 580.9 727.5 580.1 727.6 574.7 727.8 574.4 727.9 581.5 728.1 575.4 728.2 577.8 728.3 582.5 728.5 572.1 728.6 570.8 728.8 573.5 728.9 574.6 729.1 577.0 729.2 580.9 729.3 575.2 729.5 583.8 729.6 577.8 729.8 568.8 729.9 576.7 730.1 579.8 730.2 581.4 730.3 574.0 730.5 576.5 730.6 586.0 730.8 577.5 730.9 573.2 731.1 570.7 731.2 575.1 731.3 578.4 731.5 572.4 731.6 582.4 731.8 573.8 731.9 569.1 732.1 579.5 732.2 577.0 732.4 576.0 732.5 582.1 732.6 574.4 732.8 579.8 732.9 574.7 733.1 583.6 733.2 576.9 733.4 577.0 733.5 579.3 733.6 576.5 733.8 578.7 733.9 575.9 734.1 579.4 734.2 577.1 734.4 574.7 734.5 579.2 734.6 578.8 734.8 572.5 734.9 575.6 735.1 570.0 735.2 577.2 735.4 580.2 735.5 586.7 735.6 578.0 735.8 581.0 735.9 582.8 736.1 579.7 736.2 569.2 736.4 574.9 736.5 578.1 736.7 577.9 736.8 577.2 736.9 573.0 737.1 569.1 737.2 578.2 737.4 581.4 737.5 574.7 737.7 578.9 737.8 574.4 737.9 576.0 738.1 574.2 738.2 579.9 738.4 572.8 738.5 577.1 738.7 580.2 738.8 576.4 738.9 571.5 739.1 578.0 739.2 575.7 739.4 571.1 739.5 575.6 739.7 575.1 739.8 578.8 739.9 574.3 740.1 576.6 740.2 578.7 740.4 568.4 740.5 580.1 740.7 576.2 740.8 572.0 741.0 576.6 741.1 580.2 741.2 573.1 741.4 573.6 741.5 581.4 741.7 582.2 741.8 583.9 742.0 575.8 742.1 571.7 742.2 571.6 742.4 574.1 742.5 571.3 742.7 577.1 742.8 580.4 743.0 570.8 743.1 581.2 743.2 571.2 743.4 572.0 743.5 569.1 743.7 577.7 743.8 574.2 744.0 574.5 744.1 562.2 744.2 571.7 744.4 575.3 744.5 562.4 744.7 582.0 744.8 574.9 745.0 578.0 745.1 572.0 745.2 576.9 745.4 578.3 745.5 583.6 745.7 568.1 745.8 581.2 746.0 567.5 746.1 572.6 746.3 570.0 746.4 570.7 746.5 562.8 746.7 569.6 746.8 565.3 747.0 569.4 747.1 571.1 747.3 569.9 747.4 568.8 747.5 575.1 747.7 570.0 747.8 570.9 748.0 573.8 748.1 567.1 748.3 567.4 748.4 569.5 748.5 564.8 748.7 571.3 748.8 562.1 749.0 563.5 749.1 563.3 749.3 562.0 749.4 562.8 749.5 560.1 749.7 550.4 749.8 566.6 750.0 558.4 750.1 563.4 750.3 554.0 750.4 561.4 750.6 551.5 750.7 564.3 750.8 555.8 751.0 553.5 751.1 540.6 751.3 542.7 751.4 550.9 751.6 549.4 751.7 548.6 751.8 548.4 752.0 555.3 752.1 547.3 752.3 546.5 752.4 543.8 752.6 541.3 752.7 548.2 752.8 543.1 753.0 542.5 753.1 545.4 753.3 543.3 753.4 546.5 753.6 545.5 753.7 533.4 753.8 535.4 754.0 544.5 754.1 536.1 754.3 541.1 754.4 531.8 754.6 522.2 754.7 522.8 754.9 530.7 755.0 531.6 755.1 547.1 755.3 537.2 755.4 536.4 755.6 537.2 755.7 521.8 755.9 531.1 756.0 529.7 756.1 541.6 756.3 525.4 756.4 520.5 756.6 529.3 756.7 527.5 756.9 529.0 757.0 529.6 757.1 529.0 757.3 524.2 757.4 525.3 757.6 541.9 757.7 524.2 757.9 531.1 758.0 522.2 758.1 518.0 758.3 534.0 758.4 530.1 758.6 537.1 758.7 535.9 758.9 531.5 759.0 526.0 759.1 542.4 759.3 531.9 759.4 544.7 759.6 536.8 759.7 538.6 759.9 537.5 760.0 537.3 760.2 534.1 760.3 549.5 760.4 531.6 760.6 528.8 760.7 539.8 760.9 535.2 761.0 545.2 761.2 539.4 761.3 547.8 761.4 542.5 761.6 538.5 761.7 541.8 761.9 548.1 762.0 541.8 762.2 541.4 762.3 545.7 762.4 549.2 762.6 554.8 762.7 551.3 762.9 554.4 763.0 549.7 763.2 561.0 763.3 563.5 763.4 549.7 763.6 555.0 763.7 553.9 763.9 556.9 764.0 554.5 764.2 553.2 764.3 551.0 764.5 555.6 764.6 558.9 764.7 564.5 764.9 562.9 765.0 558.8 765.2 558.2 765.3 554.9 765.5 565.8 765.6 563.6 765.7 566.6 765.9 567.8 766.0 567.4 766.2 564.9 766.3 564.5 766.5 561.8 766.6 563.9 766.7 569.2 766.9 577.9 767.0 566.3 767.2 569.6 767.3 583.2 767.5 569.8 767.6 568.2 767.7 570.1 767.9 569.3 768.0 562.3 768.2 574.7 768.3 563.6 768.5 569.2 768.6 570.0 768.8 574.0 768.9 571.4 769.0 570.5 769.2 569.1 769.3 574.0 769.5 571.7 769.6 570.3 769.8 567.9 769.9 570.0 770.0 574.4 770.2 567.4 770.3 574.7 770.5 574.7 770.6 579.2 770.8 571.7 770.9 570.6 771.0 574.4 771.2 573.3 771.3 564.2 771.5 580.0 771.6 576.2 771.8 575.9 771.9 572.1 772.0 577.0 772.2 574.4 772.3 582.2 772.5 578.6 772.6 581.7 772.8 570.9 772.9 572.4 773.0 574.4 773.2 573.6 773.3 582.7 773.5 577.8 773.6 572.0 773.8 575.3 773.9 583.9 774.1 575.3 774.2 579.0 774.3 569.7 774.5 574.4 774.6 576.1 774.8 575.7 774.9 576.8 775.1 578.2 775.2 581.5 775.3 569.8 775.5 577.2 775.6 579.8 775.8 577.9 775.9 581.6 776.1 576.5 776.2 575.3 776.3 573.8 776.5 580.8 776.6 572.0 776.8 575.4 776.9 577.0 777.1 579.7 777.2 576.1 777.3 573.5 777.5 579.6 777.6 572.7 777.8 574.4 777.9 569.3 778.1 578.0 778.2 577.9 778.4 570.3 778.5 576.4 778.6 579.5 778.8 574.6 778.9 570.6 779.1 576.9 779.2 579.8 779.4 569.9 779.5 580.8 779.6 577.1 779.8 581.1 779.9 573.3 780.1 581.1 780.2 578.7 780.4 580.6 780.5 577.8 780.6 581.4 780.8 576.8 780.9 575.8 781.1 573.4 781.2 571.3 781.4 577.8 781.5 576.2 781.6 577.2 781.8 576.5 781.9 579.0 782.1 577.8 782.2 575.3 782.4 580.7 782.5 586.1 782.7 574.2 782.8 576.0 782.9 579.9 783.1 574.9 783.2 581.8 783.4 575.1 783.5 573.1 783.7 574.1 783.8 582.1 783.9 569.9 784.1 578.4 784.2 569.4 784.4 580.9 784.5 579.6 784.7 580.7 784.8 586.6 784.9 577.9 785.1 582.8 785.2 580.6 785.4 582.5 785.5 575.4 785.7 582.9 785.8 577.2 785.9 584.4 786.1 582.3 786.2 578.9 786.4 581.1 786.5 580.9 786.7 579.7 786.8 589.5 787.0 575.6 787.1 573.5 787.2 573.6 787.4 578.0 787.5 578.8 787.7 581.7 787.8 582.9 788.0 580.0 788.1 579.6 788.2 575.4 788.4 583.1 788.5 584.6 788.7 578.7 788.8 582.0 789.0 576.7 789.1 579.1 789.2 579.6 789.4 582.6 789.5 573.4 789.7 579.5 789.8 582.8 790.0 580.6 790.1 581.9 790.2 569.3 790.4 575.8 790.5 577.5 790.7 576.1 790.8 569.8 791.0 583.3 791.1 580.1 791.2 571.4 791.4 577.1 791.5 579.2 791.7 582.8 791.8 581.7 792.0 575.0 792.1 576.4 792.3 579.9 792.4 582.9 792.5 577.2 792.7 576.5 792.8 581.3 793.0 579.5 793.1 584.4 793.3 580.9 793.4 582.9 793.5 571.1 793.7 573.6 793.8 572.9 794.0 576.2 794.1 580.3 794.3 577.8 794.4 580.9 794.5 575.9 794.7 582.8 794.8 582.3 795.0 572.0 795.1 574.6 795.3 576.4 795.4 582.1 795.5 581.9 795.7 586.0 795.8 572.8 796.0 579.7 796.1 578.7 796.3 577.7 796.4 578.2 796.6 570.5 796.7 579.9 796.8 577.1 797.0 573.7 797.1 584.4 797.3 576.0 797.4 579.7 797.6 576.0 797.7 572.6 797.8 576.9 798.0 580.0 798.1 574.7 798.3 580.8 798.4 585.6 798.6 583.6 798.7 577.6 798.8 575.7 799.0 582.5 799.1 573.3 799.3 574.7 799.4 585.9 799.6 580.5 799.7 581.0 799.8 577.9 800.0 590.4 800.1 591.7 800.3 578.6 800.4 582.5 800.6 578.1 800.7 581.1 800.9 584.6 801.0 584.5 801.1 578.4 801.3 581.0 801.4 590.8 801.6 583.3 801.7 585.2 801.9 581.8 802.0 579.0 802.1 575.0 802.3 575.5 802.4 572.7 802.6 575.1 802.7 575.9 802.9 582.4 803.0 572.7 803.1 581.1 803.3 571.5 803.4 590.0 803.6 577.1 803.7 580.1 803.9 586.6 804.0 578.7 804.1 579.9 804.3 580.1 804.4 581.7 804.6 577.5 804.7 586.6 804.9 584.1 805.0 580.1 805.1 584.5 805.3 579.1 805.4 577.4 805.6 579.1 805.7 581.4 805.9 573.3 806.0 578.2 806.2 581.3 806.3 575.1 806.4 580.8 806.6 575.0 806.7 580.3 806.9 579.2 807.0 580.9 807.2 576.5 807.3 571.5 807.4 569.0 807.6 594.6 807.7 573.5 807.9 575.9 808.0 572.7 808.2 585.1 808.3 582.4 808.4 582.9 808.6 574.8 808.7 583.6 808.9 576.4 809.0 584.5 809.2 579.1 809.3 570.1 809.4 579.0 809.6 575.9 809.7 589.3 809.9 574.0 810.0 578.2 810.2 578.3 810.3 576.0 810.5 576.4 810.6 579.2 810.7 580.8 810.9 577.6 811.0 578.3 811.2 579.4 811.3 575.5 811.5 578.4 811.6 579.5 811.7 583.5 811.9 582.1 812.0 581.4 812.2 583.1 812.3 576.2 812.5 583.9 812.6 577.8 812.7 578.7 812.9 577.7 813.0 582.0 813.2 576.7 813.3 581.7 813.5 577.9 813.6 577.3 813.7 580.9 813.9 575.8 814.0 584.1 814.2 576.4 814.3 577.3 814.5 584.1 814.6 573.3 814.8 582.9 814.9 579.5 815.0 579.6 815.2 580.0 815.3 575.6 815.5 585.9 815.6 581.4 815.8 581.9 815.9 582.5 816.0 583.1 816.2 580.5 816.3 575.4 816.5 574.0 816.6 573.7 816.8 577.4 816.9 583.2 817.0 573.9 817.2 577.8 817.3 581.6 817.5 577.8 817.6 578.1 817.8 574.8 817.9 579.8 818.0 576.8 818.2 576.3 818.3 577.5 818.5 580.6 818.6 583.0 818.8 574.5 818.9 581.1 819.0 574.7 819.2 571.6 819.3 576.4 819.5 579.3 819.6 578.9 819.8 580.6 819.9 571.0 820.1 584.7 820.2 582.4 820.3 581.8 820.5 572.7 820.6 581.0 820.8 577.1 820.9 577.2 821.1 579.2 821.2 572.8 821.3 583.5 821.5 583.3 821.6 582.4 821.8 584.8 821.9 572.5 822.1 578.0 822.2 577.9 822.3 574.3 822.5 582.5 822.6 589.5 822.8 575.1 822.9 581.6 823.1 579.6 823.2 579.9 823.3 579.7 823.5 582.1 823.6 576.9 823.8 577.8 823.9 586.0 824.1 579.4 824.2 579.3 824.4 572.4 824.5 581.2 824.6 581.8 824.8 580.5 824.9 585.6 825.1 571.5 825.2 582.9 825.4 572.9 825.5 575.2 825.6 571.4 825.8 582.6 825.9 578.8 826.1 577.5 826.2 579.4 826.4 570.9 826.5 576.8 826.6 580.0 826.8 576.8 826.9 578.9 827.1 572.9 827.2 579.8 827.4 577.9 827.5 580.0 827.6 585.3 827.8 579.4 827.9 576.7 828.1 580.7 828.2 574.7 828.4 585.6 828.5 579.1 828.7 579.1 828.8 581.0 828.9 574.1 829.1 579.0 829.2 578.2 829.4 587.5 829.5 584.7 829.7 586.3 829.8 579.2 829.9 579.6 830.1 583.2 830.2 576.3 830.4 575.4 830.5 585.2 830.7 580.9 830.8 580.9 830.9 572.3 831.1 577.3 831.2 577.2 831.4 576.2 831.5 580.3 831.7 575.4 831.8 574.4 831.9 586.8 832.1 580.9 832.2 575.0 832.4 587.5 832.5 581.3 832.7 580.5 832.8 568.5 832.9 585.1 833.1 579.9 833.2 584.2 833.4 586.1 833.5 574.3 833.7 586.7 833.8 582.7 834.0 579.9 834.1 570.4 834.2 587.2 834.4 580.8 834.5 582.0 834.7 574.8 834.8 581.9 835.0 581.8 835.1 585.5 835.2 575.9 835.4 570.9 835.5 577.1 835.7 575.6 835.8 580.6 836.0 578.9 836.1 580.3 836.2 584.6 836.4 586.2 836.5 579.8 836.7 573.3 836.8 579.5 837.0 578.7 837.1 579.1 837.2 578.9 837.4 579.3 837.5 570.8 837.7 581.6 837.8 581.4 838.0 580.7 838.1 578.9 838.3 582.9 838.4 572.7 838.5 578.9 838.7 581.6 838.8 577.5 839.0 579.0 839.1 583.2 839.3 578.6 839.4 575.8 839.5 577.4 839.7 580.7 839.8 575.2 840.0 579.3 840.1 577.7 840.3 579.5 840.4 582.2 840.5 582.1 840.7 579.5 840.8 580.1 841.0 582.3 841.1 576.2 841.3 579.9 841.4 574.8 841.5 584.1 841.7 579.7 841.8 574.3 842.0 577.4 842.1 582.3 842.3 580.4 842.4 572.9 842.6 586.2 842.7 580.3 842.8 580.8 843.0 578.2 843.1 576.3 843.3 573.6 843.4 580.0 843.6 579.3 843.7 578.4 843.8 582.4 844.0 580.7 844.1 575.5 844.3 577.9 844.4 583.8 844.6 574.1 844.7 587.8 844.8 577.4 845.0 589.5 845.1 581.3 845.3 573.3 845.4 581.3 845.6 579.9 845.7 577.9 845.8 579.8 846.0 579.8 846.1 567.0 846.3 582.5 846.4 578.5 846.6 579.7 846.7 582.4 846.8 579.6 847.0 574.9 847.1 582.8 847.3 578.4 847.4 580.5 847.6 576.9 847.7 579.0 847.9 575.8 848.0 585.8 848.1 575.6 848.3 583.4 848.4 572.4 848.6 580.7 848.7 578.6 848.9 583.5 849.0 580.6 849.1 588.5 849.3 591.1 849.4 577.6 849.6 582.4 849.7 576.0 849.9 576.0 850.0 579.5 850.1 583.2 850.3 582.3 850.4 579.1 850.6 584.1 850.7 575.2 850.9 576.3 851.0 579.5 851.1 572.7 851.3 585.1 851.4 579.3 851.6 578.5 851.7 581.6 851.9 574.6 852.0 579.4 852.2 573.3 852.3 579.2 852.4 580.4 852.6 586.1 852.7 579.9 852.9 585.2 853.0 579.9 853.2 573.6 853.3 582.9 853.4 580.2 853.6 577.7 853.7 583.6 853.9 575.8 854.0 578.4 854.2 582.7 854.3 583.2 854.4 577.4 854.6 581.1 854.7 580.2 854.9 582.4 855.0 579.0 855.2 571.7 855.3 578.5 855.4 585.8 855.6 576.7 855.7 579.1 855.9 583.2 856.0 579.1 856.2 575.7 856.3 579.8 856.5 579.2 856.6 576.6 856.7 579.3 856.9 574.5 857.0 573.9 857.2 575.6 857.3 579.2 857.5 580.0 857.6 577.6 857.7 584.2 857.9 582.3 858.0 580.2 858.2 584.4 858.3 585.8 858.5 582.8 858.6 577.8 858.7 583.3 858.9 584.7 859.0 581.7 859.2 579.6 859.3 581.1 859.5 581.4 859.6 573.0 859.7 586.3 859.9 580.3 860.0 587.8 860.2 580.4 860.3 577.0 860.5 583.3 860.6 580.5 860.7 583.6 860.9 578.4 861.0 578.4 861.2 577.5 861.3 577.5 861.5 581.8 861.6 575.2 861.8 580.8 861.9 584.4 862.0 576.4 862.2 579.2 862.3 577.1 862.5 578.6 862.6 580.6 862.8 582.8 862.9 583.5 863.0 577.5 863.2 582.7 863.3 577.7 863.5 575.6 863.6 576.3 863.8 572.5 863.9 580.2 864.0 572.9 864.2 580.8 864.3 590.3 864.5 576.4 864.6 571.9 864.8 581.5 864.9 576.0 865.0 579.9 865.2 580.0 865.3 580.9 865.5 589.0 865.6 581.3 865.8 581.1 865.9 579.7 866.1 577.3 866.2 577.7 866.3 576.0 866.5 583.5 866.6 579.6 866.8 582.8 866.9 581.5 867.1 588.9 867.2 579.9 867.3 582.7 867.5 577.9 867.6 584.8 867.8 579.6 867.9 580.5 868.1 575.0 868.2 582.5 868.3 586.9 868.5 585.7 868.6 576.2 868.8 583.9 868.9 577.7 869.1 574.0 869.2 575.6 869.3 585.4 869.5 579.3 869.6 575.7 869.8 581.9 869.9 581.8 870.1 579.3 870.2 582.4 870.4 579.0 870.5 585.3 870.6 583.5 870.8 580.3 870.9 581.9 871.1 584.0 871.2 580.1 871.4 582.5 871.5 580.0 871.6 579.2 871.8 573.0 871.9 575.6 872.1 576.5 872.2 580.6 872.4 590.6 872.5 576.7 872.6 578.6 872.8 575.3 872.9 578.8 873.1 579.4 873.2 583.0 873.4 574.9 873.5 582.2 873.6 581.2 873.8 579.1 873.9 575.4 874.1 576.1 874.2 579.5 874.4 582.5 874.5 579.8 874.6 577.3 874.8 581.4 874.9 576.2 875.1 583.3 875.2 591.7 875.4 578.0 875.5 584.3 875.7 576.5 875.8 580.7 875.9 582.4 876.1 585.1 876.2 580.5 876.4 585.6 876.5 575.4 876.7 579.5 876.8 580.4 876.9 580.7 877.1 579.9 877.2 587.6 877.4 578.9 877.5 584.4 877.7 582.1 877.8 588.5 877.9 579.6 878.1 583.3 878.2 582.7 878.4 567.9 878.5 582.1 878.7 584.6 878.8 586.5 878.9 576.4 879.1 579.8 879.2 585.4 879.4 576.2 879.5 577.5 879.7 582.9 879.8 583.3 880.0 585.9 880.1 585.1 880.2 581.5 880.4 576.6 880.5 578.1 880.7 580.7 880.8 582.2 881.0 580.9 881.1 583.9 881.2 577.8 881.4 579.1 881.5 575.7 881.7 588.6 881.8 580.1 882.0 584.6 882.1 585.8 882.2 582.2 882.4 580.1 882.5 578.9 882.7 579.8 882.8 574.1 883.0 578.7 883.1 583.8 883.2 582.0 883.4 584.1 883.5 584.0 883.7 583.6 883.8 581.3 884.0 581.6 884.1 584.5 884.3 579.4 884.4 575.6 884.5 584.1 884.7 581.0 884.8 585.1 885.0 578.3 885.1 574.4 885.3 580.2 885.4 578.3 885.5 577.1 885.7 586.9 885.8 581.9 886.0 576.2 886.1 574.6 886.3 580.4 886.4 583.1 886.5 581.9 886.7 585.4 886.8 582.1 887.0 582.7 887.1 573.4 887.3 585.9 887.4 578.7 887.5 584.5 887.7 574.8 887.8 577.3 888.0 585.5 888.1 576.0 888.3 581.5 888.4 579.3 888.5 587.7 888.7 582.4 888.8 585.9 889.0 580.8 889.1 574.2 889.3 588.8 889.4 578.6 889.6 581.1 889.7 580.7 889.8 574.7 890.0 583.7 890.1 579.4 890.3 574.0 890.4 575.0 890.6 571.9 890.7 577.7 890.8 580.0 891.0 577.0 891.1 580.6 891.3 579.3 891.4 582.7 891.6 580.7 891.7 580.0 891.8 577.5 892.0 576.0 892.1 577.1 892.3 582.1 892.4 578.7 892.6 586.3 892.7 583.8 892.8 575.3 893.0 582.3 893.1 585.5 893.3 578.0 893.4 585.4 893.6 577.7 893.7 586.8 893.9 582.7 894.0 579.7 894.1 574.0 894.3 580.1 894.4 577.6 894.6 582.0 894.7 577.1 894.9 582.4 895.0 578.7 895.1 582.8 895.3 583.8 895.4 581.2 895.6 582.5 895.7 584.9 895.9 576.8 896.0 582.9 896.1 581.5 896.3 586.9 896.4 579.8 896.6 584.4 896.7 573.9 896.9 585.5 897.0 582.2 897.1 582.1 897.3 584.1 897.4 575.6 897.6 579.6 897.7 580.8 897.9 579.3 898.0 578.5 898.2 584.3 898.3 580.6 898.4 579.6 898.6 580.7 898.7 585.7 898.9 587.8 899.0 584.8 899.2 582.5 899.3 575.2 899.4 578.3 899.6 576.8 899.7 576.8 899.9 585.2 900.0 578.1 900.2 585.9 900.3 580.9 900.4 579.9 900.6 579.6 900.7 574.8 900.9 578.8 901.0 583.8 901.2 583.1 901.3 581.0 901.4 583.1 901.6 581.0 901.7 582.0 901.9 589.9 902.0 581.0 902.2 573.6 902.3 572.1 902.4 577.5 902.6 581.2 902.7 584.3 902.9 580.3 903.0 580.9 903.2 582.7 903.3 576.5 903.5 580.2 903.6 581.7 903.7 578.8 903.9 577.1 904.0 582.4 904.2 584.6 904.3 580.6 904.5 571.1 904.6 577.2 904.7 578.6 904.9 581.9 905.0 578.3 905.2 578.5 905.3 584.0 905.5 585.1 905.6 580.4 905.7 575.8 905.9 575.2 906.0 582.5 906.2 576.9 906.3 579.9 906.5 579.2 906.6 580.5 906.7 581.2 906.9 575.8 907.0 577.3 907.2 580.5 907.3 579.9 907.5 574.4 907.6 587.2 907.8 574.2 907.9 583.7 908.0 573.2 908.2 583.4 908.3 572.5 908.5 583.1 908.6 580.1 908.8 582.5 908.9 576.4 909.0 580.3 909.2 580.2 909.3 579.9 909.5 577.0 909.6 584.5 909.8 571.9 909.9 572.9 910.0 573.1 910.2 584.6 910.3 575.3 910.5 575.9 910.6 575.8 910.8 577.4 910.9 577.5 911.0 576.5 911.2 572.3 911.3 580.0 911.5 578.3 911.6 584.3 911.8 579.8 911.9 577.7 912.1 572.2 912.2 578.2 912.3 580.2 912.5 584.5 912.6 579.2 912.8 580.8 912.9 579.9 913.1 584.0 913.2 581.9 913.3 577.3 913.5 571.1 913.6 583.6 913.8 577.1 913.9 573.4 914.1 570.6 914.2 569.1 914.3 577.3 914.5 575.4 914.6 577.3 914.8 580.9 914.9 573.2 915.1 576.8 915.2 573.2 915.3 571.7 915.5 565.8 915.6 571.7 915.8 579.4 915.9 572.5 916.1 575.8 916.2 574.9 916.3 582.9 916.5 580.4 916.6 571.2 916.8 572.0 916.9 578.6 917.1 574.6 917.2 573.9 917.4 578.3 917.5 575.6 917.6 573.7 917.8 586.0 917.9 574.5 918.1 566.8 918.2 573.9 918.4 573.5 918.5 579.6 918.6 573.5 918.8 569.2 918.9 573.5 919.1 566.4 919.2 570.0 919.4 573.0 919.5 567.6 919.6 562.4 919.8 566.5 919.9 567.4 920.1 573.4 920.2 568.7 920.4 570.4 920.5 566.5 920.6 570.8 920.8 567.7 920.9 572.9 921.1 571.4 921.2 576.7 921.4 572.9 921.5 568.8 921.7 566.4 921.8 571.2 921.9 573.5 922.1 577.1 922.2 567.8 922.4 564.5 922.5 562.2 922.7 565.9 922.8 569.5 922.9 569.2 923.1 569.1 923.2 570.3 923.4 572.1 923.5 563.3 923.7 571.0 923.8 570.1 923.9 570.2 924.1 569.2 924.2 563.0 924.4 573.3 924.5 569.3 924.7 571.0 924.8 573.0 924.9 572.0 925.1 573.7 925.2 573.9 925.4 568.2 925.5 567.4 925.7 576.0 925.8 569.3 926.0 582.0 926.1 568.3 926.2 573.8 926.4 572.9 926.5 574.5 926.7 569.6 926.8 575.1 927.0 582.2 927.1 571.7 927.2 564.9 927.4 576.9 927.5 576.1 927.7 577.3 927.8 571.3 928.0 576.6 928.1 578.7 928.2 573.1 928.4 575.5 928.5 577.5 928.7 578.6 928.8 574.7 929.0 576.6 929.1 584.1 929.2 584.3 929.4 571.9 929.5 585.2 929.7 574.9 929.8 580.9 930.0 571.7 930.1 576.0 930.3 574.2 930.4 580.3 930.5 577.9 930.7 578.9 930.8 578.8 931.0 578.1 931.1 581.1 931.3 578.0 931.4 577.3 931.5 575.1 931.7 574.2 931.8 575.7 932.0 579.4 932.1 582.0 932.3 577.5 932.4 586.0 932.5 583.1 932.7 578.4 932.8 579.7 933.0 578.3 933.1 571.2 933.3 581.7 933.4 579.4 933.5 572.0 933.7 582.1 933.8 576.5 934.0 577.8 934.1 572.0 934.3 578.6 934.4 580.5 934.5 577.2 934.7 578.9 934.8 571.5 935.0 581.0 935.1 578.8 935.3 578.8 935.4 581.7 935.6 583.1 935.7 578.8 935.8 582.6 936.0 586.3 936.1 574.9 936.3 579.5 936.4 572.8 936.6 580.5 936.7 584.6 936.8 578.7 937.0 574.7 937.1 577.1 937.3 580.9 937.4 573.4 937.6 573.8 937.7 581.1 937.8 574.0 938.0 579.6 938.1 575.2 938.3 573.1 938.4 582.5 938.6 583.8 938.7 576.3 938.8 588.4 939.0 580.1 939.1 581.5 939.3 580.2 939.4 575.3 939.6 583.6 939.7 580.2 939.9 581.6 940.0 580.2 940.1 578.1 940.3 588.9 940.4 581.4 940.6 578.8 940.7 582.3 940.9 575.0 941.0 581.2 941.1 590.4 941.3 577.1 941.4 581.7 941.6 575.2 941.7 579.9 941.9 584.2 942.0 575.8 942.1 576.1 942.3 584.4 942.4 580.9 942.6 582.4 942.7 581.9 942.9 574.8 943.0 573.1 943.1 572.4 943.3 581.8 943.4 574.3 943.6 572.9 943.7 577.6 943.9 579.2 944.0 580.8 944.2 572.7 944.3 585.0 944.4 576.1 944.6 580.4 944.7 579.6 944.9 575.9 945.0 581.4 945.2 581.2 945.3 584.3 945.4 587.4 945.6 588.3 945.7 583.6 945.9 582.6 946.0 578.5 946.2 574.0 946.3 581.6 946.4 577.7 946.6 578.9 946.7 578.1 946.9 581.6 947.0 578.4 947.2 589.4 947.3 583.4 947.4 578.0 947.6 581.5 947.7 585.5 947.9 575.3 948.0 580.9 948.2 577.9 948.3 580.3 948.4 578.1 948.6 580.8 948.7 581.9 948.9 582.5 949.0 574.2 949.2 582.9 949.3 580.2 949.5 577.6 949.6 579.9 949.7 586.4 949.9 579.5 950.0 576.7 950.2 582.9 950.3 579.3 950.5 582.9 950.6 581.2 950.7 585.6 950.9 577.8 951.0 578.7 951.2 584.5 951.3 586.9 951.5 581.1 951.6 585.0 951.7 582.1 951.9 580.3 952.0 573.7 952.2 588.6 952.3 584.9 952.5 571.3 952.6 583.4 952.7 577.9 952.9 576.2 953.0 578.0 953.2 583.1 953.3 580.0 953.5 579.4 953.6 579.6 953.8 578.7 953.9 582.3 954.0 572.2 954.2 575.0 954.3 579.6 954.5 575.6 954.6 580.8 954.8 578.7 954.9 581.8 955.0 579.6 955.2 582.6 955.3 580.2 955.5 583.1 955.6 578.9 955.8 573.4 955.9 580.4 956.0 580.4 956.2 578.4 956.3 584.3 956.5 582.5 956.6 586.5 956.8 579.0 956.9 578.9 957.0 582.5 957.2 586.4 957.3 577.8 957.5 582.5 957.6 580.4 957.8 579.4 957.9 584.2 958.1 584.0 958.2 583.4 958.3 578.1 958.5 580.6 958.6 574.0 958.8 582.7 958.9 575.5 959.1 579.6 959.2 584.0 959.3 579.7 959.5 581.2 959.6 578.0 959.8 590.9 959.9 575.9 960.1 578.4 960.2 580.2 960.3 591.1 960.5 578.5 960.6 581.0 960.8 584.0 960.9 572.5 961.1 584.4 961.2 582.3 961.3 586.9 961.5 587.0 961.6 583.0 961.8 585.4 961.9 578.5 962.1 576.6 962.2 580.2 962.3 581.9 962.5 579.9 962.6 582.8 962.8 583.6 962.9 588.0 963.1 580.6 963.2 579.3 963.4 583.1 963.5 582.1 963.6 583.5 963.8 587.9 963.9 578.0 964.1 584.2 964.2 586.6 964.4 586.4 964.5 575.5 964.6 580.1 964.8 586.3 964.9 581.3 965.1 583.0 965.2 580.8 965.4 586.4 965.5 582.2 965.6 580.1 965.8 581.7 965.9 586.7 966.1 582.8 966.2 574.8 966.4 573.0 966.5 583.8 966.6 574.5 966.8 581.6 966.9 578.2 967.1 581.8 967.2 578.0 967.4 571.5 967.5 586.3 967.7 580.6 967.8 580.0 967.9 586.8 968.1 583.4 968.2 585.0 968.4 579.8 968.5 581.1 968.7 582.4 968.8 578.3 968.9 583.9 969.1 582.3 969.2 579.4 969.4 579.0 969.5 584.0 969.7 580.0 969.8 582.2 969.9 581.7 970.1 579.8 970.2 568.1 970.4 582.0 970.5 583.8 970.7 578.1 970.8 578.0 970.9 584.1 971.1 576.0 971.2 585.5 971.4 582.8 971.5 586.0 971.7 580.5 971.8 581.1 972.0 581.8 972.1 574.7 972.2 577.3 972.4 585.0 972.5 578.0 972.7 577.0 972.8 582.0 973.0 586.0 973.1 580.5 973.2 579.6 973.4 580.6 973.5 582.4 973.7 574.6 973.8 582.1 974.0 582.3 974.1 584.8 974.2 584.9 974.4 583.3 974.5 588.6 974.7 580.8 974.8 580.4 975.0 587.1 975.1 581.3 975.2 578.5 975.4 578.7 975.5 580.8 975.7 575.6 975.8 584.7 976.0 582.0 976.1 585.8 976.2 576.8 976.4 579.5 976.5 578.3 976.7 582.9 976.8 582.3 977.0 583.7 977.1 583.5 977.3 576.6 977.4 581.9 977.5 581.1 977.7 580.7 977.8 582.8 978.0 573.5 978.1 578.1 978.3 579.7 978.4 577.5 978.5 576.3 978.7 584.3 978.8 584.1 979.0 587.3 979.1 577.1 979.3 571.7 979.4 583.2 979.5 579.3 979.7 576.4 979.8 582.5 980.0 580.2 980.1 573.8 980.3 580.8 980.4 574.1 980.5 582.5 980.7 575.5 980.8 574.5 981.0 583.1 981.1 584.0 981.3 579.3 981.4 575.9 981.6 582.6 981.7 580.8 981.8 581.2 982.0 578.8 982.1 574.5 982.3 578.4 982.4 585.8 982.6 577.7 982.7 579.8 982.8 580.1 983.0 583.9 983.1 581.4 983.3 578.7 983.4 587.5 983.6 581.0 983.7 581.5 983.8 577.7 984.0 574.5 984.1 582.0 984.3 579.0 984.4 581.5 984.6 571.7 984.7 586.8 984.8 580.5 985.0 583.4 985.1 576.2 985.3 580.7 985.4 580.9 985.6 584.6 985.7 583.3 985.9 572.5 986.0 581.2 986.1 580.8 986.3 579.1 986.4 581.2 986.6 582.6 986.7 584.0 986.9 576.0 987.0 577.1 987.1 580.5 987.3 582.9 987.4 576.7 987.6 580.4 987.7 575.5 987.9 580.5 988.0 579.7 988.1 582.3 988.3 585.7 988.4 577.4 988.6 582.0 988.7 574.3 988.9 581.6 989.0 587.2 989.1 574.5 989.3 578.4 989.4 568.2 989.6 582.0 989.7 588.8 989.9 576.8 990.0 581.7 990.1 585.8 990.3 577.5 990.4 581.2 990.6 577.5 990.7 578.6 990.9 580.5 991.0 583.8 991.2 581.4 991.3 580.3 991.4 579.8 991.6 584.6 991.7 582.4 991.9 582.1 992.0 573.4 992.2 579.7 992.3 576.4 992.4 587.2 992.6 583.1 992.7 586.1 992.9 577.3 993.0 574.6 993.2 577.4 993.3 583.0 993.4 577.9 993.6 583.3 993.7 585.8 993.9 579.3 994.0 584.4 994.2 572.1 994.3 575.8 994.4 578.2 994.6 579.3 994.7 575.1 994.9 579.1 995.0 584.6 995.2 583.9 995.3 582.2 995.5 577.0 995.6 586.1 995.7 583.1 995.9 576.7 996.0 584.4 996.2 579.3 996.3 582.7 996.5 582.1 996.6 582.9 996.7 586.5 996.9 590.4 997.0 582.2 997.2 581.2 997.3 580.6 997.5 582.5 997.6 583.1 997.7 575.7 997.9 581.2 998.0 589.7 998.2 583.8 998.3 585.1 998.5 580.7 998.6 589.2 998.7 583.2 998.9 579.7 999.0 578.0 999.2 582.7 999.3 587.8 999.5 578.3 999.6 577.1 999.8 571.9 999.9 583.6 1000.0 576.7 1000.2 578.0 1000.3 576.7 1000.5 577.4 1000.6 583.8 1000.8 577.8 1000.9 581.4 1001.0 577.9 1001.2 579.3 1001.3 583.3 1001.5 583.2 1001.6 576.2 1001.8 580.8 1001.9 577.0" stroke="#000" stroke-opacity="0.75" stroke-width="1.5"/>
</g>
<g stroke="#000" stroke-width="2.5" fill="none" stroke-linejoin="round">
<rect x="141.1" y="13.3" width="860.7" height="604.35"/>
<path d="M141.1 450.5H150M141.1 281.9H150M141.1 114.5H150"/>
<path d="M213.8 617.6V610.8M285.4 617.6V610.8M357.0 617.6V610.8M428.7 617.6V610.8M500.4 617.6V610.8M572.0 617.6V610.8M643.6 617.6V610.8M715.3 617.6V610.8M787.0 617.6V610.8M858.6 617.6V610.8M930.2 617.6V610.8"/>
</g>
<g font-size="27.5" text-anchor="end">
<text x="118.6" y="627.2">0</text>
<text x="117.6" y="459.6">500</text>
<text x="118.8" y="291.8">1000</text>
<text x="118.8" y="123.9">1500</text>
</g>
<g font-size="27.5" text-anchor="middle">
<text x="141.9" y="659.5">20</text>
<text x="285.3" y="659.5">30</text>
<text x="428.6" y="659.5">40</text>
<text x="572" y="659.5">50</text>
<text x="715.4" y="659.5">60</text>
<text x="858.7" y="659.5">70</text>
<text x="1002" y="659.5">80</text>
</g>
<text font-size="31" font-weight="bold" text-anchor="middle" transform="translate(38.7 319) rotate(-90)">Intensity (arb. unit)</text>
<g font-size="31" font-weight="bold"><text x="492.5" y="712.5">2</text><text font-style="italic" transform="translate(509.5 712.5) scale(1.34 1)">θ</text><text transform="translate(539.5 712.5) scale(1.022 1)">(degree)</text></g>
<g stroke-width="3.6">
<path d="M612.3 107.3H681.7" stroke="#90C6F8"/>
<path d="M612.3 138.4H681.7" stroke="#000" stroke-width="4"/>
</g>
<g font-size="24">
<text x="693.3" y="115.7">Prussian blue</text>
<text x="693.3" y="143.8">Prussian blue-coated</text>
<text x="693.3" y="173.7">PDDA@Iron oxide</text>
</g>
</svg>
</body></html>
